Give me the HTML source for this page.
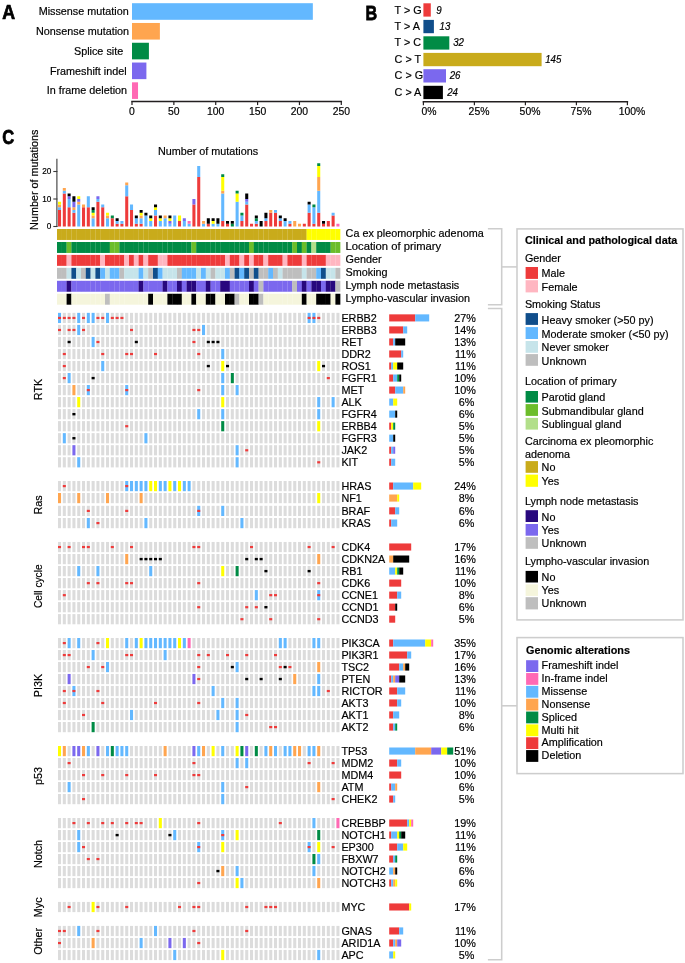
<!DOCTYPE html>
<html><head><meta charset="utf-8"><title>Figure</title>
<style>
html,body{margin:0;padding:0;background:#fff;}
body{width:685px;height:963px;overflow:hidden;}
svg{display:block;font-family:"Liberation Sans", sans-serif;will-change:transform;} text{stroke:#000;stroke-width:0.18px;} text.h{stroke-width:0.75px;} .g{fill:#dcdcdc;}
</style></head>
<body><svg width="685" height="963" viewBox="0 0 685 963" shape-rendering="auto">
<rect x="0" y="0" width="685" height="963" fill="#fff"/>
<text x="0" y="0" font-size="20.2" font-weight="bold" fill="#000000" class="h" transform="translate(2.3,19.4) scale(0.88,1)">A</text>
<rect x="132" y="3.2" width="180.84" height="16.6" fill="#63b8ff"/>
<text x="128.70" y="15.20" font-size="10.8" text-anchor="end" fill="#000000">Missense mutation</text>
<rect x="132" y="22.98" width="27.88" height="16.6" fill="#ffa54f"/>
<text x="129.10" y="34.98" font-size="10.8" text-anchor="end" fill="#000000">Nonsense mutation</text>
<rect x="132" y="42.76" width="16.91" height="16.6" fill="#008b45"/>
<text x="123.20" y="54.76" font-size="10.8" text-anchor="end" fill="#000000">Splice site</text>
<rect x="132" y="62.54" width="14.4" height="16.6" fill="#7b68ee"/>
<text x="126.70" y="74.54" font-size="10.8" text-anchor="end" fill="#000000">Frameshift indel</text>
<rect x="132" y="82.32" width="6.03" height="16.6" fill="#ff69b4"/>
<text x="127.10" y="94.32" font-size="10.8" text-anchor="end" fill="#000000">In frame deletion</text>
<line x1="131.25" y1="101.60" x2="342.05" y2="101.60" stroke="#231f20" stroke-width="1.5"/>
<line x1="132.00" y1="101.60" x2="132.00" y2="105.10" stroke="#231f20" stroke-width="1.2"/>
<text x="132.00" y="114.90" font-size="10.4" text-anchor="middle" fill="#000000">0</text>
<line x1="173.86" y1="101.60" x2="173.86" y2="105.10" stroke="#231f20" stroke-width="1.2"/>
<text x="173.86" y="114.90" font-size="10.4" text-anchor="middle" fill="#000000">50</text>
<line x1="215.72" y1="101.60" x2="215.72" y2="105.10" stroke="#231f20" stroke-width="1.2"/>
<text x="215.72" y="114.90" font-size="10.4" text-anchor="middle" fill="#000000">100</text>
<line x1="257.58" y1="101.60" x2="257.58" y2="105.10" stroke="#231f20" stroke-width="1.2"/>
<text x="257.58" y="114.90" font-size="10.4" text-anchor="middle" fill="#000000">150</text>
<line x1="299.44" y1="101.60" x2="299.44" y2="105.10" stroke="#231f20" stroke-width="1.2"/>
<text x="299.44" y="114.90" font-size="10.4" text-anchor="middle" fill="#000000">200</text>
<line x1="341.30" y1="101.60" x2="341.30" y2="105.10" stroke="#231f20" stroke-width="1.2"/>
<text x="341.30" y="114.90" font-size="10.4" text-anchor="middle" fill="#000000">250</text>
<text x="0" y="0" font-size="20.2" font-weight="bold" fill="#000000" class="h" transform="translate(365.6,19.7) scale(0.80,1)">B</text>
<rect x="423.4" y="3.3" width="7.4" height="13.3" fill="#ee3b3b"/>
<text x="394.60" y="13.60" font-size="10.8" fill="#000000">T &gt; G</text>
<text x="0" y="0" font-size="9.7" font-style="italic" fill="#000000" transform="translate(436.30,13.60) scale(1,1.05)">9</text>
<rect x="423.4" y="19.9" width="10.5" height="13.3" fill="#104e8b"/>
<text x="394.60" y="30.00" font-size="10.8" fill="#000000">T &gt; A</text>
<text x="0" y="0" font-size="9.7" font-style="italic" fill="#000000" transform="translate(439.60,30.00) scale(1,1.05)">13</text>
<rect x="423.4" y="36.3" width="25.9" height="13.3" fill="#008b45"/>
<text x="394.60" y="46.40" font-size="10.8" fill="#000000">T &gt; C</text>
<text x="0" y="0" font-size="9.7" font-style="italic" fill="#000000" transform="translate(453.20,46.40) scale(1,1.05)">32</text>
<rect x="423.4" y="52.9" width="118.2" height="13.3" fill="#c9ab1b"/>
<text x="394.60" y="62.90" font-size="10.8" fill="#000000">C &gt; T</text>
<text x="0" y="0" font-size="9.7" font-style="italic" fill="#000000" transform="translate(545.20,62.90) scale(1,1.05)">145</text>
<rect x="423.4" y="69.2" width="22.6" height="13.3" fill="#7b68ee"/>
<text x="394.60" y="79.10" font-size="10.8" fill="#000000">C &gt; G</text>
<text x="0" y="0" font-size="9.7" font-style="italic" fill="#000000" transform="translate(449.70,79.10) scale(1,1.05)">26</text>
<rect x="423.4" y="85.8" width="19.5" height="13.3" fill="#000000"/>
<text x="394.60" y="95.60" font-size="10.8" fill="#000000">C &gt; A</text>
<text x="0" y="0" font-size="9.7" font-style="italic" fill="#000000" transform="translate(447.20,95.60) scale(1,1.05)">24</text>
<line x1="422.65" y1="101.85" x2="628.15" y2="101.85" stroke="#231f20" stroke-width="1.5"/>
<line x1="423.40" y1="101.85" x2="423.40" y2="105.35" stroke="#231f20" stroke-width="1.2"/>
<text x="421.41" y="114.90" font-size="10.4" fill="#000000">0%</text>
<line x1="474.40" y1="101.85" x2="474.40" y2="105.35" stroke="#231f20" stroke-width="1.2"/>
<text x="468.62" y="114.90" font-size="10.4" fill="#000000">25%</text>
<line x1="525.40" y1="101.85" x2="525.40" y2="105.35" stroke="#231f20" stroke-width="1.2"/>
<text x="519.62" y="114.90" font-size="10.4" fill="#000000">50%</text>
<line x1="576.40" y1="101.85" x2="576.40" y2="105.35" stroke="#231f20" stroke-width="1.2"/>
<text x="570.62" y="114.90" font-size="10.4" fill="#000000">75%</text>
<line x1="627.40" y1="101.85" x2="627.40" y2="105.35" stroke="#231f20" stroke-width="1.2"/>
<text x="618.73" y="114.90" font-size="10.4" fill="#000000">100%</text>
<text x="0" y="0" font-size="20.2" font-weight="bold" fill="#000000" class="h" transform="translate(2.3,143.6) scale(0.82,1)">C</text>
<text x="208.00" y="154.90" font-size="10.8" text-anchor="middle" fill="#000000">Number of mutations</text>
<text x="0" y="0" font-size="10.8" fill="#000000" text-anchor="middle" transform="translate(38.3,179.8) rotate(-90)">Number of mutations</text>
<line x1="56.90" y1="158.80" x2="56.90" y2="226.90" stroke="#3a3a3a" stroke-width="1.1"/>
<line x1="53.30" y1="226.50" x2="57.40" y2="226.50" stroke="#3a3a3a" stroke-width="1.1"/>
<text x="51.30" y="229.40" font-size="8.2" text-anchor="end" fill="#000000">0</text>
<line x1="53.30" y1="199.00" x2="57.40" y2="199.00" stroke="#3a3a3a" stroke-width="1.1"/>
<text x="51.30" y="201.90" font-size="8.2" text-anchor="end" fill="#000000">10</text>
<line x1="53.30" y1="171.50" x2="57.40" y2="171.50" stroke="#3a3a3a" stroke-width="1.1"/>
<text x="51.30" y="174.40" font-size="8.2" text-anchor="end" fill="#000000">20</text>
<rect x="58" y="210" width="3.05" height="16.5" fill="#ee3b3b"/>
<rect x="58" y="207.25" width="3.05" height="2.75" fill="#63b8ff"/>
<rect x="58" y="204.5" width="3.05" height="2.75" fill="#ffa54f"/>
<rect x="58" y="201.75" width="3.05" height="2.75" fill="#ffff00"/>
<rect x="62.8" y="193.5" width="3.05" height="33" fill="#ee3b3b"/>
<rect x="62.8" y="190.75" width="3.05" height="2.75" fill="#63b8ff"/>
<rect x="62.8" y="188" width="3.05" height="2.75" fill="#ffa54f"/>
<rect x="67.6" y="207.25" width="3.05" height="19.25" fill="#ee3b3b"/>
<rect x="67.6" y="199" width="3.05" height="8.25" fill="#63b8ff"/>
<rect x="67.6" y="196.25" width="3.05" height="2.75" fill="#7b68ee"/>
<rect x="67.6" y="193.5" width="3.05" height="2.75" fill="#000000"/>
<rect x="72.4" y="212.75" width="3.05" height="13.75" fill="#ee3b3b"/>
<rect x="72.4" y="210" width="3.05" height="2.75" fill="#63b8ff"/>
<rect x="72.4" y="207.25" width="3.05" height="2.75" fill="#ffa54f"/>
<rect x="72.4" y="201.75" width="3.05" height="5.5" fill="#7b68ee"/>
<rect x="72.4" y="196.25" width="3.05" height="5.5" fill="#000000"/>
<rect x="77.2" y="204.5" width="3.05" height="22" fill="#63b8ff"/>
<rect x="77.2" y="201.75" width="3.05" height="2.75" fill="#ffa54f"/>
<rect x="77.2" y="199" width="3.05" height="2.75" fill="#7b68ee"/>
<rect x="77.2" y="196.25" width="3.05" height="2.75" fill="#ffff00"/>
<rect x="82" y="207.25" width="3.05" height="19.25" fill="#ee3b3b"/>
<rect x="82" y="204.5" width="3.05" height="2.75" fill="#ffa54f"/>
<rect x="86.8" y="207.25" width="3.05" height="19.25" fill="#ee3b3b"/>
<rect x="86.8" y="196.25" width="3.05" height="11" fill="#63b8ff"/>
<rect x="91.6" y="218.25" width="3.05" height="8.25" fill="#63b8ff"/>
<rect x="91.6" y="215.5" width="3.05" height="2.75" fill="#ffa54f"/>
<rect x="91.6" y="212.75" width="3.05" height="2.75" fill="#ffff00"/>
<rect x="91.6" y="210" width="3.05" height="2.75" fill="#008b45"/>
<rect x="91.6" y="207.25" width="3.05" height="2.75" fill="#000000"/>
<rect x="96.4" y="201.75" width="3.05" height="24.75" fill="#ee3b3b"/>
<rect x="96.4" y="199" width="3.05" height="2.75" fill="#63b8ff"/>
<rect x="96.4" y="196.25" width="3.05" height="2.75" fill="#7b68ee"/>
<rect x="101.2" y="207.25" width="3.05" height="19.25" fill="#ee3b3b"/>
<rect x="101.2" y="204.5" width="3.05" height="2.75" fill="#63b8ff"/>
<rect x="106" y="218.25" width="3.05" height="8.25" fill="#63b8ff"/>
<rect x="106" y="215.5" width="3.05" height="2.75" fill="#ffa54f"/>
<rect x="106" y="212.75" width="3.05" height="2.75" fill="#ffff00"/>
<rect x="110.8" y="218.25" width="3.05" height="8.25" fill="#ee3b3b"/>
<rect x="110.8" y="215.5" width="3.05" height="2.75" fill="#008b45"/>
<rect x="115.6" y="223.75" width="3.05" height="2.75" fill="#ee3b3b"/>
<rect x="115.6" y="221" width="3.05" height="2.75" fill="#63b8ff"/>
<rect x="115.6" y="218.25" width="3.05" height="2.75" fill="#000000"/>
<rect x="120.4" y="223.75" width="3.05" height="2.75" fill="#ee3b3b"/>
<rect x="120.4" y="221" width="3.05" height="2.75" fill="#63b8ff"/>
<rect x="125.2" y="196.25" width="3.05" height="30.25" fill="#ee3b3b"/>
<rect x="125.2" y="185.25" width="3.05" height="11" fill="#63b8ff"/>
<rect x="125.2" y="182.5" width="3.05" height="2.75" fill="#ffa54f"/>
<rect x="130" y="210" width="3.05" height="16.5" fill="#ee3b3b"/>
<rect x="130" y="204.5" width="3.05" height="5.5" fill="#63b8ff"/>
<rect x="134.8" y="223.75" width="3.05" height="2.75" fill="#ee3b3b"/>
<rect x="134.8" y="218.25" width="3.05" height="5.5" fill="#63b8ff"/>
<rect x="134.8" y="215.5" width="3.05" height="2.75" fill="#000000"/>
<rect x="139.6" y="223.75" width="3.05" height="2.75" fill="#ee3b3b"/>
<rect x="139.6" y="218.25" width="3.05" height="5.5" fill="#63b8ff"/>
<rect x="139.6" y="215.5" width="3.05" height="2.75" fill="#ffa54f"/>
<rect x="139.6" y="212.75" width="3.05" height="2.75" fill="#ffff00"/>
<rect x="139.6" y="210" width="3.05" height="2.75" fill="#000000"/>
<rect x="144.4" y="215.5" width="3.05" height="11" fill="#63b8ff"/>
<rect x="144.4" y="212.75" width="3.05" height="2.75" fill="#000000"/>
<rect x="149.2" y="221" width="3.05" height="5.5" fill="#63b8ff"/>
<rect x="149.2" y="218.25" width="3.05" height="2.75" fill="#ffff00"/>
<rect x="149.2" y="215.5" width="3.05" height="2.75" fill="#000000"/>
<rect x="154" y="215.5" width="3.05" height="11" fill="#ee3b3b"/>
<rect x="154" y="210" width="3.05" height="5.5" fill="#63b8ff"/>
<rect x="154" y="207.25" width="3.05" height="2.75" fill="#ffff00"/>
<rect x="154" y="204.5" width="3.05" height="2.75" fill="#000000"/>
<rect x="158.8" y="221" width="3.05" height="5.5" fill="#63b8ff"/>
<rect x="158.8" y="218.25" width="3.05" height="2.75" fill="#ffff00"/>
<rect x="158.8" y="215.5" width="3.05" height="2.75" fill="#000000"/>
<rect x="163.6" y="218.25" width="3.05" height="8.25" fill="#63b8ff"/>
<rect x="163.6" y="215.5" width="3.05" height="2.75" fill="#ffa54f"/>
<rect x="168.4" y="223.75" width="3.05" height="2.75" fill="#63b8ff"/>
<rect x="168.4" y="221" width="3.05" height="2.75" fill="#7b68ee"/>
<rect x="168.4" y="218.25" width="3.05" height="2.75" fill="#ffff00"/>
<rect x="168.4" y="215.5" width="3.05" height="2.75" fill="#000000"/>
<rect x="173.2" y="215.5" width="3.05" height="11" fill="#63b8ff"/>
<rect x="178" y="221" width="3.05" height="5.5" fill="#ee3b3b"/>
<rect x="178" y="215.5" width="3.05" height="5.5" fill="#ffff00"/>
<rect x="182.8" y="221" width="3.05" height="5.5" fill="#63b8ff"/>
<rect x="182.8" y="218.25" width="3.05" height="2.75" fill="#7b68ee"/>
<rect x="187.6" y="223.75" width="3.05" height="2.75" fill="#63b8ff"/>
<rect x="187.6" y="221" width="3.05" height="2.75" fill="#ff69b4"/>
<rect x="192.4" y="204.5" width="3.05" height="22" fill="#ee3b3b"/>
<rect x="192.4" y="199" width="3.05" height="5.5" fill="#7b68ee"/>
<rect x="197.2" y="177" width="3.05" height="49.5" fill="#ee3b3b"/>
<rect x="197.2" y="166" width="3.05" height="11" fill="#63b8ff"/>
<rect x="202" y="223.75" width="3.05" height="2.75" fill="#63b8ff"/>
<rect x="202" y="221" width="3.05" height="2.75" fill="#ffa54f"/>
<rect x="206.8" y="223.75" width="3.05" height="2.75" fill="#ee3b3b"/>
<rect x="206.8" y="218.25" width="3.05" height="5.5" fill="#000000"/>
<rect x="211.6" y="223.75" width="3.05" height="2.75" fill="#63b8ff"/>
<rect x="211.6" y="221" width="3.05" height="2.75" fill="#ffff00"/>
<rect x="211.6" y="218.25" width="3.05" height="2.75" fill="#000000"/>
<rect x="216.4" y="223.75" width="3.05" height="2.75" fill="#63b8ff"/>
<rect x="216.4" y="218.25" width="3.05" height="5.5" fill="#000000"/>
<rect x="221.2" y="221" width="3.05" height="5.5" fill="#ee3b3b"/>
<rect x="221.2" y="193.5" width="3.05" height="27.5" fill="#63b8ff"/>
<rect x="221.2" y="190.75" width="3.05" height="2.75" fill="#ffa54f"/>
<rect x="221.2" y="177" width="3.05" height="13.75" fill="#ffff00"/>
<rect x="221.2" y="174.25" width="3.05" height="2.75" fill="#008b45"/>
<rect x="226" y="223.75" width="3.05" height="2.75" fill="#ee3b3b"/>
<rect x="226" y="221" width="3.05" height="2.75" fill="#000000"/>
<rect x="230.8" y="223.75" width="3.05" height="2.75" fill="#008b45"/>
<rect x="230.8" y="221" width="3.05" height="2.75" fill="#000000"/>
<rect x="235.6" y="201.75" width="3.05" height="24.75" fill="#63b8ff"/>
<rect x="235.6" y="193.5" width="3.05" height="8.25" fill="#ffff00"/>
<rect x="235.6" y="190.75" width="3.05" height="2.75" fill="#008b45"/>
<rect x="240.4" y="221" width="3.05" height="5.5" fill="#ee3b3b"/>
<rect x="240.4" y="215.5" width="3.05" height="5.5" fill="#63b8ff"/>
<rect x="240.4" y="212.75" width="3.05" height="2.75" fill="#008b45"/>
<rect x="245.2" y="204.5" width="3.05" height="22" fill="#ee3b3b"/>
<rect x="245.2" y="201.75" width="3.05" height="2.75" fill="#63b8ff"/>
<rect x="245.2" y="199" width="3.05" height="2.75" fill="#7b68ee"/>
<rect x="245.2" y="193.5" width="3.05" height="5.5" fill="#000000"/>
<rect x="250" y="223.75" width="3.05" height="2.75" fill="#ee3b3b"/>
<rect x="254.8" y="223.75" width="3.05" height="2.75" fill="#ee3b3b"/>
<rect x="254.8" y="221" width="3.05" height="2.75" fill="#63b8ff"/>
<rect x="254.8" y="218.25" width="3.05" height="2.75" fill="#008b45"/>
<rect x="254.8" y="215.5" width="3.05" height="2.75" fill="#000000"/>
<rect x="259.6" y="221" width="3.05" height="5.5" fill="#000000"/>
<rect x="264.4" y="221" width="3.05" height="5.5" fill="#ee3b3b"/>
<rect x="264.4" y="218.25" width="3.05" height="2.75" fill="#63b8ff"/>
<rect x="264.4" y="212.75" width="3.05" height="5.5" fill="#000000"/>
<rect x="269.2" y="212.75" width="3.05" height="13.75" fill="#ee3b3b"/>
<rect x="269.2" y="210" width="3.05" height="2.75" fill="#ffa54f"/>
<rect x="274" y="212.75" width="3.05" height="13.75" fill="#ee3b3b"/>
<rect x="274" y="210" width="3.05" height="2.75" fill="#63b8ff"/>
<rect x="278.8" y="221" width="3.05" height="5.5" fill="#ee3b3b"/>
<rect x="278.8" y="218.25" width="3.05" height="2.75" fill="#63b8ff"/>
<rect x="278.8" y="215.5" width="3.05" height="2.75" fill="#000000"/>
<rect x="283.6" y="221" width="3.05" height="5.5" fill="#63b8ff"/>
<rect x="283.6" y="218.25" width="3.05" height="2.75" fill="#000000"/>
<rect x="288.4" y="223.75" width="3.05" height="2.75" fill="#ee3b3b"/>
<rect x="288.4" y="221" width="3.05" height="2.75" fill="#63b8ff"/>
<rect x="293.2" y="221" width="3.05" height="5.5" fill="#ffa54f"/>
<rect x="298" y="223.75" width="3.05" height="2.75" fill="#ffa54f"/>
<rect x="302.8" y="223.75" width="3.05" height="2.75" fill="#ee3b3b"/>
<rect x="307.6" y="212.75" width="3.05" height="13.75" fill="#ee3b3b"/>
<rect x="307.6" y="204.5" width="3.05" height="8.25" fill="#63b8ff"/>
<rect x="307.6" y="201.75" width="3.05" height="2.75" fill="#000000"/>
<rect x="312.4" y="223.75" width="3.05" height="2.75" fill="#ee3b3b"/>
<rect x="312.4" y="207.25" width="3.05" height="16.5" fill="#63b8ff"/>
<rect x="312.4" y="204.5" width="3.05" height="2.75" fill="#008b45"/>
<rect x="317.2" y="212.75" width="3.05" height="13.75" fill="#ee3b3b"/>
<rect x="317.2" y="190.75" width="3.05" height="22" fill="#63b8ff"/>
<rect x="317.2" y="177" width="3.05" height="13.75" fill="#ffa54f"/>
<rect x="317.2" y="166" width="3.05" height="11" fill="#ffff00"/>
<rect x="317.2" y="163.25" width="3.05" height="2.75" fill="#008b45"/>
<rect x="322" y="223.75" width="3.05" height="2.75" fill="#ee3b3b"/>
<rect x="322" y="221" width="3.05" height="2.75" fill="#000000"/>
<rect x="326.8" y="221" width="3.05" height="5.5" fill="#ee3b3b"/>
<rect x="331.6" y="215.5" width="3.05" height="11" fill="#ee3b3b"/>
<rect x="331.6" y="212.75" width="3.05" height="2.75" fill="#63b8ff"/>
<rect x="336.4" y="223.75" width="3.05" height="2.75" fill="#ff69b4"/>
<rect x="57" y="229" width="4.95" height="10.95" fill="#c9ab1b"/>
<rect x="61.8" y="229" width="4.95" height="10.95" fill="#c9ab1b"/>
<rect x="66.6" y="229" width="4.95" height="10.95" fill="#c9ab1b"/>
<rect x="71.4" y="229" width="4.95" height="10.95" fill="#c9ab1b"/>
<rect x="76.2" y="229" width="4.95" height="10.95" fill="#c9ab1b"/>
<rect x="81" y="229" width="4.95" height="10.95" fill="#c9ab1b"/>
<rect x="85.8" y="229" width="4.95" height="10.95" fill="#c9ab1b"/>
<rect x="90.6" y="229" width="4.95" height="10.95" fill="#c9ab1b"/>
<rect x="95.4" y="229" width="4.95" height="10.95" fill="#c9ab1b"/>
<rect x="100.2" y="229" width="4.95" height="10.95" fill="#c9ab1b"/>
<rect x="105" y="229" width="4.95" height="10.95" fill="#c9ab1b"/>
<rect x="109.8" y="229" width="4.95" height="10.95" fill="#c9ab1b"/>
<rect x="114.6" y="229" width="4.95" height="10.95" fill="#c9ab1b"/>
<rect x="119.4" y="229" width="4.95" height="10.95" fill="#c9ab1b"/>
<rect x="124.2" y="229" width="4.95" height="10.95" fill="#c9ab1b"/>
<rect x="129" y="229" width="4.95" height="10.95" fill="#c9ab1b"/>
<rect x="133.8" y="229" width="4.95" height="10.95" fill="#c9ab1b"/>
<rect x="138.6" y="229" width="4.95" height="10.95" fill="#c9ab1b"/>
<rect x="143.4" y="229" width="4.95" height="10.95" fill="#c9ab1b"/>
<rect x="148.2" y="229" width="4.95" height="10.95" fill="#c9ab1b"/>
<rect x="153" y="229" width="4.95" height="10.95" fill="#c9ab1b"/>
<rect x="157.8" y="229" width="4.95" height="10.95" fill="#c9ab1b"/>
<rect x="162.6" y="229" width="4.95" height="10.95" fill="#c9ab1b"/>
<rect x="167.4" y="229" width="4.95" height="10.95" fill="#c9ab1b"/>
<rect x="172.2" y="229" width="4.95" height="10.95" fill="#c9ab1b"/>
<rect x="177" y="229" width="4.95" height="10.95" fill="#c9ab1b"/>
<rect x="181.8" y="229" width="4.95" height="10.95" fill="#c9ab1b"/>
<rect x="186.6" y="229" width="4.95" height="10.95" fill="#c9ab1b"/>
<rect x="191.4" y="229" width="4.95" height="10.95" fill="#c9ab1b"/>
<rect x="196.2" y="229" width="4.95" height="10.95" fill="#c9ab1b"/>
<rect x="201" y="229" width="4.95" height="10.95" fill="#c9ab1b"/>
<rect x="205.8" y="229" width="4.95" height="10.95" fill="#c9ab1b"/>
<rect x="210.6" y="229" width="4.95" height="10.95" fill="#c9ab1b"/>
<rect x="215.4" y="229" width="4.95" height="10.95" fill="#c9ab1b"/>
<rect x="220.2" y="229" width="4.95" height="10.95" fill="#c9ab1b"/>
<rect x="225" y="229" width="4.95" height="10.95" fill="#c9ab1b"/>
<rect x="229.8" y="229" width="4.95" height="10.95" fill="#c9ab1b"/>
<rect x="234.6" y="229" width="4.95" height="10.95" fill="#c9ab1b"/>
<rect x="239.4" y="229" width="4.95" height="10.95" fill="#c9ab1b"/>
<rect x="244.2" y="229" width="4.95" height="10.95" fill="#c9ab1b"/>
<rect x="249" y="229" width="4.95" height="10.95" fill="#c9ab1b"/>
<rect x="253.8" y="229" width="4.95" height="10.95" fill="#c9ab1b"/>
<rect x="258.6" y="229" width="4.95" height="10.95" fill="#c9ab1b"/>
<rect x="263.4" y="229" width="4.95" height="10.95" fill="#c9ab1b"/>
<rect x="268.2" y="229" width="4.95" height="10.95" fill="#c9ab1b"/>
<rect x="273" y="229" width="4.95" height="10.95" fill="#c9ab1b"/>
<rect x="277.8" y="229" width="4.95" height="10.95" fill="#c9ab1b"/>
<rect x="282.6" y="229" width="4.95" height="10.95" fill="#c9ab1b"/>
<rect x="287.4" y="229" width="4.95" height="10.95" fill="#c9ab1b"/>
<rect x="292.2" y="229" width="4.95" height="10.95" fill="#c9ab1b"/>
<rect x="297" y="229" width="4.95" height="10.95" fill="#c9ab1b"/>
<rect x="301.8" y="229" width="4.95" height="10.95" fill="#c9ab1b"/>
<rect x="306.6" y="229" width="4.95" height="10.95" fill="#ffff00"/>
<rect x="311.4" y="229" width="4.95" height="10.95" fill="#ffff00"/>
<rect x="316.2" y="229" width="4.95" height="10.95" fill="#ffff00"/>
<rect x="321" y="229" width="4.95" height="10.95" fill="#ffff00"/>
<rect x="325.8" y="229" width="4.95" height="10.95" fill="#ffff00"/>
<rect x="330.6" y="229" width="4.95" height="10.95" fill="#ffff00"/>
<rect x="335.4" y="229" width="4.95" height="10.95" fill="#ffff00"/>
<text x="345.60" y="236.80" font-size="10.8" fill="#000000">Ca ex pleomorphic adenoma</text>
<rect x="57" y="242" width="4.95" height="10.95" fill="#008b45"/>
<rect x="61.8" y="242" width="4.95" height="10.95" fill="#008b45"/>
<rect x="66.6" y="242" width="4.95" height="10.95" fill="#6cbd2a"/>
<rect x="71.4" y="242" width="4.95" height="10.95" fill="#008b45"/>
<rect x="76.2" y="242" width="4.95" height="10.95" fill="#008b45"/>
<rect x="81" y="242" width="4.95" height="10.95" fill="#008b45"/>
<rect x="85.8" y="242" width="4.95" height="10.95" fill="#008b45"/>
<rect x="90.6" y="242" width="4.95" height="10.95" fill="#008b45"/>
<rect x="95.4" y="242" width="4.95" height="10.95" fill="#008b45"/>
<rect x="100.2" y="242" width="4.95" height="10.95" fill="#008b45"/>
<rect x="105" y="242" width="4.95" height="10.95" fill="#008b45"/>
<rect x="109.8" y="242" width="4.95" height="10.95" fill="#6cbd2a"/>
<rect x="114.6" y="242" width="4.95" height="10.95" fill="#6cbd2a"/>
<rect x="119.4" y="242" width="4.95" height="10.95" fill="#008b45"/>
<rect x="124.2" y="242" width="4.95" height="10.95" fill="#008b45"/>
<rect x="129" y="242" width="4.95" height="10.95" fill="#008b45"/>
<rect x="133.8" y="242" width="4.95" height="10.95" fill="#008b45"/>
<rect x="138.6" y="242" width="4.95" height="10.95" fill="#008b45"/>
<rect x="143.4" y="242" width="4.95" height="10.95" fill="#008b45"/>
<rect x="148.2" y="242" width="4.95" height="10.95" fill="#008b45"/>
<rect x="153" y="242" width="4.95" height="10.95" fill="#008b45"/>
<rect x="157.8" y="242" width="4.95" height="10.95" fill="#008b45"/>
<rect x="162.6" y="242" width="4.95" height="10.95" fill="#008b45"/>
<rect x="167.4" y="242" width="4.95" height="10.95" fill="#008b45"/>
<rect x="172.2" y="242" width="4.95" height="10.95" fill="#008b45"/>
<rect x="177" y="242" width="4.95" height="10.95" fill="#008b45"/>
<rect x="181.8" y="242" width="4.95" height="10.95" fill="#008b45"/>
<rect x="186.6" y="242" width="4.95" height="10.95" fill="#008b45"/>
<rect x="191.4" y="242" width="4.95" height="10.95" fill="#6cbd2a"/>
<rect x="196.2" y="242" width="4.95" height="10.95" fill="#008b45"/>
<rect x="201" y="242" width="4.95" height="10.95" fill="#008b45"/>
<rect x="205.8" y="242" width="4.95" height="10.95" fill="#008b45"/>
<rect x="210.6" y="242" width="4.95" height="10.95" fill="#008b45"/>
<rect x="215.4" y="242" width="4.95" height="10.95" fill="#008b45"/>
<rect x="220.2" y="242" width="4.95" height="10.95" fill="#008b45"/>
<rect x="225" y="242" width="4.95" height="10.95" fill="#008b45"/>
<rect x="229.8" y="242" width="4.95" height="10.95" fill="#008b45"/>
<rect x="234.6" y="242" width="4.95" height="10.95" fill="#008b45"/>
<rect x="239.4" y="242" width="4.95" height="10.95" fill="#008b45"/>
<rect x="244.2" y="242" width="4.95" height="10.95" fill="#008b45"/>
<rect x="249" y="242" width="4.95" height="10.95" fill="#6cbd2a"/>
<rect x="253.8" y="242" width="4.95" height="10.95" fill="#008b45"/>
<rect x="258.6" y="242" width="4.95" height="10.95" fill="#008b45"/>
<rect x="263.4" y="242" width="4.95" height="10.95" fill="#008b45"/>
<rect x="268.2" y="242" width="4.95" height="10.95" fill="#008b45"/>
<rect x="273" y="242" width="4.95" height="10.95" fill="#008b45"/>
<rect x="277.8" y="242" width="4.95" height="10.95" fill="#008b45"/>
<rect x="282.6" y="242" width="4.95" height="10.95" fill="#008b45"/>
<rect x="287.4" y="242" width="4.95" height="10.95" fill="#008b45"/>
<rect x="292.2" y="242" width="4.95" height="10.95" fill="#6cbd2a"/>
<rect x="297" y="242" width="4.95" height="10.95" fill="#008b45"/>
<rect x="301.8" y="242" width="4.95" height="10.95" fill="#6cbd2a"/>
<rect x="306.6" y="242" width="4.95" height="10.95" fill="#008b45"/>
<rect x="311.4" y="242" width="4.95" height="10.95" fill="#b2df8a"/>
<rect x="316.2" y="242" width="4.95" height="10.95" fill="#008b45"/>
<rect x="321" y="242" width="4.95" height="10.95" fill="#008b45"/>
<rect x="325.8" y="242" width="4.95" height="10.95" fill="#008b45"/>
<rect x="330.6" y="242" width="4.95" height="10.95" fill="#6cbd2a"/>
<rect x="335.4" y="242" width="4.95" height="10.95" fill="#6cbd2a"/>
<text x="345.60" y="249.76" font-size="10.8" fill="#000000" textLength="95.6" lengthAdjust="spacingAndGlyphs">Location of primary</text>
<rect x="57" y="254.9" width="4.95" height="10.95" fill="#ee3b3b"/>
<rect x="61.8" y="254.9" width="4.95" height="10.95" fill="#ee3b3b"/>
<rect x="66.6" y="254.9" width="4.95" height="10.95" fill="#ffb6c1"/>
<rect x="71.4" y="254.9" width="4.95" height="10.95" fill="#ee3b3b"/>
<rect x="76.2" y="254.9" width="4.95" height="10.95" fill="#ee3b3b"/>
<rect x="81" y="254.9" width="4.95" height="10.95" fill="#ee3b3b"/>
<rect x="85.8" y="254.9" width="4.95" height="10.95" fill="#ee3b3b"/>
<rect x="90.6" y="254.9" width="4.95" height="10.95" fill="#ee3b3b"/>
<rect x="95.4" y="254.9" width="4.95" height="10.95" fill="#ee3b3b"/>
<rect x="100.2" y="254.9" width="4.95" height="10.95" fill="#ffb6c1"/>
<rect x="105" y="254.9" width="4.95" height="10.95" fill="#ee3b3b"/>
<rect x="109.8" y="254.9" width="4.95" height="10.95" fill="#ee3b3b"/>
<rect x="114.6" y="254.9" width="4.95" height="10.95" fill="#ee3b3b"/>
<rect x="119.4" y="254.9" width="4.95" height="10.95" fill="#ee3b3b"/>
<rect x="124.2" y="254.9" width="4.95" height="10.95" fill="#ffb6c1"/>
<rect x="129" y="254.9" width="4.95" height="10.95" fill="#ee3b3b"/>
<rect x="133.8" y="254.9" width="4.95" height="10.95" fill="#ffb6c1"/>
<rect x="138.6" y="254.9" width="4.95" height="10.95" fill="#ee3b3b"/>
<rect x="143.4" y="254.9" width="4.95" height="10.95" fill="#ffb6c1"/>
<rect x="148.2" y="254.9" width="4.95" height="10.95" fill="#ee3b3b"/>
<rect x="153" y="254.9" width="4.95" height="10.95" fill="#ee3b3b"/>
<rect x="157.8" y="254.9" width="4.95" height="10.95" fill="#ffb6c1"/>
<rect x="162.6" y="254.9" width="4.95" height="10.95" fill="#ffb6c1"/>
<rect x="167.4" y="254.9" width="4.95" height="10.95" fill="#ee3b3b"/>
<rect x="172.2" y="254.9" width="4.95" height="10.95" fill="#ee3b3b"/>
<rect x="177" y="254.9" width="4.95" height="10.95" fill="#ee3b3b"/>
<rect x="181.8" y="254.9" width="4.95" height="10.95" fill="#ee3b3b"/>
<rect x="186.6" y="254.9" width="4.95" height="10.95" fill="#ee3b3b"/>
<rect x="191.4" y="254.9" width="4.95" height="10.95" fill="#ee3b3b"/>
<rect x="196.2" y="254.9" width="4.95" height="10.95" fill="#ee3b3b"/>
<rect x="201" y="254.9" width="4.95" height="10.95" fill="#ee3b3b"/>
<rect x="205.8" y="254.9" width="4.95" height="10.95" fill="#ee3b3b"/>
<rect x="210.6" y="254.9" width="4.95" height="10.95" fill="#ee3b3b"/>
<rect x="215.4" y="254.9" width="4.95" height="10.95" fill="#ee3b3b"/>
<rect x="220.2" y="254.9" width="4.95" height="10.95" fill="#ee3b3b"/>
<rect x="225" y="254.9" width="4.95" height="10.95" fill="#ffb6c1"/>
<rect x="229.8" y="254.9" width="4.95" height="10.95" fill="#ee3b3b"/>
<rect x="234.6" y="254.9" width="4.95" height="10.95" fill="#ee3b3b"/>
<rect x="239.4" y="254.9" width="4.95" height="10.95" fill="#ffb6c1"/>
<rect x="244.2" y="254.9" width="4.95" height="10.95" fill="#ee3b3b"/>
<rect x="249" y="254.9" width="4.95" height="10.95" fill="#ffb6c1"/>
<rect x="253.8" y="254.9" width="4.95" height="10.95" fill="#ee3b3b"/>
<rect x="258.6" y="254.9" width="4.95" height="10.95" fill="#ee3b3b"/>
<rect x="263.4" y="254.9" width="4.95" height="10.95" fill="#ffb6c1"/>
<rect x="268.2" y="254.9" width="4.95" height="10.95" fill="#ee3b3b"/>
<rect x="273" y="254.9" width="4.95" height="10.95" fill="#ee3b3b"/>
<rect x="277.8" y="254.9" width="4.95" height="10.95" fill="#ee3b3b"/>
<rect x="282.6" y="254.9" width="4.95" height="10.95" fill="#ffb6c1"/>
<rect x="287.4" y="254.9" width="4.95" height="10.95" fill="#ee3b3b"/>
<rect x="292.2" y="254.9" width="4.95" height="10.95" fill="#ee3b3b"/>
<rect x="297" y="254.9" width="4.95" height="10.95" fill="#ee3b3b"/>
<rect x="301.8" y="254.9" width="4.95" height="10.95" fill="#ffb6c1"/>
<rect x="306.6" y="254.9" width="4.95" height="10.95" fill="#ee3b3b"/>
<rect x="311.4" y="254.9" width="4.95" height="10.95" fill="#ee3b3b"/>
<rect x="316.2" y="254.9" width="4.95" height="10.95" fill="#ee3b3b"/>
<rect x="321" y="254.9" width="4.95" height="10.95" fill="#ee3b3b"/>
<rect x="325.8" y="254.9" width="4.95" height="10.95" fill="#ffb6c1"/>
<rect x="330.6" y="254.9" width="4.95" height="10.95" fill="#ffb6c1"/>
<rect x="335.4" y="254.9" width="4.95" height="10.95" fill="#ffb6c1"/>
<text x="345.60" y="262.72" font-size="10.8" fill="#000000">Gender</text>
<rect x="57" y="267.85" width="4.95" height="10.95" fill="#bebebe"/>
<rect x="61.8" y="267.85" width="4.95" height="10.95" fill="#bebebe"/>
<rect x="66.6" y="267.85" width="4.95" height="10.95" fill="#c6e4ea"/>
<rect x="71.4" y="267.85" width="4.95" height="10.95" fill="#104e8b"/>
<rect x="76.2" y="267.85" width="4.95" height="10.95" fill="#c6e4ea"/>
<rect x="81" y="267.85" width="4.95" height="10.95" fill="#bebebe"/>
<rect x="85.8" y="267.85" width="4.95" height="10.95" fill="#104e8b"/>
<rect x="90.6" y="267.85" width="4.95" height="10.95" fill="#c6e4ea"/>
<rect x="95.4" y="267.85" width="4.95" height="10.95" fill="#104e8b"/>
<rect x="100.2" y="267.85" width="4.95" height="10.95" fill="#63b8ff"/>
<rect x="105" y="267.85" width="4.95" height="10.95" fill="#c6e4ea"/>
<rect x="109.8" y="267.85" width="4.95" height="10.95" fill="#63b8ff"/>
<rect x="114.6" y="267.85" width="4.95" height="10.95" fill="#63b8ff"/>
<rect x="119.4" y="267.85" width="4.95" height="10.95" fill="#bebebe"/>
<rect x="124.2" y="267.85" width="4.95" height="10.95" fill="#c6e4ea"/>
<rect x="129" y="267.85" width="4.95" height="10.95" fill="#c6e4ea"/>
<rect x="133.8" y="267.85" width="4.95" height="10.95" fill="#c6e4ea"/>
<rect x="138.6" y="267.85" width="4.95" height="10.95" fill="#63b8ff"/>
<rect x="143.4" y="267.85" width="4.95" height="10.95" fill="#c6e4ea"/>
<rect x="148.2" y="267.85" width="4.95" height="10.95" fill="#bebebe"/>
<rect x="153" y="267.85" width="4.95" height="10.95" fill="#104e8b"/>
<rect x="157.8" y="267.85" width="4.95" height="10.95" fill="#63b8ff"/>
<rect x="162.6" y="267.85" width="4.95" height="10.95" fill="#c6e4ea"/>
<rect x="167.4" y="267.85" width="4.95" height="10.95" fill="#c6e4ea"/>
<rect x="172.2" y="267.85" width="4.95" height="10.95" fill="#c6e4ea"/>
<rect x="177" y="267.85" width="4.95" height="10.95" fill="#bebebe"/>
<rect x="181.8" y="267.85" width="4.95" height="10.95" fill="#63b8ff"/>
<rect x="186.6" y="267.85" width="4.95" height="10.95" fill="#63b8ff"/>
<rect x="191.4" y="267.85" width="4.95" height="10.95" fill="#63b8ff"/>
<rect x="196.2" y="267.85" width="4.95" height="10.95" fill="#c6e4ea"/>
<rect x="201" y="267.85" width="4.95" height="10.95" fill="#63b8ff"/>
<rect x="205.8" y="267.85" width="4.95" height="10.95" fill="#c6e4ea"/>
<rect x="210.6" y="267.85" width="4.95" height="10.95" fill="#bebebe"/>
<rect x="215.4" y="267.85" width="4.95" height="10.95" fill="#c6e4ea"/>
<rect x="220.2" y="267.85" width="4.95" height="10.95" fill="#c6e4ea"/>
<rect x="225" y="267.85" width="4.95" height="10.95" fill="#63b8ff"/>
<rect x="229.8" y="267.85" width="4.95" height="10.95" fill="#bebebe"/>
<rect x="234.6" y="267.85" width="4.95" height="10.95" fill="#104e8b"/>
<rect x="239.4" y="267.85" width="4.95" height="10.95" fill="#63b8ff"/>
<rect x="244.2" y="267.85" width="4.95" height="10.95" fill="#104e8b"/>
<rect x="249" y="267.85" width="4.95" height="10.95" fill="#bebebe"/>
<rect x="253.8" y="267.85" width="4.95" height="10.95" fill="#104e8b"/>
<rect x="258.6" y="267.85" width="4.95" height="10.95" fill="#bebebe"/>
<rect x="263.4" y="267.85" width="4.95" height="10.95" fill="#bebebe"/>
<rect x="268.2" y="267.85" width="4.95" height="10.95" fill="#63b8ff"/>
<rect x="273" y="267.85" width="4.95" height="10.95" fill="#bebebe"/>
<rect x="277.8" y="267.85" width="4.95" height="10.95" fill="#c6e4ea"/>
<rect x="282.6" y="267.85" width="4.95" height="10.95" fill="#bebebe"/>
<rect x="287.4" y="267.85" width="4.95" height="10.95" fill="#bebebe"/>
<rect x="292.2" y="267.85" width="4.95" height="10.95" fill="#bebebe"/>
<rect x="297" y="267.85" width="4.95" height="10.95" fill="#bebebe"/>
<rect x="301.8" y="267.85" width="4.95" height="10.95" fill="#c6e4ea"/>
<rect x="306.6" y="267.85" width="4.95" height="10.95" fill="#bebebe"/>
<rect x="311.4" y="267.85" width="4.95" height="10.95" fill="#bebebe"/>
<rect x="316.2" y="267.85" width="4.95" height="10.95" fill="#63b8ff"/>
<rect x="321" y="267.85" width="4.95" height="10.95" fill="#104e8b"/>
<rect x="325.8" y="267.85" width="4.95" height="10.95" fill="#c6e4ea"/>
<rect x="330.6" y="267.85" width="4.95" height="10.95" fill="#c6e4ea"/>
<rect x="335.4" y="267.85" width="4.95" height="10.95" fill="#bebebe"/>
<text x="345.60" y="275.68" font-size="10.8" fill="#000000">Smoking</text>
<rect x="57" y="280.8" width="4.95" height="10.95" fill="#7b68ee"/>
<rect x="61.8" y="280.8" width="4.95" height="10.95" fill="#7b68ee"/>
<rect x="66.6" y="280.8" width="4.95" height="10.95" fill="#28087e"/>
<rect x="71.4" y="280.8" width="4.95" height="10.95" fill="#7b68ee"/>
<rect x="76.2" y="280.8" width="4.95" height="10.95" fill="#7b68ee"/>
<rect x="81" y="280.8" width="4.95" height="10.95" fill="#7b68ee"/>
<rect x="85.8" y="280.8" width="4.95" height="10.95" fill="#7b68ee"/>
<rect x="90.6" y="280.8" width="4.95" height="10.95" fill="#7b68ee"/>
<rect x="95.4" y="280.8" width="4.95" height="10.95" fill="#7b68ee"/>
<rect x="100.2" y="280.8" width="4.95" height="10.95" fill="#7b68ee"/>
<rect x="105" y="280.8" width="4.95" height="10.95" fill="#7b68ee"/>
<rect x="109.8" y="280.8" width="4.95" height="10.95" fill="#7b68ee"/>
<rect x="114.6" y="280.8" width="4.95" height="10.95" fill="#7b68ee"/>
<rect x="119.4" y="280.8" width="4.95" height="10.95" fill="#7b68ee"/>
<rect x="124.2" y="280.8" width="4.95" height="10.95" fill="#7b68ee"/>
<rect x="129" y="280.8" width="4.95" height="10.95" fill="#7b68ee"/>
<rect x="133.8" y="280.8" width="4.95" height="10.95" fill="#7b68ee"/>
<rect x="138.6" y="280.8" width="4.95" height="10.95" fill="#28087e"/>
<rect x="143.4" y="280.8" width="4.95" height="10.95" fill="#7b68ee"/>
<rect x="148.2" y="280.8" width="4.95" height="10.95" fill="#7b68ee"/>
<rect x="153" y="280.8" width="4.95" height="10.95" fill="#7b68ee"/>
<rect x="157.8" y="280.8" width="4.95" height="10.95" fill="#7b68ee"/>
<rect x="162.6" y="280.8" width="4.95" height="10.95" fill="#28087e"/>
<rect x="167.4" y="280.8" width="4.95" height="10.95" fill="#7b68ee"/>
<rect x="172.2" y="280.8" width="4.95" height="10.95" fill="#7b68ee"/>
<rect x="177" y="280.8" width="4.95" height="10.95" fill="#28087e"/>
<rect x="181.8" y="280.8" width="4.95" height="10.95" fill="#7b68ee"/>
<rect x="186.6" y="280.8" width="4.95" height="10.95" fill="#28087e"/>
<rect x="191.4" y="280.8" width="4.95" height="10.95" fill="#28087e"/>
<rect x="196.2" y="280.8" width="4.95" height="10.95" fill="#7b68ee"/>
<rect x="201" y="280.8" width="4.95" height="10.95" fill="#7b68ee"/>
<rect x="205.8" y="280.8" width="4.95" height="10.95" fill="#28087e"/>
<rect x="210.6" y="280.8" width="4.95" height="10.95" fill="#7b68ee"/>
<rect x="215.4" y="280.8" width="4.95" height="10.95" fill="#7b68ee"/>
<rect x="220.2" y="280.8" width="4.95" height="10.95" fill="#28087e"/>
<rect x="225" y="280.8" width="4.95" height="10.95" fill="#28087e"/>
<rect x="229.8" y="280.8" width="4.95" height="10.95" fill="#7b68ee"/>
<rect x="234.6" y="280.8" width="4.95" height="10.95" fill="#7b68ee"/>
<rect x="239.4" y="280.8" width="4.95" height="10.95" fill="#7b68ee"/>
<rect x="244.2" y="280.8" width="4.95" height="10.95" fill="#7b68ee"/>
<rect x="249" y="280.8" width="4.95" height="10.95" fill="#28087e"/>
<rect x="253.8" y="280.8" width="4.95" height="10.95" fill="#7b68ee"/>
<rect x="258.6" y="280.8" width="4.95" height="10.95" fill="#bebebe"/>
<rect x="263.4" y="280.8" width="4.95" height="10.95" fill="#7b68ee"/>
<rect x="268.2" y="280.8" width="4.95" height="10.95" fill="#7b68ee"/>
<rect x="273" y="280.8" width="4.95" height="10.95" fill="#7b68ee"/>
<rect x="277.8" y="280.8" width="4.95" height="10.95" fill="#7b68ee"/>
<rect x="282.6" y="280.8" width="4.95" height="10.95" fill="#7b68ee"/>
<rect x="287.4" y="280.8" width="4.95" height="10.95" fill="#7b68ee"/>
<rect x="292.2" y="280.8" width="4.95" height="10.95" fill="#bebebe"/>
<rect x="297" y="280.8" width="4.95" height="10.95" fill="#7b68ee"/>
<rect x="301.8" y="280.8" width="4.95" height="10.95" fill="#28087e"/>
<rect x="306.6" y="280.8" width="4.95" height="10.95" fill="#7b68ee"/>
<rect x="311.4" y="280.8" width="4.95" height="10.95" fill="#28087e"/>
<rect x="316.2" y="280.8" width="4.95" height="10.95" fill="#28087e"/>
<rect x="321" y="280.8" width="4.95" height="10.95" fill="#7b68ee"/>
<rect x="325.8" y="280.8" width="4.95" height="10.95" fill="#28087e"/>
<rect x="330.6" y="280.8" width="4.95" height="10.95" fill="#28087e"/>
<rect x="335.4" y="280.8" width="4.95" height="10.95" fill="#bebebe"/>
<text x="345.60" y="288.64" font-size="10.8" fill="#000000">Lymph node metastasis</text>
<rect x="57" y="293.75" width="4.95" height="10.95" fill="#f5f5dc"/>
<rect x="61.8" y="293.75" width="4.95" height="10.95" fill="#f5f5dc"/>
<rect x="66.6" y="293.75" width="4.95" height="10.95" fill="#000000"/>
<rect x="71.4" y="293.75" width="4.95" height="10.95" fill="#f5f5dc"/>
<rect x="76.2" y="293.75" width="4.95" height="10.95" fill="#f5f5dc"/>
<rect x="81" y="293.75" width="4.95" height="10.95" fill="#f5f5dc"/>
<rect x="85.8" y="293.75" width="4.95" height="10.95" fill="#f5f5dc"/>
<rect x="90.6" y="293.75" width="4.95" height="10.95" fill="#f5f5dc"/>
<rect x="95.4" y="293.75" width="4.95" height="10.95" fill="#f5f5dc"/>
<rect x="100.2" y="293.75" width="4.95" height="10.95" fill="#f5f5dc"/>
<rect x="105" y="293.75" width="4.95" height="10.95" fill="#bebebe"/>
<rect x="109.8" y="293.75" width="4.95" height="10.95" fill="#f5f5dc"/>
<rect x="114.6" y="293.75" width="4.95" height="10.95" fill="#f5f5dc"/>
<rect x="119.4" y="293.75" width="4.95" height="10.95" fill="#f5f5dc"/>
<rect x="124.2" y="293.75" width="4.95" height="10.95" fill="#f5f5dc"/>
<rect x="129" y="293.75" width="4.95" height="10.95" fill="#f5f5dc"/>
<rect x="133.8" y="293.75" width="4.95" height="10.95" fill="#f5f5dc"/>
<rect x="138.6" y="293.75" width="4.95" height="10.95" fill="#f5f5dc"/>
<rect x="143.4" y="293.75" width="4.95" height="10.95" fill="#f5f5dc"/>
<rect x="148.2" y="293.75" width="4.95" height="10.95" fill="#000000"/>
<rect x="153" y="293.75" width="4.95" height="10.95" fill="#f5f5dc"/>
<rect x="157.8" y="293.75" width="4.95" height="10.95" fill="#f5f5dc"/>
<rect x="162.6" y="293.75" width="4.95" height="10.95" fill="#f5f5dc"/>
<rect x="167.4" y="293.75" width="4.95" height="10.95" fill="#000000"/>
<rect x="172.2" y="293.75" width="4.95" height="10.95" fill="#000000"/>
<rect x="177" y="293.75" width="4.95" height="10.95" fill="#000000"/>
<rect x="181.8" y="293.75" width="4.95" height="10.95" fill="#f5f5dc"/>
<rect x="186.6" y="293.75" width="4.95" height="10.95" fill="#f5f5dc"/>
<rect x="191.4" y="293.75" width="4.95" height="10.95" fill="#000000"/>
<rect x="196.2" y="293.75" width="4.95" height="10.95" fill="#f5f5dc"/>
<rect x="201" y="293.75" width="4.95" height="10.95" fill="#f5f5dc"/>
<rect x="205.8" y="293.75" width="4.95" height="10.95" fill="#000000"/>
<rect x="210.6" y="293.75" width="4.95" height="10.95" fill="#000000"/>
<rect x="215.4" y="293.75" width="4.95" height="10.95" fill="#f5f5dc"/>
<rect x="220.2" y="293.75" width="4.95" height="10.95" fill="#f5f5dc"/>
<rect x="225" y="293.75" width="4.95" height="10.95" fill="#000000"/>
<rect x="229.8" y="293.75" width="4.95" height="10.95" fill="#000000"/>
<rect x="234.6" y="293.75" width="4.95" height="10.95" fill="#bebebe"/>
<rect x="239.4" y="293.75" width="4.95" height="10.95" fill="#f5f5dc"/>
<rect x="244.2" y="293.75" width="4.95" height="10.95" fill="#f5f5dc"/>
<rect x="249" y="293.75" width="4.95" height="10.95" fill="#000000"/>
<rect x="253.8" y="293.75" width="4.95" height="10.95" fill="#000000"/>
<rect x="258.6" y="293.75" width="4.95" height="10.95" fill="#bebebe"/>
<rect x="263.4" y="293.75" width="4.95" height="10.95" fill="#f5f5dc"/>
<rect x="268.2" y="293.75" width="4.95" height="10.95" fill="#f5f5dc"/>
<rect x="273" y="293.75" width="4.95" height="10.95" fill="#f5f5dc"/>
<rect x="277.8" y="293.75" width="4.95" height="10.95" fill="#f5f5dc"/>
<rect x="282.6" y="293.75" width="4.95" height="10.95" fill="#f5f5dc"/>
<rect x="287.4" y="293.75" width="4.95" height="10.95" fill="#f5f5dc"/>
<rect x="292.2" y="293.75" width="4.95" height="10.95" fill="#f5f5dc"/>
<rect x="297" y="293.75" width="4.95" height="10.95" fill="#f5f5dc"/>
<rect x="301.8" y="293.75" width="4.95" height="10.95" fill="#000000"/>
<rect x="306.6" y="293.75" width="4.95" height="10.95" fill="#f5f5dc"/>
<rect x="311.4" y="293.75" width="4.95" height="10.95" fill="#f5f5dc"/>
<rect x="316.2" y="293.75" width="4.95" height="10.95" fill="#000000"/>
<rect x="321" y="293.75" width="4.95" height="10.95" fill="#000000"/>
<rect x="325.8" y="293.75" width="4.95" height="10.95" fill="#000000"/>
<rect x="330.6" y="293.75" width="4.95" height="10.95" fill="#f5f5dc"/>
<rect x="335.4" y="293.75" width="4.95" height="10.95" fill="#000000"/>
<text x="345.60" y="301.60" font-size="10.8" fill="#000000">Lympho-vascular invasion</text>
<rect x="58" y="312.85" width="3.05" height="10.2" fill="#63b8ff"/>
<rect x="58" y="316.85" width="3.05" height="2.2" fill="#ee3b3b"/>
<rect class="g" x="62.8" y="312.85" width="3.05" height="10.2"/>
<rect x="62.8" y="316.85" width="3.05" height="2.2" fill="#ee3b3b"/>
<rect class="g" x="67.6" y="312.85" width="3.05" height="10.2"/>
<rect x="67.6" y="316.85" width="3.05" height="2.2" fill="#ee3b3b"/>
<rect class="g" x="72.4" y="312.85" width="3.05" height="10.2"/>
<rect x="72.4" y="316.85" width="3.05" height="2.2" fill="#ee3b3b"/>
<rect x="77.2" y="312.85" width="3.05" height="10.2" fill="#63b8ff"/>
<rect class="g" x="82" y="312.85" width="3.05" height="10.2"/>
<rect x="82" y="316.85" width="3.05" height="2.2" fill="#ee3b3b"/>
<rect x="86.8" y="312.85" width="3.05" height="10.2" fill="#63b8ff"/>
<rect x="91.6" y="312.85" width="3.05" height="10.2" fill="#63b8ff"/>
<rect class="g" x="96.4" y="312.85" width="3.05" height="10.2"/>
<rect x="96.4" y="316.85" width="3.05" height="2.2" fill="#ee3b3b"/>
<rect class="g" x="101.2" y="312.85" width="3.05" height="10.2"/>
<rect x="101.2" y="316.85" width="3.05" height="2.2" fill="#ee3b3b"/>
<rect x="106" y="312.85" width="3.05" height="10.2" fill="#63b8ff"/>
<rect class="g" x="110.8" y="312.85" width="3.05" height="10.2"/>
<rect x="110.8" y="316.85" width="3.05" height="2.2" fill="#ee3b3b"/>
<rect class="g" x="115.6" y="312.85" width="3.05" height="10.2"/>
<rect x="115.6" y="316.85" width="3.05" height="2.2" fill="#ee3b3b"/>
<rect class="g" x="120.4" y="312.85" width="3.05" height="10.2"/>
<rect x="120.4" y="316.85" width="3.05" height="2.2" fill="#ee3b3b"/>
<rect class="g" x="125.2" y="312.85" width="3.05" height="10.2"/>
<rect class="g" x="130" y="312.85" width="3.05" height="10.2"/>
<rect class="g" x="134.8" y="312.85" width="3.05" height="10.2"/>
<rect class="g" x="139.6" y="312.85" width="3.05" height="10.2"/>
<rect class="g" x="144.4" y="312.85" width="3.05" height="10.2"/>
<rect class="g" x="149.2" y="312.85" width="3.05" height="10.2"/>
<rect class="g" x="154" y="312.85" width="3.05" height="10.2"/>
<rect class="g" x="158.8" y="312.85" width="3.05" height="10.2"/>
<rect class="g" x="163.6" y="312.85" width="3.05" height="10.2"/>
<rect class="g" x="168.4" y="312.85" width="3.05" height="10.2"/>
<rect class="g" x="173.2" y="312.85" width="3.05" height="10.2"/>
<rect class="g" x="178" y="312.85" width="3.05" height="10.2"/>
<rect class="g" x="182.8" y="312.85" width="3.05" height="10.2"/>
<rect class="g" x="187.6" y="312.85" width="3.05" height="10.2"/>
<rect class="g" x="192.4" y="312.85" width="3.05" height="10.2"/>
<rect class="g" x="197.2" y="312.85" width="3.05" height="10.2"/>
<rect class="g" x="202" y="312.85" width="3.05" height="10.2"/>
<rect class="g" x="206.8" y="312.85" width="3.05" height="10.2"/>
<rect class="g" x="211.6" y="312.85" width="3.05" height="10.2"/>
<rect class="g" x="216.4" y="312.85" width="3.05" height="10.2"/>
<rect class="g" x="221.2" y="312.85" width="3.05" height="10.2"/>
<rect class="g" x="226" y="312.85" width="3.05" height="10.2"/>
<rect class="g" x="230.8" y="312.85" width="3.05" height="10.2"/>
<rect class="g" x="235.6" y="312.85" width="3.05" height="10.2"/>
<rect class="g" x="240.4" y="312.85" width="3.05" height="10.2"/>
<rect class="g" x="245.2" y="312.85" width="3.05" height="10.2"/>
<rect class="g" x="250" y="312.85" width="3.05" height="10.2"/>
<rect class="g" x="254.8" y="312.85" width="3.05" height="10.2"/>
<rect class="g" x="259.6" y="312.85" width="3.05" height="10.2"/>
<rect class="g" x="264.4" y="312.85" width="3.05" height="10.2"/>
<rect class="g" x="269.2" y="312.85" width="3.05" height="10.2"/>
<rect class="g" x="274" y="312.85" width="3.05" height="10.2"/>
<rect class="g" x="278.8" y="312.85" width="3.05" height="10.2"/>
<rect class="g" x="283.6" y="312.85" width="3.05" height="10.2"/>
<rect class="g" x="288.4" y="312.85" width="3.05" height="10.2"/>
<rect class="g" x="293.2" y="312.85" width="3.05" height="10.2"/>
<rect class="g" x="298" y="312.85" width="3.05" height="10.2"/>
<rect class="g" x="302.8" y="312.85" width="3.05" height="10.2"/>
<rect x="307.6" y="312.85" width="3.05" height="10.2" fill="#63b8ff"/>
<rect x="307.6" y="316.85" width="3.05" height="2.2" fill="#ee3b3b"/>
<rect x="312.4" y="312.85" width="3.05" height="10.2" fill="#63b8ff"/>
<rect x="312.4" y="316.85" width="3.05" height="2.2" fill="#ee3b3b"/>
<rect class="g" x="317.2" y="312.85" width="3.05" height="10.2"/>
<rect x="317.2" y="316.85" width="3.05" height="2.2" fill="#ee3b3b"/>
<rect class="g" x="322" y="312.85" width="3.05" height="10.2"/>
<rect class="g" x="326.8" y="312.85" width="3.05" height="10.2"/>
<rect class="g" x="331.6" y="312.85" width="3.05" height="10.2"/>
<rect class="g" x="336.4" y="312.85" width="3.05" height="10.2"/>
<text x="341.40" y="321.75" font-size="10.8" fill="#000000">ERBB2</text>
<rect x="389.2" y="314.35" width="26" height="7.1" fill="#ee3b3b"/>
<rect x="415.2" y="314.35" width="14" height="7.1" fill="#63b8ff"/>
<text x="475.90" y="321.75" font-size="10.8" text-anchor="end" fill="#000000">27%</text>
<rect class="g" x="58" y="324.88" width="3.05" height="10.2"/>
<rect x="58" y="328.88" width="3.05" height="2.2" fill="#ee3b3b"/>
<rect class="g" x="62.8" y="324.88" width="3.05" height="10.2"/>
<rect class="g" x="67.6" y="324.88" width="3.05" height="10.2"/>
<rect x="67.6" y="328.88" width="3.05" height="2.2" fill="#ee3b3b"/>
<rect class="g" x="72.4" y="324.88" width="3.05" height="10.2"/>
<rect x="72.4" y="328.88" width="3.05" height="2.2" fill="#ee3b3b"/>
<rect x="77.2" y="324.88" width="3.05" height="10.2" fill="#63b8ff"/>
<rect class="g" x="82" y="324.88" width="3.05" height="10.2"/>
<rect x="82" y="328.88" width="3.05" height="2.2" fill="#ee3b3b"/>
<rect class="g" x="86.8" y="324.88" width="3.05" height="10.2"/>
<rect class="g" x="91.6" y="324.88" width="3.05" height="10.2"/>
<rect class="g" x="96.4" y="324.88" width="3.05" height="10.2"/>
<rect class="g" x="101.2" y="324.88" width="3.05" height="10.2"/>
<rect class="g" x="106" y="324.88" width="3.05" height="10.2"/>
<rect class="g" x="110.8" y="324.88" width="3.05" height="10.2"/>
<rect class="g" x="115.6" y="324.88" width="3.05" height="10.2"/>
<rect class="g" x="120.4" y="324.88" width="3.05" height="10.2"/>
<rect class="g" x="125.2" y="324.88" width="3.05" height="10.2"/>
<rect class="g" x="130" y="324.88" width="3.05" height="10.2"/>
<rect x="130" y="328.88" width="3.05" height="2.2" fill="#ee3b3b"/>
<rect class="g" x="134.8" y="324.88" width="3.05" height="10.2"/>
<rect class="g" x="139.6" y="324.88" width="3.05" height="10.2"/>
<rect class="g" x="144.4" y="324.88" width="3.05" height="10.2"/>
<rect class="g" x="149.2" y="324.88" width="3.05" height="10.2"/>
<rect class="g" x="154" y="324.88" width="3.05" height="10.2"/>
<rect class="g" x="158.8" y="324.88" width="3.05" height="10.2"/>
<rect class="g" x="163.6" y="324.88" width="3.05" height="10.2"/>
<rect class="g" x="168.4" y="324.88" width="3.05" height="10.2"/>
<rect class="g" x="173.2" y="324.88" width="3.05" height="10.2"/>
<rect class="g" x="178" y="324.88" width="3.05" height="10.2"/>
<rect class="g" x="182.8" y="324.88" width="3.05" height="10.2"/>
<rect class="g" x="187.6" y="324.88" width="3.05" height="10.2"/>
<rect class="g" x="192.4" y="324.88" width="3.05" height="10.2"/>
<rect x="192.4" y="328.88" width="3.05" height="2.2" fill="#ee3b3b"/>
<rect class="g" x="197.2" y="324.88" width="3.05" height="10.2"/>
<rect x="197.2" y="328.88" width="3.05" height="2.2" fill="#ee3b3b"/>
<rect x="202" y="324.88" width="3.05" height="10.2" fill="#63b8ff"/>
<rect class="g" x="206.8" y="324.88" width="3.05" height="10.2"/>
<rect class="g" x="211.6" y="324.88" width="3.05" height="10.2"/>
<rect class="g" x="216.4" y="324.88" width="3.05" height="10.2"/>
<rect class="g" x="221.2" y="324.88" width="3.05" height="10.2"/>
<rect class="g" x="226" y="324.88" width="3.05" height="10.2"/>
<rect class="g" x="230.8" y="324.88" width="3.05" height="10.2"/>
<rect class="g" x="235.6" y="324.88" width="3.05" height="10.2"/>
<rect class="g" x="240.4" y="324.88" width="3.05" height="10.2"/>
<rect class="g" x="245.2" y="324.88" width="3.05" height="10.2"/>
<rect class="g" x="250" y="324.88" width="3.05" height="10.2"/>
<rect class="g" x="254.8" y="324.88" width="3.05" height="10.2"/>
<rect class="g" x="259.6" y="324.88" width="3.05" height="10.2"/>
<rect class="g" x="264.4" y="324.88" width="3.05" height="10.2"/>
<rect class="g" x="269.2" y="324.88" width="3.05" height="10.2"/>
<rect class="g" x="274" y="324.88" width="3.05" height="10.2"/>
<rect class="g" x="278.8" y="324.88" width="3.05" height="10.2"/>
<rect class="g" x="283.6" y="324.88" width="3.05" height="10.2"/>
<rect class="g" x="288.4" y="324.88" width="3.05" height="10.2"/>
<rect class="g" x="293.2" y="324.88" width="3.05" height="10.2"/>
<rect class="g" x="298" y="324.88" width="3.05" height="10.2"/>
<rect class="g" x="302.8" y="324.88" width="3.05" height="10.2"/>
<rect class="g" x="307.6" y="324.88" width="3.05" height="10.2"/>
<rect class="g" x="312.4" y="324.88" width="3.05" height="10.2"/>
<rect class="g" x="317.2" y="324.88" width="3.05" height="10.2"/>
<rect class="g" x="322" y="324.88" width="3.05" height="10.2"/>
<rect class="g" x="326.8" y="324.88" width="3.05" height="10.2"/>
<rect class="g" x="331.6" y="324.88" width="3.05" height="10.2"/>
<rect class="g" x="336.4" y="324.88" width="3.05" height="10.2"/>
<text x="341.40" y="333.78" font-size="10.8" fill="#000000">ERBB3</text>
<rect x="389.2" y="326.38" width="14" height="7.1" fill="#ee3b3b"/>
<rect x="403.2" y="326.38" width="4" height="7.1" fill="#63b8ff"/>
<text x="475.90" y="333.78" font-size="10.8" text-anchor="end" fill="#000000">14%</text>
<rect class="g" x="58" y="336.91" width="3.05" height="10.2"/>
<rect class="g" x="62.8" y="336.91" width="3.05" height="10.2"/>
<rect class="g" x="67.6" y="336.91" width="3.05" height="10.2"/>
<rect x="67.6" y="340.81" width="3.05" height="2.4" fill="#000000"/>
<rect class="g" x="72.4" y="336.91" width="3.05" height="10.2"/>
<rect class="g" x="77.2" y="336.91" width="3.05" height="10.2"/>
<rect class="g" x="82" y="336.91" width="3.05" height="10.2"/>
<rect class="g" x="86.8" y="336.91" width="3.05" height="10.2"/>
<rect x="91.6" y="336.91" width="3.05" height="10.2" fill="#63b8ff"/>
<rect class="g" x="96.4" y="336.91" width="3.05" height="10.2"/>
<rect x="96.4" y="340.91" width="3.05" height="2.2" fill="#ee3b3b"/>
<rect class="g" x="101.2" y="336.91" width="3.05" height="10.2"/>
<rect class="g" x="106" y="336.91" width="3.05" height="10.2"/>
<rect class="g" x="110.8" y="336.91" width="3.05" height="10.2"/>
<rect class="g" x="115.6" y="336.91" width="3.05" height="10.2"/>
<rect class="g" x="120.4" y="336.91" width="3.05" height="10.2"/>
<rect class="g" x="125.2" y="336.91" width="3.05" height="10.2"/>
<rect class="g" x="130" y="336.91" width="3.05" height="10.2"/>
<rect class="g" x="134.8" y="336.91" width="3.05" height="10.2"/>
<rect x="134.8" y="340.81" width="3.05" height="2.4" fill="#000000"/>
<rect class="g" x="139.6" y="336.91" width="3.05" height="10.2"/>
<rect class="g" x="144.4" y="336.91" width="3.05" height="10.2"/>
<rect class="g" x="149.2" y="336.91" width="3.05" height="10.2"/>
<rect class="g" x="154" y="336.91" width="3.05" height="10.2"/>
<rect class="g" x="158.8" y="336.91" width="3.05" height="10.2"/>
<rect class="g" x="163.6" y="336.91" width="3.05" height="10.2"/>
<rect class="g" x="168.4" y="336.91" width="3.05" height="10.2"/>
<rect class="g" x="173.2" y="336.91" width="3.05" height="10.2"/>
<rect class="g" x="178" y="336.91" width="3.05" height="10.2"/>
<rect class="g" x="182.8" y="336.91" width="3.05" height="10.2"/>
<rect class="g" x="187.6" y="336.91" width="3.05" height="10.2"/>
<rect class="g" x="192.4" y="336.91" width="3.05" height="10.2"/>
<rect x="192.4" y="340.91" width="3.05" height="2.2" fill="#ee3b3b"/>
<rect class="g" x="197.2" y="336.91" width="3.05" height="10.2"/>
<rect class="g" x="202" y="336.91" width="3.05" height="10.2"/>
<rect class="g" x="206.8" y="336.91" width="3.05" height="10.2"/>
<rect x="206.8" y="340.81" width="3.05" height="2.4" fill="#000000"/>
<rect class="g" x="211.6" y="336.91" width="3.05" height="10.2"/>
<rect x="211.6" y="340.81" width="3.05" height="2.4" fill="#000000"/>
<rect class="g" x="216.4" y="336.91" width="3.05" height="10.2"/>
<rect x="216.4" y="340.81" width="3.05" height="2.4" fill="#000000"/>
<rect class="g" x="221.2" y="336.91" width="3.05" height="10.2"/>
<rect class="g" x="226" y="336.91" width="3.05" height="10.2"/>
<rect class="g" x="230.8" y="336.91" width="3.05" height="10.2"/>
<rect class="g" x="235.6" y="336.91" width="3.05" height="10.2"/>
<rect class="g" x="240.4" y="336.91" width="3.05" height="10.2"/>
<rect class="g" x="245.2" y="336.91" width="3.05" height="10.2"/>
<rect class="g" x="250" y="336.91" width="3.05" height="10.2"/>
<rect class="g" x="254.8" y="336.91" width="3.05" height="10.2"/>
<rect class="g" x="259.6" y="336.91" width="3.05" height="10.2"/>
<rect class="g" x="264.4" y="336.91" width="3.05" height="10.2"/>
<rect class="g" x="269.2" y="336.91" width="3.05" height="10.2"/>
<rect class="g" x="274" y="336.91" width="3.05" height="10.2"/>
<rect class="g" x="278.8" y="336.91" width="3.05" height="10.2"/>
<rect class="g" x="283.6" y="336.91" width="3.05" height="10.2"/>
<rect class="g" x="288.4" y="336.91" width="3.05" height="10.2"/>
<rect class="g" x="293.2" y="336.91" width="3.05" height="10.2"/>
<rect class="g" x="298" y="336.91" width="3.05" height="10.2"/>
<rect class="g" x="302.8" y="336.91" width="3.05" height="10.2"/>
<rect class="g" x="307.6" y="336.91" width="3.05" height="10.2"/>
<rect class="g" x="312.4" y="336.91" width="3.05" height="10.2"/>
<rect class="g" x="317.2" y="336.91" width="3.05" height="10.2"/>
<rect class="g" x="322" y="336.91" width="3.05" height="10.2"/>
<rect class="g" x="326.8" y="336.91" width="3.05" height="10.2"/>
<rect class="g" x="331.6" y="336.91" width="3.05" height="10.2"/>
<rect class="g" x="336.4" y="336.91" width="3.05" height="10.2"/>
<text x="341.40" y="345.81" font-size="10.8" fill="#000000">RET</text>
<rect x="389.2" y="338.41" width="4" height="7.1" fill="#ee3b3b"/>
<rect x="393.2" y="338.41" width="2" height="7.1" fill="#63b8ff"/>
<rect x="395.2" y="338.41" width="10" height="7.1" fill="#000000"/>
<text x="475.90" y="345.81" font-size="10.8" text-anchor="end" fill="#000000">13%</text>
<rect class="g" x="58" y="348.94" width="3.05" height="10.2"/>
<rect class="g" x="62.8" y="348.94" width="3.05" height="10.2"/>
<rect x="62.8" y="352.94" width="3.05" height="2.2" fill="#ee3b3b"/>
<rect class="g" x="67.6" y="348.94" width="3.05" height="10.2"/>
<rect class="g" x="72.4" y="348.94" width="3.05" height="10.2"/>
<rect class="g" x="77.2" y="348.94" width="3.05" height="10.2"/>
<rect class="g" x="82" y="348.94" width="3.05" height="10.2"/>
<rect class="g" x="86.8" y="348.94" width="3.05" height="10.2"/>
<rect class="g" x="91.6" y="348.94" width="3.05" height="10.2"/>
<rect class="g" x="96.4" y="348.94" width="3.05" height="10.2"/>
<rect class="g" x="101.2" y="348.94" width="3.05" height="10.2"/>
<rect x="101.2" y="352.94" width="3.05" height="2.2" fill="#ee3b3b"/>
<rect class="g" x="106" y="348.94" width="3.05" height="10.2"/>
<rect class="g" x="110.8" y="348.94" width="3.05" height="10.2"/>
<rect class="g" x="115.6" y="348.94" width="3.05" height="10.2"/>
<rect class="g" x="120.4" y="348.94" width="3.05" height="10.2"/>
<rect class="g" x="125.2" y="348.94" width="3.05" height="10.2"/>
<rect x="125.2" y="352.94" width="3.05" height="2.2" fill="#ee3b3b"/>
<rect class="g" x="130" y="348.94" width="3.05" height="10.2"/>
<rect x="130" y="352.94" width="3.05" height="2.2" fill="#ee3b3b"/>
<rect class="g" x="134.8" y="348.94" width="3.05" height="10.2"/>
<rect class="g" x="139.6" y="348.94" width="3.05" height="10.2"/>
<rect class="g" x="144.4" y="348.94" width="3.05" height="10.2"/>
<rect class="g" x="149.2" y="348.94" width="3.05" height="10.2"/>
<rect class="g" x="154" y="348.94" width="3.05" height="10.2"/>
<rect x="154" y="352.94" width="3.05" height="2.2" fill="#ee3b3b"/>
<rect class="g" x="158.8" y="348.94" width="3.05" height="10.2"/>
<rect class="g" x="163.6" y="348.94" width="3.05" height="10.2"/>
<rect class="g" x="168.4" y="348.94" width="3.05" height="10.2"/>
<rect class="g" x="173.2" y="348.94" width="3.05" height="10.2"/>
<rect class="g" x="178" y="348.94" width="3.05" height="10.2"/>
<rect class="g" x="182.8" y="348.94" width="3.05" height="10.2"/>
<rect class="g" x="187.6" y="348.94" width="3.05" height="10.2"/>
<rect class="g" x="192.4" y="348.94" width="3.05" height="10.2"/>
<rect class="g" x="197.2" y="348.94" width="3.05" height="10.2"/>
<rect x="197.2" y="352.94" width="3.05" height="2.2" fill="#ee3b3b"/>
<rect class="g" x="202" y="348.94" width="3.05" height="10.2"/>
<rect class="g" x="206.8" y="348.94" width="3.05" height="10.2"/>
<rect class="g" x="211.6" y="348.94" width="3.05" height="10.2"/>
<rect class="g" x="216.4" y="348.94" width="3.05" height="10.2"/>
<rect x="221.2" y="348.94" width="3.05" height="10.2" fill="#63b8ff"/>
<rect class="g" x="226" y="348.94" width="3.05" height="10.2"/>
<rect class="g" x="230.8" y="348.94" width="3.05" height="10.2"/>
<rect class="g" x="235.6" y="348.94" width="3.05" height="10.2"/>
<rect class="g" x="240.4" y="348.94" width="3.05" height="10.2"/>
<rect class="g" x="245.2" y="348.94" width="3.05" height="10.2"/>
<rect class="g" x="250" y="348.94" width="3.05" height="10.2"/>
<rect class="g" x="254.8" y="348.94" width="3.05" height="10.2"/>
<rect class="g" x="259.6" y="348.94" width="3.05" height="10.2"/>
<rect class="g" x="264.4" y="348.94" width="3.05" height="10.2"/>
<rect class="g" x="269.2" y="348.94" width="3.05" height="10.2"/>
<rect class="g" x="274" y="348.94" width="3.05" height="10.2"/>
<rect class="g" x="278.8" y="348.94" width="3.05" height="10.2"/>
<rect class="g" x="283.6" y="348.94" width="3.05" height="10.2"/>
<rect class="g" x="288.4" y="348.94" width="3.05" height="10.2"/>
<rect class="g" x="293.2" y="348.94" width="3.05" height="10.2"/>
<rect class="g" x="298" y="348.94" width="3.05" height="10.2"/>
<rect class="g" x="302.8" y="348.94" width="3.05" height="10.2"/>
<rect class="g" x="307.6" y="348.94" width="3.05" height="10.2"/>
<rect class="g" x="312.4" y="348.94" width="3.05" height="10.2"/>
<rect class="g" x="317.2" y="348.94" width="3.05" height="10.2"/>
<rect class="g" x="322" y="348.94" width="3.05" height="10.2"/>
<rect class="g" x="326.8" y="348.94" width="3.05" height="10.2"/>
<rect class="g" x="331.6" y="348.94" width="3.05" height="10.2"/>
<rect class="g" x="336.4" y="348.94" width="3.05" height="10.2"/>
<text x="341.40" y="357.84" font-size="10.8" fill="#000000">DDR2</text>
<rect x="389.2" y="350.44" width="12" height="7.1" fill="#ee3b3b"/>
<rect x="401.2" y="350.44" width="2" height="7.1" fill="#63b8ff"/>
<text x="475.90" y="357.84" font-size="10.8" text-anchor="end" fill="#000000">11%</text>
<rect class="g" x="58" y="360.97" width="3.05" height="10.2"/>
<rect class="g" x="62.8" y="360.97" width="3.05" height="10.2"/>
<rect x="62.8" y="364.97" width="3.05" height="2.2" fill="#ee3b3b"/>
<rect class="g" x="67.6" y="360.97" width="3.05" height="10.2"/>
<rect class="g" x="72.4" y="360.97" width="3.05" height="10.2"/>
<rect class="g" x="77.2" y="360.97" width="3.05" height="10.2"/>
<rect class="g" x="82" y="360.97" width="3.05" height="10.2"/>
<rect class="g" x="86.8" y="360.97" width="3.05" height="10.2"/>
<rect class="g" x="91.6" y="360.97" width="3.05" height="10.2"/>
<rect class="g" x="96.4" y="360.97" width="3.05" height="10.2"/>
<rect x="101.2" y="360.97" width="3.05" height="10.2" fill="#63b8ff"/>
<rect class="g" x="106" y="360.97" width="3.05" height="10.2"/>
<rect class="g" x="110.8" y="360.97" width="3.05" height="10.2"/>
<rect class="g" x="115.6" y="360.97" width="3.05" height="10.2"/>
<rect class="g" x="120.4" y="360.97" width="3.05" height="10.2"/>
<rect class="g" x="125.2" y="360.97" width="3.05" height="10.2"/>
<rect class="g" x="130" y="360.97" width="3.05" height="10.2"/>
<rect class="g" x="134.8" y="360.97" width="3.05" height="10.2"/>
<rect class="g" x="139.6" y="360.97" width="3.05" height="10.2"/>
<rect class="g" x="144.4" y="360.97" width="3.05" height="10.2"/>
<rect class="g" x="149.2" y="360.97" width="3.05" height="10.2"/>
<rect class="g" x="154" y="360.97" width="3.05" height="10.2"/>
<rect class="g" x="158.8" y="360.97" width="3.05" height="10.2"/>
<rect class="g" x="163.6" y="360.97" width="3.05" height="10.2"/>
<rect class="g" x="168.4" y="360.97" width="3.05" height="10.2"/>
<rect class="g" x="173.2" y="360.97" width="3.05" height="10.2"/>
<rect class="g" x="178" y="360.97" width="3.05" height="10.2"/>
<rect class="g" x="182.8" y="360.97" width="3.05" height="10.2"/>
<rect class="g" x="187.6" y="360.97" width="3.05" height="10.2"/>
<rect class="g" x="192.4" y="360.97" width="3.05" height="10.2"/>
<rect class="g" x="197.2" y="360.97" width="3.05" height="10.2"/>
<rect class="g" x="202" y="360.97" width="3.05" height="10.2"/>
<rect class="g" x="206.8" y="360.97" width="3.05" height="10.2"/>
<rect x="206.8" y="364.87" width="3.05" height="2.4" fill="#000000"/>
<rect class="g" x="211.6" y="360.97" width="3.05" height="10.2"/>
<rect class="g" x="216.4" y="360.97" width="3.05" height="10.2"/>
<rect x="221.2" y="360.97" width="3.05" height="10.2" fill="#ffff00"/>
<rect class="g" x="226" y="360.97" width="3.05" height="10.2"/>
<rect x="226" y="364.87" width="3.05" height="2.4" fill="#000000"/>
<rect class="g" x="230.8" y="360.97" width="3.05" height="10.2"/>
<rect class="g" x="235.6" y="360.97" width="3.05" height="10.2"/>
<rect class="g" x="240.4" y="360.97" width="3.05" height="10.2"/>
<rect class="g" x="245.2" y="360.97" width="3.05" height="10.2"/>
<rect class="g" x="250" y="360.97" width="3.05" height="10.2"/>
<rect class="g" x="254.8" y="360.97" width="3.05" height="10.2"/>
<rect class="g" x="259.6" y="360.97" width="3.05" height="10.2"/>
<rect class="g" x="264.4" y="360.97" width="3.05" height="10.2"/>
<rect class="g" x="269.2" y="360.97" width="3.05" height="10.2"/>
<rect class="g" x="274" y="360.97" width="3.05" height="10.2"/>
<rect class="g" x="278.8" y="360.97" width="3.05" height="10.2"/>
<rect class="g" x="283.6" y="360.97" width="3.05" height="10.2"/>
<rect class="g" x="288.4" y="360.97" width="3.05" height="10.2"/>
<rect class="g" x="293.2" y="360.97" width="3.05" height="10.2"/>
<rect class="g" x="298" y="360.97" width="3.05" height="10.2"/>
<rect class="g" x="302.8" y="360.97" width="3.05" height="10.2"/>
<rect class="g" x="307.6" y="360.97" width="3.05" height="10.2"/>
<rect class="g" x="312.4" y="360.97" width="3.05" height="10.2"/>
<rect x="317.2" y="360.97" width="3.05" height="10.2" fill="#ffff00"/>
<rect class="g" x="322" y="360.97" width="3.05" height="10.2"/>
<rect x="322" y="364.87" width="3.05" height="2.4" fill="#000000"/>
<rect class="g" x="326.8" y="360.97" width="3.05" height="10.2"/>
<rect class="g" x="331.6" y="360.97" width="3.05" height="10.2"/>
<rect class="g" x="336.4" y="360.97" width="3.05" height="10.2"/>
<text x="341.40" y="369.87" font-size="10.8" fill="#000000">ROS1</text>
<rect x="389.2" y="362.47" width="2" height="7.1" fill="#ee3b3b"/>
<rect x="391.2" y="362.47" width="2" height="7.1" fill="#63b8ff"/>
<rect x="393.2" y="362.47" width="4" height="7.1" fill="#ffff00"/>
<rect x="397.2" y="362.47" width="6" height="7.1" fill="#000000"/>
<text x="475.90" y="369.87" font-size="10.8" text-anchor="end" fill="#000000">11%</text>
<rect class="g" x="58" y="373" width="3.05" height="10.2"/>
<rect class="g" x="62.8" y="373" width="3.05" height="10.2"/>
<rect x="62.8" y="377" width="3.05" height="2.2" fill="#ee3b3b"/>
<rect x="67.6" y="373" width="3.05" height="10.2" fill="#63b8ff"/>
<rect class="g" x="72.4" y="373" width="3.05" height="10.2"/>
<rect class="g" x="77.2" y="373" width="3.05" height="10.2"/>
<rect class="g" x="82" y="373" width="3.05" height="10.2"/>
<rect class="g" x="86.8" y="373" width="3.05" height="10.2"/>
<rect class="g" x="91.6" y="373" width="3.05" height="10.2"/>
<rect x="91.6" y="376.9" width="3.05" height="2.4" fill="#000000"/>
<rect class="g" x="96.4" y="373" width="3.05" height="10.2"/>
<rect class="g" x="101.2" y="373" width="3.05" height="10.2"/>
<rect class="g" x="106" y="373" width="3.05" height="10.2"/>
<rect class="g" x="110.8" y="373" width="3.05" height="10.2"/>
<rect class="g" x="115.6" y="373" width="3.05" height="10.2"/>
<rect class="g" x="120.4" y="373" width="3.05" height="10.2"/>
<rect class="g" x="125.2" y="373" width="3.05" height="10.2"/>
<rect class="g" x="130" y="373" width="3.05" height="10.2"/>
<rect class="g" x="134.8" y="373" width="3.05" height="10.2"/>
<rect class="g" x="139.6" y="373" width="3.05" height="10.2"/>
<rect class="g" x="144.4" y="373" width="3.05" height="10.2"/>
<rect class="g" x="149.2" y="373" width="3.05" height="10.2"/>
<rect class="g" x="154" y="373" width="3.05" height="10.2"/>
<rect class="g" x="158.8" y="373" width="3.05" height="10.2"/>
<rect class="g" x="163.6" y="373" width="3.05" height="10.2"/>
<rect class="g" x="168.4" y="373" width="3.05" height="10.2"/>
<rect class="g" x="173.2" y="373" width="3.05" height="10.2"/>
<rect class="g" x="178" y="373" width="3.05" height="10.2"/>
<rect class="g" x="182.8" y="373" width="3.05" height="10.2"/>
<rect class="g" x="187.6" y="373" width="3.05" height="10.2"/>
<rect class="g" x="192.4" y="373" width="3.05" height="10.2"/>
<rect class="g" x="197.2" y="373" width="3.05" height="10.2"/>
<rect class="g" x="202" y="373" width="3.05" height="10.2"/>
<rect class="g" x="206.8" y="373" width="3.05" height="10.2"/>
<rect class="g" x="211.6" y="373" width="3.05" height="10.2"/>
<rect class="g" x="216.4" y="373" width="3.05" height="10.2"/>
<rect x="221.2" y="373" width="3.05" height="10.2" fill="#63b8ff"/>
<rect class="g" x="226" y="373" width="3.05" height="10.2"/>
<rect x="230.8" y="373" width="3.05" height="10.2" fill="#008b45"/>
<rect class="g" x="235.6" y="373" width="3.05" height="10.2"/>
<rect class="g" x="240.4" y="373" width="3.05" height="10.2"/>
<rect class="g" x="245.2" y="373" width="3.05" height="10.2"/>
<rect class="g" x="250" y="373" width="3.05" height="10.2"/>
<rect class="g" x="254.8" y="373" width="3.05" height="10.2"/>
<rect class="g" x="259.6" y="373" width="3.05" height="10.2"/>
<rect class="g" x="264.4" y="373" width="3.05" height="10.2"/>
<rect class="g" x="269.2" y="373" width="3.05" height="10.2"/>
<rect class="g" x="274" y="373" width="3.05" height="10.2"/>
<rect class="g" x="278.8" y="373" width="3.05" height="10.2"/>
<rect class="g" x="283.6" y="373" width="3.05" height="10.2"/>
<rect class="g" x="288.4" y="373" width="3.05" height="10.2"/>
<rect class="g" x="293.2" y="373" width="3.05" height="10.2"/>
<rect class="g" x="298" y="373" width="3.05" height="10.2"/>
<rect class="g" x="302.8" y="373" width="3.05" height="10.2"/>
<rect class="g" x="307.6" y="373" width="3.05" height="10.2"/>
<rect class="g" x="312.4" y="373" width="3.05" height="10.2"/>
<rect class="g" x="317.2" y="373" width="3.05" height="10.2"/>
<rect class="g" x="322" y="373" width="3.05" height="10.2"/>
<rect class="g" x="326.8" y="373" width="3.05" height="10.2"/>
<rect x="326.8" y="377" width="3.05" height="2.2" fill="#ee3b3b"/>
<rect class="g" x="331.6" y="373" width="3.05" height="10.2"/>
<rect class="g" x="336.4" y="373" width="3.05" height="10.2"/>
<text x="341.40" y="381.90" font-size="10.8" fill="#000000">FGFR1</text>
<rect x="389.2" y="374.5" width="4" height="7.1" fill="#ee3b3b"/>
<rect x="393.2" y="374.5" width="4" height="7.1" fill="#63b8ff"/>
<rect x="397.2" y="374.5" width="2" height="7.1" fill="#008b45"/>
<rect x="399.2" y="374.5" width="2" height="7.1" fill="#000000"/>
<text x="475.90" y="381.90" font-size="10.8" text-anchor="end" fill="#000000">10%</text>
<rect class="g" x="58" y="385.02" width="3.05" height="10.2"/>
<rect class="g" x="62.8" y="385.02" width="3.05" height="10.2"/>
<rect class="g" x="67.6" y="385.02" width="3.05" height="10.2"/>
<rect x="72.4" y="385.02" width="3.05" height="10.2" fill="#ffa54f"/>
<rect class="g" x="77.2" y="385.02" width="3.05" height="10.2"/>
<rect class="g" x="82" y="385.02" width="3.05" height="10.2"/>
<rect x="86.8" y="385.02" width="3.05" height="10.2" fill="#63b8ff"/>
<rect x="86.8" y="389.02" width="3.05" height="2.2" fill="#ee3b3b"/>
<rect class="g" x="91.6" y="385.02" width="3.05" height="10.2"/>
<rect class="g" x="96.4" y="385.02" width="3.05" height="10.2"/>
<rect class="g" x="101.2" y="385.02" width="3.05" height="10.2"/>
<rect class="g" x="106" y="385.02" width="3.05" height="10.2"/>
<rect class="g" x="110.8" y="385.02" width="3.05" height="10.2"/>
<rect class="g" x="115.6" y="385.02" width="3.05" height="10.2"/>
<rect class="g" x="120.4" y="385.02" width="3.05" height="10.2"/>
<rect x="125.2" y="385.02" width="3.05" height="10.2" fill="#63b8ff"/>
<rect x="125.2" y="389.02" width="3.05" height="2.2" fill="#ee3b3b"/>
<rect class="g" x="130" y="385.02" width="3.05" height="10.2"/>
<rect class="g" x="134.8" y="385.02" width="3.05" height="10.2"/>
<rect class="g" x="139.6" y="385.02" width="3.05" height="10.2"/>
<rect class="g" x="144.4" y="385.02" width="3.05" height="10.2"/>
<rect class="g" x="149.2" y="385.02" width="3.05" height="10.2"/>
<rect class="g" x="154" y="385.02" width="3.05" height="10.2"/>
<rect class="g" x="158.8" y="385.02" width="3.05" height="10.2"/>
<rect class="g" x="163.6" y="385.02" width="3.05" height="10.2"/>
<rect class="g" x="168.4" y="385.02" width="3.05" height="10.2"/>
<rect class="g" x="173.2" y="385.02" width="3.05" height="10.2"/>
<rect class="g" x="178" y="385.02" width="3.05" height="10.2"/>
<rect class="g" x="182.8" y="385.02" width="3.05" height="10.2"/>
<rect class="g" x="187.6" y="385.02" width="3.05" height="10.2"/>
<rect class="g" x="192.4" y="385.02" width="3.05" height="10.2"/>
<rect class="g" x="197.2" y="385.02" width="3.05" height="10.2"/>
<rect x="197.2" y="389.02" width="3.05" height="2.2" fill="#ee3b3b"/>
<rect class="g" x="202" y="385.02" width="3.05" height="10.2"/>
<rect class="g" x="206.8" y="385.02" width="3.05" height="10.2"/>
<rect class="g" x="211.6" y="385.02" width="3.05" height="10.2"/>
<rect class="g" x="216.4" y="385.02" width="3.05" height="10.2"/>
<rect x="221.2" y="385.02" width="3.05" height="10.2" fill="#63b8ff"/>
<rect class="g" x="226" y="385.02" width="3.05" height="10.2"/>
<rect class="g" x="230.8" y="385.02" width="3.05" height="10.2"/>
<rect x="235.6" y="385.02" width="3.05" height="10.2" fill="#63b8ff"/>
<rect class="g" x="240.4" y="385.02" width="3.05" height="10.2"/>
<rect class="g" x="245.2" y="385.02" width="3.05" height="10.2"/>
<rect class="g" x="250" y="385.02" width="3.05" height="10.2"/>
<rect class="g" x="254.8" y="385.02" width="3.05" height="10.2"/>
<rect class="g" x="259.6" y="385.02" width="3.05" height="10.2"/>
<rect class="g" x="264.4" y="385.02" width="3.05" height="10.2"/>
<rect class="g" x="269.2" y="385.02" width="3.05" height="10.2"/>
<rect class="g" x="274" y="385.02" width="3.05" height="10.2"/>
<rect class="g" x="278.8" y="385.02" width="3.05" height="10.2"/>
<rect class="g" x="283.6" y="385.02" width="3.05" height="10.2"/>
<rect class="g" x="288.4" y="385.02" width="3.05" height="10.2"/>
<rect class="g" x="293.2" y="385.02" width="3.05" height="10.2"/>
<rect class="g" x="298" y="385.02" width="3.05" height="10.2"/>
<rect class="g" x="302.8" y="385.02" width="3.05" height="10.2"/>
<rect class="g" x="307.6" y="385.02" width="3.05" height="10.2"/>
<rect class="g" x="312.4" y="385.02" width="3.05" height="10.2"/>
<rect class="g" x="317.2" y="385.02" width="3.05" height="10.2"/>
<rect class="g" x="322" y="385.02" width="3.05" height="10.2"/>
<rect class="g" x="326.8" y="385.02" width="3.05" height="10.2"/>
<rect class="g" x="331.6" y="385.02" width="3.05" height="10.2"/>
<rect class="g" x="336.4" y="385.02" width="3.05" height="10.2"/>
<text x="341.40" y="393.92" font-size="10.8" fill="#000000">MET</text>
<rect x="389.2" y="386.52" width="6" height="7.1" fill="#ee3b3b"/>
<rect x="395.2" y="386.52" width="8" height="7.1" fill="#63b8ff"/>
<rect x="403.2" y="386.52" width="2" height="7.1" fill="#ffa54f"/>
<text x="475.90" y="393.92" font-size="10.8" text-anchor="end" fill="#000000">10%</text>
<rect class="g" x="58" y="397.05" width="3.05" height="10.2"/>
<rect class="g" x="62.8" y="397.05" width="3.05" height="10.2"/>
<rect class="g" x="67.6" y="397.05" width="3.05" height="10.2"/>
<rect class="g" x="72.4" y="397.05" width="3.05" height="10.2"/>
<rect x="77.2" y="397.05" width="3.05" height="10.2" fill="#ffff00"/>
<rect class="g" x="82" y="397.05" width="3.05" height="10.2"/>
<rect class="g" x="86.8" y="397.05" width="3.05" height="10.2"/>
<rect class="g" x="91.6" y="397.05" width="3.05" height="10.2"/>
<rect class="g" x="96.4" y="397.05" width="3.05" height="10.2"/>
<rect class="g" x="101.2" y="397.05" width="3.05" height="10.2"/>
<rect class="g" x="106" y="397.05" width="3.05" height="10.2"/>
<rect class="g" x="110.8" y="397.05" width="3.05" height="10.2"/>
<rect class="g" x="115.6" y="397.05" width="3.05" height="10.2"/>
<rect class="g" x="120.4" y="397.05" width="3.05" height="10.2"/>
<rect class="g" x="125.2" y="397.05" width="3.05" height="10.2"/>
<rect class="g" x="130" y="397.05" width="3.05" height="10.2"/>
<rect class="g" x="134.8" y="397.05" width="3.05" height="10.2"/>
<rect class="g" x="139.6" y="397.05" width="3.05" height="10.2"/>
<rect class="g" x="144.4" y="397.05" width="3.05" height="10.2"/>
<rect class="g" x="149.2" y="397.05" width="3.05" height="10.2"/>
<rect class="g" x="154" y="397.05" width="3.05" height="10.2"/>
<rect class="g" x="158.8" y="397.05" width="3.05" height="10.2"/>
<rect class="g" x="163.6" y="397.05" width="3.05" height="10.2"/>
<rect class="g" x="168.4" y="397.05" width="3.05" height="10.2"/>
<rect class="g" x="173.2" y="397.05" width="3.05" height="10.2"/>
<rect class="g" x="178" y="397.05" width="3.05" height="10.2"/>
<rect class="g" x="182.8" y="397.05" width="3.05" height="10.2"/>
<rect class="g" x="187.6" y="397.05" width="3.05" height="10.2"/>
<rect class="g" x="192.4" y="397.05" width="3.05" height="10.2"/>
<rect class="g" x="197.2" y="397.05" width="3.05" height="10.2"/>
<rect class="g" x="202" y="397.05" width="3.05" height="10.2"/>
<rect class="g" x="206.8" y="397.05" width="3.05" height="10.2"/>
<rect class="g" x="211.6" y="397.05" width="3.05" height="10.2"/>
<rect class="g" x="216.4" y="397.05" width="3.05" height="10.2"/>
<rect x="221.2" y="397.05" width="3.05" height="10.2" fill="#ffff00"/>
<rect class="g" x="226" y="397.05" width="3.05" height="10.2"/>
<rect class="g" x="230.8" y="397.05" width="3.05" height="10.2"/>
<rect class="g" x="235.6" y="397.05" width="3.05" height="10.2"/>
<rect class="g" x="240.4" y="397.05" width="3.05" height="10.2"/>
<rect class="g" x="245.2" y="397.05" width="3.05" height="10.2"/>
<rect class="g" x="250" y="397.05" width="3.05" height="10.2"/>
<rect class="g" x="254.8" y="397.05" width="3.05" height="10.2"/>
<rect class="g" x="259.6" y="397.05" width="3.05" height="10.2"/>
<rect class="g" x="264.4" y="397.05" width="3.05" height="10.2"/>
<rect class="g" x="269.2" y="397.05" width="3.05" height="10.2"/>
<rect class="g" x="274" y="397.05" width="3.05" height="10.2"/>
<rect class="g" x="278.8" y="397.05" width="3.05" height="10.2"/>
<rect class="g" x="283.6" y="397.05" width="3.05" height="10.2"/>
<rect class="g" x="288.4" y="397.05" width="3.05" height="10.2"/>
<rect class="g" x="293.2" y="397.05" width="3.05" height="10.2"/>
<rect class="g" x="298" y="397.05" width="3.05" height="10.2"/>
<rect class="g" x="302.8" y="397.05" width="3.05" height="10.2"/>
<rect class="g" x="307.6" y="397.05" width="3.05" height="10.2"/>
<rect class="g" x="312.4" y="397.05" width="3.05" height="10.2"/>
<rect x="317.2" y="397.05" width="3.05" height="10.2" fill="#63b8ff"/>
<rect class="g" x="322" y="397.05" width="3.05" height="10.2"/>
<rect class="g" x="326.8" y="397.05" width="3.05" height="10.2"/>
<rect x="331.6" y="397.05" width="3.05" height="10.2" fill="#63b8ff"/>
<rect class="g" x="336.4" y="397.05" width="3.05" height="10.2"/>
<text x="341.40" y="405.95" font-size="10.8" fill="#000000">ALK</text>
<rect x="389.2" y="398.55" width="4" height="7.1" fill="#63b8ff"/>
<rect x="393.2" y="398.55" width="4" height="7.1" fill="#ffff00"/>
<text x="474.30" y="405.95" font-size="10.8" text-anchor="end" fill="#000000">6%</text>
<rect class="g" x="58" y="409.08" width="3.05" height="10.2"/>
<rect class="g" x="62.8" y="409.08" width="3.05" height="10.2"/>
<rect class="g" x="67.6" y="409.08" width="3.05" height="10.2"/>
<rect class="g" x="72.4" y="409.08" width="3.05" height="10.2"/>
<rect x="72.4" y="412.98" width="3.05" height="2.4" fill="#000000"/>
<rect class="g" x="77.2" y="409.08" width="3.05" height="10.2"/>
<rect class="g" x="82" y="409.08" width="3.05" height="10.2"/>
<rect class="g" x="86.8" y="409.08" width="3.05" height="10.2"/>
<rect class="g" x="91.6" y="409.08" width="3.05" height="10.2"/>
<rect class="g" x="96.4" y="409.08" width="3.05" height="10.2"/>
<rect class="g" x="101.2" y="409.08" width="3.05" height="10.2"/>
<rect class="g" x="106" y="409.08" width="3.05" height="10.2"/>
<rect class="g" x="110.8" y="409.08" width="3.05" height="10.2"/>
<rect class="g" x="115.6" y="409.08" width="3.05" height="10.2"/>
<rect class="g" x="120.4" y="409.08" width="3.05" height="10.2"/>
<rect class="g" x="125.2" y="409.08" width="3.05" height="10.2"/>
<rect class="g" x="130" y="409.08" width="3.05" height="10.2"/>
<rect class="g" x="134.8" y="409.08" width="3.05" height="10.2"/>
<rect class="g" x="139.6" y="409.08" width="3.05" height="10.2"/>
<rect class="g" x="144.4" y="409.08" width="3.05" height="10.2"/>
<rect class="g" x="149.2" y="409.08" width="3.05" height="10.2"/>
<rect class="g" x="154" y="409.08" width="3.05" height="10.2"/>
<rect class="g" x="158.8" y="409.08" width="3.05" height="10.2"/>
<rect class="g" x="163.6" y="409.08" width="3.05" height="10.2"/>
<rect class="g" x="168.4" y="409.08" width="3.05" height="10.2"/>
<rect class="g" x="173.2" y="409.08" width="3.05" height="10.2"/>
<rect class="g" x="178" y="409.08" width="3.05" height="10.2"/>
<rect class="g" x="182.8" y="409.08" width="3.05" height="10.2"/>
<rect class="g" x="187.6" y="409.08" width="3.05" height="10.2"/>
<rect class="g" x="192.4" y="409.08" width="3.05" height="10.2"/>
<rect x="197.2" y="409.08" width="3.05" height="10.2" fill="#63b8ff"/>
<rect class="g" x="202" y="409.08" width="3.05" height="10.2"/>
<rect class="g" x="206.8" y="409.08" width="3.05" height="10.2"/>
<rect class="g" x="211.6" y="409.08" width="3.05" height="10.2"/>
<rect class="g" x="216.4" y="409.08" width="3.05" height="10.2"/>
<rect x="221.2" y="409.08" width="3.05" height="10.2" fill="#63b8ff"/>
<rect class="g" x="226" y="409.08" width="3.05" height="10.2"/>
<rect class="g" x="230.8" y="409.08" width="3.05" height="10.2"/>
<rect class="g" x="235.6" y="409.08" width="3.05" height="10.2"/>
<rect class="g" x="240.4" y="409.08" width="3.05" height="10.2"/>
<rect class="g" x="245.2" y="409.08" width="3.05" height="10.2"/>
<rect class="g" x="250" y="409.08" width="3.05" height="10.2"/>
<rect class="g" x="254.8" y="409.08" width="3.05" height="10.2"/>
<rect class="g" x="259.6" y="409.08" width="3.05" height="10.2"/>
<rect class="g" x="264.4" y="409.08" width="3.05" height="10.2"/>
<rect class="g" x="269.2" y="409.08" width="3.05" height="10.2"/>
<rect class="g" x="274" y="409.08" width="3.05" height="10.2"/>
<rect class="g" x="278.8" y="409.08" width="3.05" height="10.2"/>
<rect class="g" x="283.6" y="409.08" width="3.05" height="10.2"/>
<rect class="g" x="288.4" y="409.08" width="3.05" height="10.2"/>
<rect class="g" x="293.2" y="409.08" width="3.05" height="10.2"/>
<rect class="g" x="298" y="409.08" width="3.05" height="10.2"/>
<rect class="g" x="302.8" y="409.08" width="3.05" height="10.2"/>
<rect class="g" x="307.6" y="409.08" width="3.05" height="10.2"/>
<rect class="g" x="312.4" y="409.08" width="3.05" height="10.2"/>
<rect x="317.2" y="409.08" width="3.05" height="10.2" fill="#63b8ff"/>
<rect class="g" x="322" y="409.08" width="3.05" height="10.2"/>
<rect class="g" x="326.8" y="409.08" width="3.05" height="10.2"/>
<rect class="g" x="331.6" y="409.08" width="3.05" height="10.2"/>
<rect class="g" x="336.4" y="409.08" width="3.05" height="10.2"/>
<text x="341.40" y="417.98" font-size="10.8" fill="#000000">FGFR4</text>
<rect x="389.2" y="410.58" width="6" height="7.1" fill="#63b8ff"/>
<rect x="395.2" y="410.58" width="2" height="7.1" fill="#000000"/>
<text x="474.30" y="417.98" font-size="10.8" text-anchor="end" fill="#000000">6%</text>
<rect class="g" x="58" y="421.11" width="3.05" height="10.2"/>
<rect class="g" x="62.8" y="421.11" width="3.05" height="10.2"/>
<rect class="g" x="67.6" y="421.11" width="3.05" height="10.2"/>
<rect class="g" x="72.4" y="421.11" width="3.05" height="10.2"/>
<rect class="g" x="77.2" y="421.11" width="3.05" height="10.2"/>
<rect class="g" x="82" y="421.11" width="3.05" height="10.2"/>
<rect class="g" x="86.8" y="421.11" width="3.05" height="10.2"/>
<rect class="g" x="91.6" y="421.11" width="3.05" height="10.2"/>
<rect class="g" x="96.4" y="421.11" width="3.05" height="10.2"/>
<rect class="g" x="101.2" y="421.11" width="3.05" height="10.2"/>
<rect class="g" x="106" y="421.11" width="3.05" height="10.2"/>
<rect class="g" x="110.8" y="421.11" width="3.05" height="10.2"/>
<rect class="g" x="115.6" y="421.11" width="3.05" height="10.2"/>
<rect class="g" x="120.4" y="421.11" width="3.05" height="10.2"/>
<rect class="g" x="125.2" y="421.11" width="3.05" height="10.2"/>
<rect x="125.2" y="425.11" width="3.05" height="2.2" fill="#ee3b3b"/>
<rect class="g" x="130" y="421.11" width="3.05" height="10.2"/>
<rect class="g" x="134.8" y="421.11" width="3.05" height="10.2"/>
<rect class="g" x="139.6" y="421.11" width="3.05" height="10.2"/>
<rect class="g" x="144.4" y="421.11" width="3.05" height="10.2"/>
<rect class="g" x="149.2" y="421.11" width="3.05" height="10.2"/>
<rect class="g" x="154" y="421.11" width="3.05" height="10.2"/>
<rect class="g" x="158.8" y="421.11" width="3.05" height="10.2"/>
<rect class="g" x="163.6" y="421.11" width="3.05" height="10.2"/>
<rect class="g" x="168.4" y="421.11" width="3.05" height="10.2"/>
<rect class="g" x="173.2" y="421.11" width="3.05" height="10.2"/>
<rect class="g" x="178" y="421.11" width="3.05" height="10.2"/>
<rect class="g" x="182.8" y="421.11" width="3.05" height="10.2"/>
<rect class="g" x="187.6" y="421.11" width="3.05" height="10.2"/>
<rect class="g" x="192.4" y="421.11" width="3.05" height="10.2"/>
<rect class="g" x="197.2" y="421.11" width="3.05" height="10.2"/>
<rect class="g" x="202" y="421.11" width="3.05" height="10.2"/>
<rect class="g" x="206.8" y="421.11" width="3.05" height="10.2"/>
<rect class="g" x="211.6" y="421.11" width="3.05" height="10.2"/>
<rect class="g" x="216.4" y="421.11" width="3.05" height="10.2"/>
<rect x="221.2" y="421.11" width="3.05" height="10.2" fill="#008b45"/>
<rect class="g" x="226" y="421.11" width="3.05" height="10.2"/>
<rect class="g" x="230.8" y="421.11" width="3.05" height="10.2"/>
<rect class="g" x="235.6" y="421.11" width="3.05" height="10.2"/>
<rect class="g" x="240.4" y="421.11" width="3.05" height="10.2"/>
<rect class="g" x="245.2" y="421.11" width="3.05" height="10.2"/>
<rect class="g" x="250" y="421.11" width="3.05" height="10.2"/>
<rect class="g" x="254.8" y="421.11" width="3.05" height="10.2"/>
<rect class="g" x="259.6" y="421.11" width="3.05" height="10.2"/>
<rect class="g" x="264.4" y="421.11" width="3.05" height="10.2"/>
<rect class="g" x="269.2" y="421.11" width="3.05" height="10.2"/>
<rect class="g" x="274" y="421.11" width="3.05" height="10.2"/>
<rect class="g" x="278.8" y="421.11" width="3.05" height="10.2"/>
<rect class="g" x="283.6" y="421.11" width="3.05" height="10.2"/>
<rect class="g" x="288.4" y="421.11" width="3.05" height="10.2"/>
<rect class="g" x="293.2" y="421.11" width="3.05" height="10.2"/>
<rect class="g" x="298" y="421.11" width="3.05" height="10.2"/>
<rect class="g" x="302.8" y="421.11" width="3.05" height="10.2"/>
<rect class="g" x="307.6" y="421.11" width="3.05" height="10.2"/>
<rect class="g" x="312.4" y="421.11" width="3.05" height="10.2"/>
<rect x="317.2" y="421.11" width="3.05" height="10.2" fill="#ffff00"/>
<rect class="g" x="322" y="421.11" width="3.05" height="10.2"/>
<rect class="g" x="326.8" y="421.11" width="3.05" height="10.2"/>
<rect class="g" x="331.6" y="421.11" width="3.05" height="10.2"/>
<rect class="g" x="336.4" y="421.11" width="3.05" height="10.2"/>
<text x="341.40" y="430.01" font-size="10.8" fill="#000000">ERBB4</text>
<rect x="389.2" y="422.61" width="2" height="7.1" fill="#ee3b3b"/>
<rect x="391.2" y="422.61" width="2" height="7.1" fill="#ffff00"/>
<rect x="393.2" y="422.61" width="2" height="7.1" fill="#008b45"/>
<text x="474.30" y="430.01" font-size="10.8" text-anchor="end" fill="#000000">5%</text>
<rect class="g" x="58" y="433.14" width="3.05" height="10.2"/>
<rect x="62.8" y="433.14" width="3.05" height="10.2" fill="#63b8ff"/>
<rect class="g" x="67.6" y="433.14" width="3.05" height="10.2"/>
<rect class="g" x="72.4" y="433.14" width="3.05" height="10.2"/>
<rect x="72.4" y="437.04" width="3.05" height="2.4" fill="#000000"/>
<rect class="g" x="77.2" y="433.14" width="3.05" height="10.2"/>
<rect class="g" x="82" y="433.14" width="3.05" height="10.2"/>
<rect class="g" x="86.8" y="433.14" width="3.05" height="10.2"/>
<rect class="g" x="91.6" y="433.14" width="3.05" height="10.2"/>
<rect class="g" x="96.4" y="433.14" width="3.05" height="10.2"/>
<rect class="g" x="101.2" y="433.14" width="3.05" height="10.2"/>
<rect class="g" x="106" y="433.14" width="3.05" height="10.2"/>
<rect class="g" x="110.8" y="433.14" width="3.05" height="10.2"/>
<rect class="g" x="115.6" y="433.14" width="3.05" height="10.2"/>
<rect class="g" x="120.4" y="433.14" width="3.05" height="10.2"/>
<rect class="g" x="125.2" y="433.14" width="3.05" height="10.2"/>
<rect class="g" x="130" y="433.14" width="3.05" height="10.2"/>
<rect class="g" x="134.8" y="433.14" width="3.05" height="10.2"/>
<rect class="g" x="139.6" y="433.14" width="3.05" height="10.2"/>
<rect x="144.4" y="433.14" width="3.05" height="10.2" fill="#63b8ff"/>
<rect class="g" x="149.2" y="433.14" width="3.05" height="10.2"/>
<rect class="g" x="154" y="433.14" width="3.05" height="10.2"/>
<rect class="g" x="158.8" y="433.14" width="3.05" height="10.2"/>
<rect class="g" x="163.6" y="433.14" width="3.05" height="10.2"/>
<rect class="g" x="168.4" y="433.14" width="3.05" height="10.2"/>
<rect class="g" x="173.2" y="433.14" width="3.05" height="10.2"/>
<rect class="g" x="178" y="433.14" width="3.05" height="10.2"/>
<rect class="g" x="182.8" y="433.14" width="3.05" height="10.2"/>
<rect class="g" x="187.6" y="433.14" width="3.05" height="10.2"/>
<rect class="g" x="192.4" y="433.14" width="3.05" height="10.2"/>
<rect class="g" x="197.2" y="433.14" width="3.05" height="10.2"/>
<rect class="g" x="202" y="433.14" width="3.05" height="10.2"/>
<rect class="g" x="206.8" y="433.14" width="3.05" height="10.2"/>
<rect class="g" x="211.6" y="433.14" width="3.05" height="10.2"/>
<rect class="g" x="216.4" y="433.14" width="3.05" height="10.2"/>
<rect class="g" x="221.2" y="433.14" width="3.05" height="10.2"/>
<rect class="g" x="226" y="433.14" width="3.05" height="10.2"/>
<rect class="g" x="230.8" y="433.14" width="3.05" height="10.2"/>
<rect class="g" x="235.6" y="433.14" width="3.05" height="10.2"/>
<rect class="g" x="240.4" y="433.14" width="3.05" height="10.2"/>
<rect class="g" x="245.2" y="433.14" width="3.05" height="10.2"/>
<rect class="g" x="250" y="433.14" width="3.05" height="10.2"/>
<rect class="g" x="254.8" y="433.14" width="3.05" height="10.2"/>
<rect class="g" x="259.6" y="433.14" width="3.05" height="10.2"/>
<rect class="g" x="264.4" y="433.14" width="3.05" height="10.2"/>
<rect class="g" x="269.2" y="433.14" width="3.05" height="10.2"/>
<rect class="g" x="274" y="433.14" width="3.05" height="10.2"/>
<rect class="g" x="278.8" y="433.14" width="3.05" height="10.2"/>
<rect class="g" x="283.6" y="433.14" width="3.05" height="10.2"/>
<rect class="g" x="288.4" y="433.14" width="3.05" height="10.2"/>
<rect class="g" x="293.2" y="433.14" width="3.05" height="10.2"/>
<rect class="g" x="298" y="433.14" width="3.05" height="10.2"/>
<rect class="g" x="302.8" y="433.14" width="3.05" height="10.2"/>
<rect class="g" x="307.6" y="433.14" width="3.05" height="10.2"/>
<rect class="g" x="312.4" y="433.14" width="3.05" height="10.2"/>
<rect class="g" x="317.2" y="433.14" width="3.05" height="10.2"/>
<rect class="g" x="322" y="433.14" width="3.05" height="10.2"/>
<rect class="g" x="326.8" y="433.14" width="3.05" height="10.2"/>
<rect class="g" x="331.6" y="433.14" width="3.05" height="10.2"/>
<rect class="g" x="336.4" y="433.14" width="3.05" height="10.2"/>
<text x="341.40" y="442.04" font-size="10.8" fill="#000000">FGFR3</text>
<rect x="389.2" y="434.64" width="4" height="7.1" fill="#63b8ff"/>
<rect x="393.2" y="434.64" width="2" height="7.1" fill="#000000"/>
<text x="474.30" y="442.04" font-size="10.8" text-anchor="end" fill="#000000">5%</text>
<rect class="g" x="58" y="445.17" width="3.05" height="10.2"/>
<rect class="g" x="62.8" y="445.17" width="3.05" height="10.2"/>
<rect class="g" x="67.6" y="445.17" width="3.05" height="10.2"/>
<rect x="72.4" y="445.17" width="3.05" height="10.2" fill="#7b68ee"/>
<rect class="g" x="77.2" y="445.17" width="3.05" height="10.2"/>
<rect class="g" x="82" y="445.17" width="3.05" height="10.2"/>
<rect class="g" x="86.8" y="445.17" width="3.05" height="10.2"/>
<rect class="g" x="91.6" y="445.17" width="3.05" height="10.2"/>
<rect class="g" x="96.4" y="445.17" width="3.05" height="10.2"/>
<rect class="g" x="101.2" y="445.17" width="3.05" height="10.2"/>
<rect class="g" x="106" y="445.17" width="3.05" height="10.2"/>
<rect class="g" x="110.8" y="445.17" width="3.05" height="10.2"/>
<rect class="g" x="115.6" y="445.17" width="3.05" height="10.2"/>
<rect class="g" x="120.4" y="445.17" width="3.05" height="10.2"/>
<rect class="g" x="125.2" y="445.17" width="3.05" height="10.2"/>
<rect class="g" x="130" y="445.17" width="3.05" height="10.2"/>
<rect class="g" x="134.8" y="445.17" width="3.05" height="10.2"/>
<rect class="g" x="139.6" y="445.17" width="3.05" height="10.2"/>
<rect class="g" x="144.4" y="445.17" width="3.05" height="10.2"/>
<rect class="g" x="149.2" y="445.17" width="3.05" height="10.2"/>
<rect class="g" x="154" y="445.17" width="3.05" height="10.2"/>
<rect class="g" x="158.8" y="445.17" width="3.05" height="10.2"/>
<rect class="g" x="163.6" y="445.17" width="3.05" height="10.2"/>
<rect class="g" x="168.4" y="445.17" width="3.05" height="10.2"/>
<rect class="g" x="173.2" y="445.17" width="3.05" height="10.2"/>
<rect class="g" x="178" y="445.17" width="3.05" height="10.2"/>
<rect class="g" x="182.8" y="445.17" width="3.05" height="10.2"/>
<rect class="g" x="187.6" y="445.17" width="3.05" height="10.2"/>
<rect class="g" x="192.4" y="445.17" width="3.05" height="10.2"/>
<rect class="g" x="197.2" y="445.17" width="3.05" height="10.2"/>
<rect class="g" x="202" y="445.17" width="3.05" height="10.2"/>
<rect class="g" x="206.8" y="445.17" width="3.05" height="10.2"/>
<rect class="g" x="211.6" y="445.17" width="3.05" height="10.2"/>
<rect class="g" x="216.4" y="445.17" width="3.05" height="10.2"/>
<rect class="g" x="221.2" y="445.17" width="3.05" height="10.2"/>
<rect class="g" x="226" y="445.17" width="3.05" height="10.2"/>
<rect class="g" x="230.8" y="445.17" width="3.05" height="10.2"/>
<rect x="235.6" y="445.17" width="3.05" height="10.2" fill="#63b8ff"/>
<rect class="g" x="240.4" y="445.17" width="3.05" height="10.2"/>
<rect class="g" x="245.2" y="445.17" width="3.05" height="10.2"/>
<rect x="245.2" y="449.17" width="3.05" height="2.2" fill="#ee3b3b"/>
<rect class="g" x="250" y="445.17" width="3.05" height="10.2"/>
<rect class="g" x="254.8" y="445.17" width="3.05" height="10.2"/>
<rect class="g" x="259.6" y="445.17" width="3.05" height="10.2"/>
<rect class="g" x="264.4" y="445.17" width="3.05" height="10.2"/>
<rect class="g" x="269.2" y="445.17" width="3.05" height="10.2"/>
<rect class="g" x="274" y="445.17" width="3.05" height="10.2"/>
<rect class="g" x="278.8" y="445.17" width="3.05" height="10.2"/>
<rect class="g" x="283.6" y="445.17" width="3.05" height="10.2"/>
<rect class="g" x="288.4" y="445.17" width="3.05" height="10.2"/>
<rect class="g" x="293.2" y="445.17" width="3.05" height="10.2"/>
<rect class="g" x="298" y="445.17" width="3.05" height="10.2"/>
<rect class="g" x="302.8" y="445.17" width="3.05" height="10.2"/>
<rect class="g" x="307.6" y="445.17" width="3.05" height="10.2"/>
<rect class="g" x="312.4" y="445.17" width="3.05" height="10.2"/>
<rect class="g" x="317.2" y="445.17" width="3.05" height="10.2"/>
<rect class="g" x="322" y="445.17" width="3.05" height="10.2"/>
<rect class="g" x="326.8" y="445.17" width="3.05" height="10.2"/>
<rect class="g" x="331.6" y="445.17" width="3.05" height="10.2"/>
<rect class="g" x="336.4" y="445.17" width="3.05" height="10.2"/>
<text x="341.40" y="454.07" font-size="10.8" fill="#000000">JAK2</text>
<rect x="389.2" y="446.67" width="2" height="7.1" fill="#ee3b3b"/>
<rect x="391.2" y="446.67" width="2" height="7.1" fill="#63b8ff"/>
<rect x="393.2" y="446.67" width="2" height="7.1" fill="#7b68ee"/>
<text x="474.30" y="454.07" font-size="10.8" text-anchor="end" fill="#000000">5%</text>
<rect class="g" x="58" y="457.2" width="3.05" height="10.2"/>
<rect class="g" x="62.8" y="457.2" width="3.05" height="10.2"/>
<rect class="g" x="67.6" y="457.2" width="3.05" height="10.2"/>
<rect class="g" x="72.4" y="457.2" width="3.05" height="10.2"/>
<rect x="77.2" y="457.2" width="3.05" height="10.2" fill="#63b8ff"/>
<rect class="g" x="82" y="457.2" width="3.05" height="10.2"/>
<rect class="g" x="86.8" y="457.2" width="3.05" height="10.2"/>
<rect class="g" x="91.6" y="457.2" width="3.05" height="10.2"/>
<rect class="g" x="96.4" y="457.2" width="3.05" height="10.2"/>
<rect class="g" x="101.2" y="457.2" width="3.05" height="10.2"/>
<rect class="g" x="106" y="457.2" width="3.05" height="10.2"/>
<rect class="g" x="110.8" y="457.2" width="3.05" height="10.2"/>
<rect class="g" x="115.6" y="457.2" width="3.05" height="10.2"/>
<rect class="g" x="120.4" y="457.2" width="3.05" height="10.2"/>
<rect class="g" x="125.2" y="457.2" width="3.05" height="10.2"/>
<rect class="g" x="130" y="457.2" width="3.05" height="10.2"/>
<rect class="g" x="134.8" y="457.2" width="3.05" height="10.2"/>
<rect class="g" x="139.6" y="457.2" width="3.05" height="10.2"/>
<rect class="g" x="144.4" y="457.2" width="3.05" height="10.2"/>
<rect class="g" x="149.2" y="457.2" width="3.05" height="10.2"/>
<rect class="g" x="154" y="457.2" width="3.05" height="10.2"/>
<rect class="g" x="158.8" y="457.2" width="3.05" height="10.2"/>
<rect class="g" x="163.6" y="457.2" width="3.05" height="10.2"/>
<rect class="g" x="168.4" y="457.2" width="3.05" height="10.2"/>
<rect class="g" x="173.2" y="457.2" width="3.05" height="10.2"/>
<rect class="g" x="178" y="457.2" width="3.05" height="10.2"/>
<rect class="g" x="182.8" y="457.2" width="3.05" height="10.2"/>
<rect class="g" x="187.6" y="457.2" width="3.05" height="10.2"/>
<rect class="g" x="192.4" y="457.2" width="3.05" height="10.2"/>
<rect class="g" x="197.2" y="457.2" width="3.05" height="10.2"/>
<rect class="g" x="202" y="457.2" width="3.05" height="10.2"/>
<rect class="g" x="206.8" y="457.2" width="3.05" height="10.2"/>
<rect class="g" x="211.6" y="457.2" width="3.05" height="10.2"/>
<rect class="g" x="216.4" y="457.2" width="3.05" height="10.2"/>
<rect class="g" x="221.2" y="457.2" width="3.05" height="10.2"/>
<rect class="g" x="226" y="457.2" width="3.05" height="10.2"/>
<rect class="g" x="230.8" y="457.2" width="3.05" height="10.2"/>
<rect x="235.6" y="457.2" width="3.05" height="10.2" fill="#63b8ff"/>
<rect class="g" x="240.4" y="457.2" width="3.05" height="10.2"/>
<rect class="g" x="245.2" y="457.2" width="3.05" height="10.2"/>
<rect class="g" x="250" y="457.2" width="3.05" height="10.2"/>
<rect class="g" x="254.8" y="457.2" width="3.05" height="10.2"/>
<rect class="g" x="259.6" y="457.2" width="3.05" height="10.2"/>
<rect class="g" x="264.4" y="457.2" width="3.05" height="10.2"/>
<rect class="g" x="269.2" y="457.2" width="3.05" height="10.2"/>
<rect class="g" x="274" y="457.2" width="3.05" height="10.2"/>
<rect class="g" x="278.8" y="457.2" width="3.05" height="10.2"/>
<rect class="g" x="283.6" y="457.2" width="3.05" height="10.2"/>
<rect class="g" x="288.4" y="457.2" width="3.05" height="10.2"/>
<rect class="g" x="293.2" y="457.2" width="3.05" height="10.2"/>
<rect class="g" x="298" y="457.2" width="3.05" height="10.2"/>
<rect class="g" x="302.8" y="457.2" width="3.05" height="10.2"/>
<rect class="g" x="307.6" y="457.2" width="3.05" height="10.2"/>
<rect class="g" x="312.4" y="457.2" width="3.05" height="10.2"/>
<rect class="g" x="317.2" y="457.2" width="3.05" height="10.2"/>
<rect x="317.2" y="461.2" width="3.05" height="2.2" fill="#ee3b3b"/>
<rect class="g" x="322" y="457.2" width="3.05" height="10.2"/>
<rect class="g" x="326.8" y="457.2" width="3.05" height="10.2"/>
<rect class="g" x="331.6" y="457.2" width="3.05" height="10.2"/>
<rect class="g" x="336.4" y="457.2" width="3.05" height="10.2"/>
<text x="341.40" y="466.10" font-size="10.8" fill="#000000">KIT</text>
<rect x="389.2" y="458.7" width="2" height="7.1" fill="#ee3b3b"/>
<rect x="391.2" y="458.7" width="4" height="7.1" fill="#63b8ff"/>
<text x="474.30" y="466.10" font-size="10.8" text-anchor="end" fill="#000000">5%</text>
<text x="0" y="0" font-size="10.8" fill="#000000" text-anchor="middle" transform="translate(41.9,389.45) rotate(-90)">RTK</text>
<rect class="g" x="58" y="481" width="3.05" height="10.2"/>
<rect class="g" x="62.8" y="481" width="3.05" height="10.2"/>
<rect x="62.8" y="485" width="3.05" height="2.2" fill="#ee3b3b"/>
<rect class="g" x="67.6" y="481" width="3.05" height="10.2"/>
<rect class="g" x="72.4" y="481" width="3.05" height="10.2"/>
<rect class="g" x="77.2" y="481" width="3.05" height="10.2"/>
<rect class="g" x="82" y="481" width="3.05" height="10.2"/>
<rect class="g" x="86.8" y="481" width="3.05" height="10.2"/>
<rect class="g" x="91.6" y="481" width="3.05" height="10.2"/>
<rect class="g" x="96.4" y="481" width="3.05" height="10.2"/>
<rect class="g" x="101.2" y="481" width="3.05" height="10.2"/>
<rect class="g" x="106" y="481" width="3.05" height="10.2"/>
<rect class="g" x="110.8" y="481" width="3.05" height="10.2"/>
<rect class="g" x="115.6" y="481" width="3.05" height="10.2"/>
<rect class="g" x="120.4" y="481" width="3.05" height="10.2"/>
<rect x="125.2" y="481" width="3.05" height="10.2" fill="#63b8ff"/>
<rect x="125.2" y="485" width="3.05" height="2.2" fill="#ee3b3b"/>
<rect x="130" y="481" width="3.05" height="10.2" fill="#63b8ff"/>
<rect x="134.8" y="481" width="3.05" height="10.2" fill="#63b8ff"/>
<rect x="139.6" y="481" width="3.05" height="10.2" fill="#63b8ff"/>
<rect x="144.4" y="481" width="3.05" height="10.2" fill="#63b8ff"/>
<rect x="149.2" y="481" width="3.05" height="10.2" fill="#ffff00"/>
<rect x="154" y="481" width="3.05" height="10.2" fill="#ffff00"/>
<rect x="158.8" y="481" width="3.05" height="10.2" fill="#63b8ff"/>
<rect x="163.6" y="481" width="3.05" height="10.2" fill="#63b8ff"/>
<rect x="168.4" y="481" width="3.05" height="10.2" fill="#ffff00"/>
<rect x="173.2" y="481" width="3.05" height="10.2" fill="#63b8ff"/>
<rect x="178" y="481" width="3.05" height="10.2" fill="#ffff00"/>
<rect x="182.8" y="481" width="3.05" height="10.2" fill="#63b8ff"/>
<rect x="187.6" y="481" width="3.05" height="10.2" fill="#63b8ff"/>
<rect class="g" x="192.4" y="481" width="3.05" height="10.2"/>
<rect class="g" x="197.2" y="481" width="3.05" height="10.2"/>
<rect class="g" x="202" y="481" width="3.05" height="10.2"/>
<rect class="g" x="206.8" y="481" width="3.05" height="10.2"/>
<rect class="g" x="211.6" y="481" width="3.05" height="10.2"/>
<rect class="g" x="216.4" y="481" width="3.05" height="10.2"/>
<rect class="g" x="221.2" y="481" width="3.05" height="10.2"/>
<rect class="g" x="226" y="481" width="3.05" height="10.2"/>
<rect class="g" x="230.8" y="481" width="3.05" height="10.2"/>
<rect class="g" x="235.6" y="481" width="3.05" height="10.2"/>
<rect class="g" x="240.4" y="481" width="3.05" height="10.2"/>
<rect class="g" x="245.2" y="481" width="3.05" height="10.2"/>
<rect class="g" x="250" y="481" width="3.05" height="10.2"/>
<rect class="g" x="254.8" y="481" width="3.05" height="10.2"/>
<rect class="g" x="259.6" y="481" width="3.05" height="10.2"/>
<rect class="g" x="264.4" y="481" width="3.05" height="10.2"/>
<rect class="g" x="269.2" y="481" width="3.05" height="10.2"/>
<rect class="g" x="274" y="481" width="3.05" height="10.2"/>
<rect class="g" x="278.8" y="481" width="3.05" height="10.2"/>
<rect class="g" x="283.6" y="481" width="3.05" height="10.2"/>
<rect class="g" x="288.4" y="481" width="3.05" height="10.2"/>
<rect class="g" x="293.2" y="481" width="3.05" height="10.2"/>
<rect class="g" x="298" y="481" width="3.05" height="10.2"/>
<rect class="g" x="302.8" y="481" width="3.05" height="10.2"/>
<rect class="g" x="307.6" y="481" width="3.05" height="10.2"/>
<rect class="g" x="312.4" y="481" width="3.05" height="10.2"/>
<rect class="g" x="317.2" y="481" width="3.05" height="10.2"/>
<rect class="g" x="322" y="481" width="3.05" height="10.2"/>
<rect class="g" x="326.8" y="481" width="3.05" height="10.2"/>
<rect class="g" x="331.6" y="481" width="3.05" height="10.2"/>
<rect class="g" x="336.4" y="481" width="3.05" height="10.2"/>
<text x="341.40" y="489.90" font-size="10.8" fill="#000000">HRAS</text>
<rect x="389.2" y="482.5" width="4" height="7.1" fill="#ee3b3b"/>
<rect x="393.2" y="482.5" width="20" height="7.1" fill="#63b8ff"/>
<rect x="413.2" y="482.5" width="8" height="7.1" fill="#ffff00"/>
<text x="475.90" y="489.90" font-size="10.8" text-anchor="end" fill="#000000">24%</text>
<rect x="58" y="493" width="3.05" height="10.2" fill="#ffa54f"/>
<rect class="g" x="62.8" y="493" width="3.05" height="10.2"/>
<rect class="g" x="67.6" y="493" width="3.05" height="10.2"/>
<rect class="g" x="72.4" y="493" width="3.05" height="10.2"/>
<rect x="77.2" y="493" width="3.05" height="10.2" fill="#ffa54f"/>
<rect class="g" x="82" y="493" width="3.05" height="10.2"/>
<rect class="g" x="86.8" y="493" width="3.05" height="10.2"/>
<rect class="g" x="91.6" y="493" width="3.05" height="10.2"/>
<rect class="g" x="96.4" y="493" width="3.05" height="10.2"/>
<rect class="g" x="101.2" y="493" width="3.05" height="10.2"/>
<rect x="106" y="493" width="3.05" height="10.2" fill="#ffa54f"/>
<rect class="g" x="110.8" y="493" width="3.05" height="10.2"/>
<rect class="g" x="115.6" y="493" width="3.05" height="10.2"/>
<rect class="g" x="120.4" y="493" width="3.05" height="10.2"/>
<rect class="g" x="125.2" y="493" width="3.05" height="10.2"/>
<rect class="g" x="130" y="493" width="3.05" height="10.2"/>
<rect class="g" x="134.8" y="493" width="3.05" height="10.2"/>
<rect x="139.6" y="493" width="3.05" height="10.2" fill="#ffa54f"/>
<rect class="g" x="144.4" y="493" width="3.05" height="10.2"/>
<rect class="g" x="149.2" y="493" width="3.05" height="10.2"/>
<rect class="g" x="154" y="493" width="3.05" height="10.2"/>
<rect class="g" x="158.8" y="493" width="3.05" height="10.2"/>
<rect class="g" x="163.6" y="493" width="3.05" height="10.2"/>
<rect class="g" x="168.4" y="493" width="3.05" height="10.2"/>
<rect class="g" x="173.2" y="493" width="3.05" height="10.2"/>
<rect class="g" x="178" y="493" width="3.05" height="10.2"/>
<rect class="g" x="182.8" y="493" width="3.05" height="10.2"/>
<rect class="g" x="187.6" y="493" width="3.05" height="10.2"/>
<rect class="g" x="192.4" y="493" width="3.05" height="10.2"/>
<rect class="g" x="197.2" y="493" width="3.05" height="10.2"/>
<rect class="g" x="202" y="493" width="3.05" height="10.2"/>
<rect class="g" x="206.8" y="493" width="3.05" height="10.2"/>
<rect class="g" x="211.6" y="493" width="3.05" height="10.2"/>
<rect class="g" x="216.4" y="493" width="3.05" height="10.2"/>
<rect class="g" x="221.2" y="493" width="3.05" height="10.2"/>
<rect class="g" x="226" y="493" width="3.05" height="10.2"/>
<rect class="g" x="230.8" y="493" width="3.05" height="10.2"/>
<rect class="g" x="235.6" y="493" width="3.05" height="10.2"/>
<rect class="g" x="240.4" y="493" width="3.05" height="10.2"/>
<rect class="g" x="245.2" y="493" width="3.05" height="10.2"/>
<rect class="g" x="250" y="493" width="3.05" height="10.2"/>
<rect class="g" x="254.8" y="493" width="3.05" height="10.2"/>
<rect class="g" x="259.6" y="493" width="3.05" height="10.2"/>
<rect class="g" x="264.4" y="493" width="3.05" height="10.2"/>
<rect class="g" x="269.2" y="493" width="3.05" height="10.2"/>
<rect class="g" x="274" y="493" width="3.05" height="10.2"/>
<rect class="g" x="278.8" y="493" width="3.05" height="10.2"/>
<rect class="g" x="283.6" y="493" width="3.05" height="10.2"/>
<rect class="g" x="288.4" y="493" width="3.05" height="10.2"/>
<rect class="g" x="293.2" y="493" width="3.05" height="10.2"/>
<rect class="g" x="298" y="493" width="3.05" height="10.2"/>
<rect class="g" x="302.8" y="493" width="3.05" height="10.2"/>
<rect class="g" x="307.6" y="493" width="3.05" height="10.2"/>
<rect class="g" x="312.4" y="493" width="3.05" height="10.2"/>
<rect x="317.2" y="493" width="3.05" height="10.2" fill="#ffff00"/>
<rect class="g" x="322" y="493" width="3.05" height="10.2"/>
<rect class="g" x="326.8" y="493" width="3.05" height="10.2"/>
<rect class="g" x="331.6" y="493" width="3.05" height="10.2"/>
<rect class="g" x="336.4" y="493" width="3.05" height="10.2"/>
<text x="341.40" y="501.90" font-size="10.8" fill="#000000">NF1</text>
<rect x="389.2" y="494.5" width="8" height="7.1" fill="#ffa54f"/>
<rect x="397.2" y="494.5" width="2" height="7.1" fill="#ffff00"/>
<text x="474.30" y="501.90" font-size="10.8" text-anchor="end" fill="#000000">8%</text>
<rect class="g" x="58" y="505.8" width="3.05" height="10.2"/>
<rect class="g" x="62.8" y="505.8" width="3.05" height="10.2"/>
<rect class="g" x="67.6" y="505.8" width="3.05" height="10.2"/>
<rect class="g" x="72.4" y="505.8" width="3.05" height="10.2"/>
<rect class="g" x="77.2" y="505.8" width="3.05" height="10.2"/>
<rect class="g" x="82" y="505.8" width="3.05" height="10.2"/>
<rect class="g" x="86.8" y="505.8" width="3.05" height="10.2"/>
<rect x="86.8" y="509.8" width="3.05" height="2.2" fill="#ee3b3b"/>
<rect class="g" x="91.6" y="505.8" width="3.05" height="10.2"/>
<rect class="g" x="96.4" y="505.8" width="3.05" height="10.2"/>
<rect class="g" x="101.2" y="505.8" width="3.05" height="10.2"/>
<rect class="g" x="106" y="505.8" width="3.05" height="10.2"/>
<rect class="g" x="110.8" y="505.8" width="3.05" height="10.2"/>
<rect class="g" x="115.6" y="505.8" width="3.05" height="10.2"/>
<rect class="g" x="120.4" y="505.8" width="3.05" height="10.2"/>
<rect class="g" x="125.2" y="505.8" width="3.05" height="10.2"/>
<rect x="125.2" y="509.8" width="3.05" height="2.2" fill="#ee3b3b"/>
<rect class="g" x="130" y="505.8" width="3.05" height="10.2"/>
<rect class="g" x="134.8" y="505.8" width="3.05" height="10.2"/>
<rect class="g" x="139.6" y="505.8" width="3.05" height="10.2"/>
<rect class="g" x="144.4" y="505.8" width="3.05" height="10.2"/>
<rect class="g" x="149.2" y="505.8" width="3.05" height="10.2"/>
<rect class="g" x="154" y="505.8" width="3.05" height="10.2"/>
<rect class="g" x="158.8" y="505.8" width="3.05" height="10.2"/>
<rect class="g" x="163.6" y="505.8" width="3.05" height="10.2"/>
<rect class="g" x="168.4" y="505.8" width="3.05" height="10.2"/>
<rect class="g" x="173.2" y="505.8" width="3.05" height="10.2"/>
<rect class="g" x="178" y="505.8" width="3.05" height="10.2"/>
<rect class="g" x="182.8" y="505.8" width="3.05" height="10.2"/>
<rect class="g" x="187.6" y="505.8" width="3.05" height="10.2"/>
<rect class="g" x="192.4" y="505.8" width="3.05" height="10.2"/>
<rect x="197.2" y="505.8" width="3.05" height="10.2" fill="#63b8ff"/>
<rect x="197.2" y="509.8" width="3.05" height="2.2" fill="#ee3b3b"/>
<rect class="g" x="202" y="505.8" width="3.05" height="10.2"/>
<rect class="g" x="206.8" y="505.8" width="3.05" height="10.2"/>
<rect class="g" x="211.6" y="505.8" width="3.05" height="10.2"/>
<rect class="g" x="216.4" y="505.8" width="3.05" height="10.2"/>
<rect x="221.2" y="505.8" width="3.05" height="10.2" fill="#63b8ff"/>
<rect class="g" x="226" y="505.8" width="3.05" height="10.2"/>
<rect class="g" x="230.8" y="505.8" width="3.05" height="10.2"/>
<rect class="g" x="235.6" y="505.8" width="3.05" height="10.2"/>
<rect class="g" x="240.4" y="505.8" width="3.05" height="10.2"/>
<rect class="g" x="245.2" y="505.8" width="3.05" height="10.2"/>
<rect class="g" x="250" y="505.8" width="3.05" height="10.2"/>
<rect class="g" x="254.8" y="505.8" width="3.05" height="10.2"/>
<rect class="g" x="259.6" y="505.8" width="3.05" height="10.2"/>
<rect class="g" x="264.4" y="505.8" width="3.05" height="10.2"/>
<rect class="g" x="269.2" y="505.8" width="3.05" height="10.2"/>
<rect class="g" x="274" y="505.8" width="3.05" height="10.2"/>
<rect class="g" x="278.8" y="505.8" width="3.05" height="10.2"/>
<rect class="g" x="283.6" y="505.8" width="3.05" height="10.2"/>
<rect class="g" x="288.4" y="505.8" width="3.05" height="10.2"/>
<rect class="g" x="293.2" y="505.8" width="3.05" height="10.2"/>
<rect class="g" x="298" y="505.8" width="3.05" height="10.2"/>
<rect class="g" x="302.8" y="505.8" width="3.05" height="10.2"/>
<rect class="g" x="307.6" y="505.8" width="3.05" height="10.2"/>
<rect class="g" x="312.4" y="505.8" width="3.05" height="10.2"/>
<rect class="g" x="317.2" y="505.8" width="3.05" height="10.2"/>
<rect class="g" x="322" y="505.8" width="3.05" height="10.2"/>
<rect class="g" x="326.8" y="505.8" width="3.05" height="10.2"/>
<rect class="g" x="331.6" y="505.8" width="3.05" height="10.2"/>
<rect class="g" x="336.4" y="505.8" width="3.05" height="10.2"/>
<text x="341.40" y="514.70" font-size="10.8" fill="#000000">BRAF</text>
<rect x="389.2" y="507.3" width="6" height="7.1" fill="#ee3b3b"/>
<rect x="395.2" y="507.3" width="4" height="7.1" fill="#63b8ff"/>
<text x="474.30" y="514.70" font-size="10.8" text-anchor="end" fill="#000000">6%</text>
<rect class="g" x="58" y="518" width="3.05" height="10.2"/>
<rect class="g" x="62.8" y="518" width="3.05" height="10.2"/>
<rect class="g" x="67.6" y="518" width="3.05" height="10.2"/>
<rect class="g" x="72.4" y="518" width="3.05" height="10.2"/>
<rect class="g" x="77.2" y="518" width="3.05" height="10.2"/>
<rect class="g" x="82" y="518" width="3.05" height="10.2"/>
<rect x="86.8" y="518" width="3.05" height="10.2" fill="#63b8ff"/>
<rect class="g" x="91.6" y="518" width="3.05" height="10.2"/>
<rect class="g" x="96.4" y="518" width="3.05" height="10.2"/>
<rect x="96.4" y="522" width="3.05" height="2.2" fill="#ee3b3b"/>
<rect class="g" x="101.2" y="518" width="3.05" height="10.2"/>
<rect class="g" x="106" y="518" width="3.05" height="10.2"/>
<rect class="g" x="110.8" y="518" width="3.05" height="10.2"/>
<rect class="g" x="115.6" y="518" width="3.05" height="10.2"/>
<rect class="g" x="120.4" y="518" width="3.05" height="10.2"/>
<rect class="g" x="125.2" y="518" width="3.05" height="10.2"/>
<rect class="g" x="130" y="518" width="3.05" height="10.2"/>
<rect class="g" x="134.8" y="518" width="3.05" height="10.2"/>
<rect class="g" x="139.6" y="518" width="3.05" height="10.2"/>
<rect x="144.4" y="518" width="3.05" height="10.2" fill="#63b8ff"/>
<rect class="g" x="149.2" y="518" width="3.05" height="10.2"/>
<rect class="g" x="154" y="518" width="3.05" height="10.2"/>
<rect class="g" x="158.8" y="518" width="3.05" height="10.2"/>
<rect class="g" x="163.6" y="518" width="3.05" height="10.2"/>
<rect class="g" x="168.4" y="518" width="3.05" height="10.2"/>
<rect class="g" x="173.2" y="518" width="3.05" height="10.2"/>
<rect class="g" x="178" y="518" width="3.05" height="10.2"/>
<rect class="g" x="182.8" y="518" width="3.05" height="10.2"/>
<rect class="g" x="187.6" y="518" width="3.05" height="10.2"/>
<rect class="g" x="192.4" y="518" width="3.05" height="10.2"/>
<rect class="g" x="197.2" y="518" width="3.05" height="10.2"/>
<rect class="g" x="202" y="518" width="3.05" height="10.2"/>
<rect class="g" x="206.8" y="518" width="3.05" height="10.2"/>
<rect class="g" x="211.6" y="518" width="3.05" height="10.2"/>
<rect class="g" x="216.4" y="518" width="3.05" height="10.2"/>
<rect class="g" x="221.2" y="518" width="3.05" height="10.2"/>
<rect class="g" x="226" y="518" width="3.05" height="10.2"/>
<rect class="g" x="230.8" y="518" width="3.05" height="10.2"/>
<rect class="g" x="235.6" y="518" width="3.05" height="10.2"/>
<rect x="240.4" y="518" width="3.05" height="10.2" fill="#63b8ff"/>
<rect class="g" x="245.2" y="518" width="3.05" height="10.2"/>
<rect class="g" x="250" y="518" width="3.05" height="10.2"/>
<rect class="g" x="254.8" y="518" width="3.05" height="10.2"/>
<rect class="g" x="259.6" y="518" width="3.05" height="10.2"/>
<rect class="g" x="264.4" y="518" width="3.05" height="10.2"/>
<rect class="g" x="269.2" y="518" width="3.05" height="10.2"/>
<rect class="g" x="274" y="518" width="3.05" height="10.2"/>
<rect class="g" x="278.8" y="518" width="3.05" height="10.2"/>
<rect class="g" x="283.6" y="518" width="3.05" height="10.2"/>
<rect class="g" x="288.4" y="518" width="3.05" height="10.2"/>
<rect class="g" x="293.2" y="518" width="3.05" height="10.2"/>
<rect class="g" x="298" y="518" width="3.05" height="10.2"/>
<rect class="g" x="302.8" y="518" width="3.05" height="10.2"/>
<rect class="g" x="307.6" y="518" width="3.05" height="10.2"/>
<rect class="g" x="312.4" y="518" width="3.05" height="10.2"/>
<rect class="g" x="317.2" y="518" width="3.05" height="10.2"/>
<rect class="g" x="322" y="518" width="3.05" height="10.2"/>
<rect class="g" x="326.8" y="518" width="3.05" height="10.2"/>
<rect class="g" x="331.6" y="518" width="3.05" height="10.2"/>
<rect class="g" x="336.4" y="518" width="3.05" height="10.2"/>
<text x="341.40" y="526.90" font-size="10.8" fill="#000000">KRAS</text>
<rect x="389.2" y="519.5" width="2" height="7.1" fill="#ee3b3b"/>
<rect x="391.2" y="519.5" width="6" height="7.1" fill="#63b8ff"/>
<text x="474.30" y="526.90" font-size="10.8" text-anchor="end" fill="#000000">6%</text>
<text x="0" y="0" font-size="10.8" fill="#000000" text-anchor="middle" transform="translate(41.9,504.90) rotate(-90)">Ras</text>
<rect class="g" x="58" y="541.95" width="3.05" height="10.2"/>
<rect x="58" y="545.95" width="3.05" height="2.2" fill="#ee3b3b"/>
<rect class="g" x="62.8" y="541.95" width="3.05" height="10.2"/>
<rect class="g" x="67.6" y="541.95" width="3.05" height="10.2"/>
<rect x="67.6" y="545.95" width="3.05" height="2.2" fill="#ee3b3b"/>
<rect class="g" x="72.4" y="541.95" width="3.05" height="10.2"/>
<rect class="g" x="77.2" y="541.95" width="3.05" height="10.2"/>
<rect class="g" x="82" y="541.95" width="3.05" height="10.2"/>
<rect x="82" y="545.95" width="3.05" height="2.2" fill="#ee3b3b"/>
<rect class="g" x="86.8" y="541.95" width="3.05" height="10.2"/>
<rect x="86.8" y="545.95" width="3.05" height="2.2" fill="#ee3b3b"/>
<rect class="g" x="91.6" y="541.95" width="3.05" height="10.2"/>
<rect class="g" x="96.4" y="541.95" width="3.05" height="10.2"/>
<rect class="g" x="101.2" y="541.95" width="3.05" height="10.2"/>
<rect class="g" x="106" y="541.95" width="3.05" height="10.2"/>
<rect class="g" x="110.8" y="541.95" width="3.05" height="10.2"/>
<rect x="110.8" y="545.95" width="3.05" height="2.2" fill="#ee3b3b"/>
<rect class="g" x="115.6" y="541.95" width="3.05" height="10.2"/>
<rect class="g" x="120.4" y="541.95" width="3.05" height="10.2"/>
<rect class="g" x="125.2" y="541.95" width="3.05" height="10.2"/>
<rect class="g" x="130" y="541.95" width="3.05" height="10.2"/>
<rect x="130" y="545.95" width="3.05" height="2.2" fill="#ee3b3b"/>
<rect class="g" x="134.8" y="541.95" width="3.05" height="10.2"/>
<rect class="g" x="139.6" y="541.95" width="3.05" height="10.2"/>
<rect class="g" x="144.4" y="541.95" width="3.05" height="10.2"/>
<rect class="g" x="149.2" y="541.95" width="3.05" height="10.2"/>
<rect class="g" x="154" y="541.95" width="3.05" height="10.2"/>
<rect class="g" x="158.8" y="541.95" width="3.05" height="10.2"/>
<rect class="g" x="163.6" y="541.95" width="3.05" height="10.2"/>
<rect class="g" x="168.4" y="541.95" width="3.05" height="10.2"/>
<rect class="g" x="173.2" y="541.95" width="3.05" height="10.2"/>
<rect class="g" x="178" y="541.95" width="3.05" height="10.2"/>
<rect class="g" x="182.8" y="541.95" width="3.05" height="10.2"/>
<rect class="g" x="187.6" y="541.95" width="3.05" height="10.2"/>
<rect class="g" x="192.4" y="541.95" width="3.05" height="10.2"/>
<rect x="192.4" y="545.95" width="3.05" height="2.2" fill="#ee3b3b"/>
<rect class="g" x="197.2" y="541.95" width="3.05" height="10.2"/>
<rect x="197.2" y="545.95" width="3.05" height="2.2" fill="#ee3b3b"/>
<rect class="g" x="202" y="541.95" width="3.05" height="10.2"/>
<rect class="g" x="206.8" y="541.95" width="3.05" height="10.2"/>
<rect class="g" x="211.6" y="541.95" width="3.05" height="10.2"/>
<rect class="g" x="216.4" y="541.95" width="3.05" height="10.2"/>
<rect class="g" x="221.2" y="541.95" width="3.05" height="10.2"/>
<rect class="g" x="226" y="541.95" width="3.05" height="10.2"/>
<rect class="g" x="230.8" y="541.95" width="3.05" height="10.2"/>
<rect class="g" x="235.6" y="541.95" width="3.05" height="10.2"/>
<rect class="g" x="240.4" y="541.95" width="3.05" height="10.2"/>
<rect class="g" x="245.2" y="541.95" width="3.05" height="10.2"/>
<rect class="g" x="250" y="541.95" width="3.05" height="10.2"/>
<rect x="250" y="545.95" width="3.05" height="2.2" fill="#ee3b3b"/>
<rect class="g" x="254.8" y="541.95" width="3.05" height="10.2"/>
<rect class="g" x="259.6" y="541.95" width="3.05" height="10.2"/>
<rect class="g" x="264.4" y="541.95" width="3.05" height="10.2"/>
<rect class="g" x="269.2" y="541.95" width="3.05" height="10.2"/>
<rect class="g" x="274" y="541.95" width="3.05" height="10.2"/>
<rect class="g" x="278.8" y="541.95" width="3.05" height="10.2"/>
<rect class="g" x="283.6" y="541.95" width="3.05" height="10.2"/>
<rect class="g" x="288.4" y="541.95" width="3.05" height="10.2"/>
<rect class="g" x="293.2" y="541.95" width="3.05" height="10.2"/>
<rect class="g" x="298" y="541.95" width="3.05" height="10.2"/>
<rect class="g" x="302.8" y="541.95" width="3.05" height="10.2"/>
<rect class="g" x="307.6" y="541.95" width="3.05" height="10.2"/>
<rect x="307.6" y="545.95" width="3.05" height="2.2" fill="#ee3b3b"/>
<rect class="g" x="312.4" y="541.95" width="3.05" height="10.2"/>
<rect class="g" x="317.2" y="541.95" width="3.05" height="10.2"/>
<rect class="g" x="322" y="541.95" width="3.05" height="10.2"/>
<rect class="g" x="326.8" y="541.95" width="3.05" height="10.2"/>
<rect class="g" x="331.6" y="541.95" width="3.05" height="10.2"/>
<rect x="331.6" y="545.95" width="3.05" height="2.2" fill="#ee3b3b"/>
<rect class="g" x="336.4" y="541.95" width="3.05" height="10.2"/>
<text x="341.40" y="550.85" font-size="10.8" fill="#000000">CDK4</text>
<rect x="389.2" y="543.45" width="22" height="7.1" fill="#ee3b3b"/>
<text x="475.90" y="550.85" font-size="10.8" text-anchor="end" fill="#000000">17%</text>
<rect class="g" x="58" y="554" width="3.05" height="10.2"/>
<rect class="g" x="62.8" y="554" width="3.05" height="10.2"/>
<rect class="g" x="67.6" y="554" width="3.05" height="10.2"/>
<rect class="g" x="72.4" y="554" width="3.05" height="10.2"/>
<rect class="g" x="77.2" y="554" width="3.05" height="10.2"/>
<rect class="g" x="82" y="554" width="3.05" height="10.2"/>
<rect class="g" x="86.8" y="554" width="3.05" height="10.2"/>
<rect class="g" x="91.6" y="554" width="3.05" height="10.2"/>
<rect class="g" x="96.4" y="554" width="3.05" height="10.2"/>
<rect class="g" x="101.2" y="554" width="3.05" height="10.2"/>
<rect class="g" x="106" y="554" width="3.05" height="10.2"/>
<rect class="g" x="110.8" y="554" width="3.05" height="10.2"/>
<rect class="g" x="115.6" y="554" width="3.05" height="10.2"/>
<rect class="g" x="120.4" y="554" width="3.05" height="10.2"/>
<rect x="125.2" y="554" width="3.05" height="10.2" fill="#ffa54f"/>
<rect class="g" x="130" y="554" width="3.05" height="10.2"/>
<rect class="g" x="134.8" y="554" width="3.05" height="10.2"/>
<rect class="g" x="139.6" y="554" width="3.05" height="10.2"/>
<rect x="139.6" y="557.9" width="3.05" height="2.4" fill="#000000"/>
<rect class="g" x="144.4" y="554" width="3.05" height="10.2"/>
<rect x="144.4" y="557.9" width="3.05" height="2.4" fill="#000000"/>
<rect class="g" x="149.2" y="554" width="3.05" height="10.2"/>
<rect x="149.2" y="557.9" width="3.05" height="2.4" fill="#000000"/>
<rect class="g" x="154" y="554" width="3.05" height="10.2"/>
<rect x="154" y="557.9" width="3.05" height="2.4" fill="#000000"/>
<rect class="g" x="158.8" y="554" width="3.05" height="10.2"/>
<rect x="158.8" y="557.9" width="3.05" height="2.4" fill="#000000"/>
<rect class="g" x="163.6" y="554" width="3.05" height="10.2"/>
<rect class="g" x="168.4" y="554" width="3.05" height="10.2"/>
<rect class="g" x="173.2" y="554" width="3.05" height="10.2"/>
<rect class="g" x="178" y="554" width="3.05" height="10.2"/>
<rect class="g" x="182.8" y="554" width="3.05" height="10.2"/>
<rect class="g" x="187.6" y="554" width="3.05" height="10.2"/>
<rect class="g" x="192.4" y="554" width="3.05" height="10.2"/>
<rect class="g" x="197.2" y="554" width="3.05" height="10.2"/>
<rect class="g" x="202" y="554" width="3.05" height="10.2"/>
<rect class="g" x="206.8" y="554" width="3.05" height="10.2"/>
<rect class="g" x="211.6" y="554" width="3.05" height="10.2"/>
<rect class="g" x="216.4" y="554" width="3.05" height="10.2"/>
<rect class="g" x="221.2" y="554" width="3.05" height="10.2"/>
<rect class="g" x="226" y="554" width="3.05" height="10.2"/>
<rect class="g" x="230.8" y="554" width="3.05" height="10.2"/>
<rect class="g" x="235.6" y="554" width="3.05" height="10.2"/>
<rect class="g" x="240.4" y="554" width="3.05" height="10.2"/>
<rect class="g" x="245.2" y="554" width="3.05" height="10.2"/>
<rect x="245.2" y="557.9" width="3.05" height="2.4" fill="#000000"/>
<rect class="g" x="250" y="554" width="3.05" height="10.2"/>
<rect class="g" x="254.8" y="554" width="3.05" height="10.2"/>
<rect x="254.8" y="557.9" width="3.05" height="2.4" fill="#000000"/>
<rect class="g" x="259.6" y="554" width="3.05" height="10.2"/>
<rect x="259.6" y="557.9" width="3.05" height="2.4" fill="#000000"/>
<rect class="g" x="264.4" y="554" width="3.05" height="10.2"/>
<rect class="g" x="269.2" y="554" width="3.05" height="10.2"/>
<rect class="g" x="274" y="554" width="3.05" height="10.2"/>
<rect class="g" x="278.8" y="554" width="3.05" height="10.2"/>
<rect class="g" x="283.6" y="554" width="3.05" height="10.2"/>
<rect class="g" x="288.4" y="554" width="3.05" height="10.2"/>
<rect class="g" x="293.2" y="554" width="3.05" height="10.2"/>
<rect class="g" x="298" y="554" width="3.05" height="10.2"/>
<rect class="g" x="302.8" y="554" width="3.05" height="10.2"/>
<rect class="g" x="307.6" y="554" width="3.05" height="10.2"/>
<rect class="g" x="312.4" y="554" width="3.05" height="10.2"/>
<rect x="317.2" y="554" width="3.05" height="10.2" fill="#ffa54f"/>
<rect class="g" x="322" y="554" width="3.05" height="10.2"/>
<rect class="g" x="326.8" y="554" width="3.05" height="10.2"/>
<rect class="g" x="331.6" y="554" width="3.05" height="10.2"/>
<rect class="g" x="336.4" y="554" width="3.05" height="10.2"/>
<text x="341.40" y="562.90" font-size="10.8" fill="#000000">CDKN2A</text>
<rect x="389.2" y="555.5" width="4" height="7.1" fill="#ffa54f"/>
<rect x="393.2" y="555.5" width="16" height="7.1" fill="#000000"/>
<text x="475.90" y="562.90" font-size="10.8" text-anchor="end" fill="#000000">16%</text>
<rect class="g" x="58" y="566.02" width="3.05" height="10.2"/>
<rect class="g" x="62.8" y="566.02" width="3.05" height="10.2"/>
<rect class="g" x="67.6" y="566.02" width="3.05" height="10.2"/>
<rect class="g" x="72.4" y="566.02" width="3.05" height="10.2"/>
<rect x="77.2" y="566.02" width="3.05" height="10.2" fill="#63b8ff"/>
<rect class="g" x="82" y="566.02" width="3.05" height="10.2"/>
<rect class="g" x="86.8" y="566.02" width="3.05" height="10.2"/>
<rect class="g" x="91.6" y="566.02" width="3.05" height="10.2"/>
<rect x="96.4" y="566.02" width="3.05" height="10.2" fill="#63b8ff"/>
<rect class="g" x="101.2" y="566.02" width="3.05" height="10.2"/>
<rect class="g" x="106" y="566.02" width="3.05" height="10.2"/>
<rect class="g" x="110.8" y="566.02" width="3.05" height="10.2"/>
<rect class="g" x="115.6" y="566.02" width="3.05" height="10.2"/>
<rect class="g" x="120.4" y="566.02" width="3.05" height="10.2"/>
<rect class="g" x="125.2" y="566.02" width="3.05" height="10.2"/>
<rect class="g" x="130" y="566.02" width="3.05" height="10.2"/>
<rect class="g" x="134.8" y="566.02" width="3.05" height="10.2"/>
<rect class="g" x="139.6" y="566.02" width="3.05" height="10.2"/>
<rect class="g" x="144.4" y="566.02" width="3.05" height="10.2"/>
<rect x="149.2" y="566.02" width="3.05" height="10.2" fill="#63b8ff"/>
<rect class="g" x="154" y="566.02" width="3.05" height="10.2"/>
<rect class="g" x="158.8" y="566.02" width="3.05" height="10.2"/>
<rect class="g" x="163.6" y="566.02" width="3.05" height="10.2"/>
<rect class="g" x="168.4" y="566.02" width="3.05" height="10.2"/>
<rect class="g" x="173.2" y="566.02" width="3.05" height="10.2"/>
<rect class="g" x="178" y="566.02" width="3.05" height="10.2"/>
<rect class="g" x="182.8" y="566.02" width="3.05" height="10.2"/>
<rect class="g" x="187.6" y="566.02" width="3.05" height="10.2"/>
<rect class="g" x="192.4" y="566.02" width="3.05" height="10.2"/>
<rect class="g" x="197.2" y="566.02" width="3.05" height="10.2"/>
<rect class="g" x="202" y="566.02" width="3.05" height="10.2"/>
<rect class="g" x="206.8" y="566.02" width="3.05" height="10.2"/>
<rect class="g" x="211.6" y="566.02" width="3.05" height="10.2"/>
<rect class="g" x="216.4" y="566.02" width="3.05" height="10.2"/>
<rect x="221.2" y="566.02" width="3.05" height="10.2" fill="#ffff00"/>
<rect class="g" x="226" y="566.02" width="3.05" height="10.2"/>
<rect class="g" x="230.8" y="566.02" width="3.05" height="10.2"/>
<rect x="235.6" y="566.02" width="3.05" height="10.2" fill="#008b45"/>
<rect class="g" x="240.4" y="566.02" width="3.05" height="10.2"/>
<rect class="g" x="245.2" y="566.02" width="3.05" height="10.2"/>
<rect class="g" x="250" y="566.02" width="3.05" height="10.2"/>
<rect class="g" x="254.8" y="566.02" width="3.05" height="10.2"/>
<rect class="g" x="259.6" y="566.02" width="3.05" height="10.2"/>
<rect class="g" x="264.4" y="566.02" width="3.05" height="10.2"/>
<rect x="264.4" y="569.92" width="3.05" height="2.4" fill="#000000"/>
<rect class="g" x="269.2" y="566.02" width="3.05" height="10.2"/>
<rect class="g" x="274" y="566.02" width="3.05" height="10.2"/>
<rect class="g" x="278.8" y="566.02" width="3.05" height="10.2"/>
<rect class="g" x="283.6" y="566.02" width="3.05" height="10.2"/>
<rect class="g" x="288.4" y="566.02" width="3.05" height="10.2"/>
<rect class="g" x="293.2" y="566.02" width="3.05" height="10.2"/>
<rect class="g" x="298" y="566.02" width="3.05" height="10.2"/>
<rect class="g" x="302.8" y="566.02" width="3.05" height="10.2"/>
<rect class="g" x="307.6" y="566.02" width="3.05" height="10.2"/>
<rect x="307.6" y="569.92" width="3.05" height="2.4" fill="#000000"/>
<rect class="g" x="312.4" y="566.02" width="3.05" height="10.2"/>
<rect class="g" x="317.2" y="566.02" width="3.05" height="10.2"/>
<rect class="g" x="322" y="566.02" width="3.05" height="10.2"/>
<rect class="g" x="326.8" y="566.02" width="3.05" height="10.2"/>
<rect class="g" x="331.6" y="566.02" width="3.05" height="10.2"/>
<rect class="g" x="336.4" y="566.02" width="3.05" height="10.2"/>
<text x="341.40" y="574.92" font-size="10.8" fill="#000000">RB1</text>
<rect x="389.2" y="567.52" width="6" height="7.1" fill="#63b8ff"/>
<rect x="395.2" y="567.52" width="2" height="7.1" fill="#ffff00"/>
<rect x="397.2" y="567.52" width="2" height="7.1" fill="#008b45"/>
<rect x="399.2" y="567.52" width="4" height="7.1" fill="#000000"/>
<text x="475.90" y="574.92" font-size="10.8" text-anchor="end" fill="#000000">11%</text>
<rect class="g" x="58" y="578.05" width="3.05" height="10.2"/>
<rect class="g" x="62.8" y="578.05" width="3.05" height="10.2"/>
<rect class="g" x="67.6" y="578.05" width="3.05" height="10.2"/>
<rect class="g" x="72.4" y="578.05" width="3.05" height="10.2"/>
<rect class="g" x="77.2" y="578.05" width="3.05" height="10.2"/>
<rect class="g" x="82" y="578.05" width="3.05" height="10.2"/>
<rect class="g" x="86.8" y="578.05" width="3.05" height="10.2"/>
<rect x="86.8" y="582.05" width="3.05" height="2.2" fill="#ee3b3b"/>
<rect class="g" x="91.6" y="578.05" width="3.05" height="10.2"/>
<rect class="g" x="96.4" y="578.05" width="3.05" height="10.2"/>
<rect x="96.4" y="582.05" width="3.05" height="2.2" fill="#ee3b3b"/>
<rect class="g" x="101.2" y="578.05" width="3.05" height="10.2"/>
<rect class="g" x="106" y="578.05" width="3.05" height="10.2"/>
<rect class="g" x="110.8" y="578.05" width="3.05" height="10.2"/>
<rect class="g" x="115.6" y="578.05" width="3.05" height="10.2"/>
<rect class="g" x="120.4" y="578.05" width="3.05" height="10.2"/>
<rect class="g" x="125.2" y="578.05" width="3.05" height="10.2"/>
<rect x="125.2" y="582.05" width="3.05" height="2.2" fill="#ee3b3b"/>
<rect class="g" x="130" y="578.05" width="3.05" height="10.2"/>
<rect x="130" y="582.05" width="3.05" height="2.2" fill="#ee3b3b"/>
<rect class="g" x="134.8" y="578.05" width="3.05" height="10.2"/>
<rect class="g" x="139.6" y="578.05" width="3.05" height="10.2"/>
<rect class="g" x="144.4" y="578.05" width="3.05" height="10.2"/>
<rect class="g" x="149.2" y="578.05" width="3.05" height="10.2"/>
<rect class="g" x="154" y="578.05" width="3.05" height="10.2"/>
<rect class="g" x="158.8" y="578.05" width="3.05" height="10.2"/>
<rect class="g" x="163.6" y="578.05" width="3.05" height="10.2"/>
<rect class="g" x="168.4" y="578.05" width="3.05" height="10.2"/>
<rect class="g" x="173.2" y="578.05" width="3.05" height="10.2"/>
<rect class="g" x="178" y="578.05" width="3.05" height="10.2"/>
<rect class="g" x="182.8" y="578.05" width="3.05" height="10.2"/>
<rect class="g" x="187.6" y="578.05" width="3.05" height="10.2"/>
<rect class="g" x="192.4" y="578.05" width="3.05" height="10.2"/>
<rect class="g" x="197.2" y="578.05" width="3.05" height="10.2"/>
<rect x="197.2" y="582.05" width="3.05" height="2.2" fill="#ee3b3b"/>
<rect class="g" x="202" y="578.05" width="3.05" height="10.2"/>
<rect class="g" x="206.8" y="578.05" width="3.05" height="10.2"/>
<rect class="g" x="211.6" y="578.05" width="3.05" height="10.2"/>
<rect class="g" x="216.4" y="578.05" width="3.05" height="10.2"/>
<rect class="g" x="221.2" y="578.05" width="3.05" height="10.2"/>
<rect class="g" x="226" y="578.05" width="3.05" height="10.2"/>
<rect class="g" x="230.8" y="578.05" width="3.05" height="10.2"/>
<rect class="g" x="235.6" y="578.05" width="3.05" height="10.2"/>
<rect class="g" x="240.4" y="578.05" width="3.05" height="10.2"/>
<rect class="g" x="245.2" y="578.05" width="3.05" height="10.2"/>
<rect class="g" x="250" y="578.05" width="3.05" height="10.2"/>
<rect class="g" x="254.8" y="578.05" width="3.05" height="10.2"/>
<rect class="g" x="259.6" y="578.05" width="3.05" height="10.2"/>
<rect class="g" x="264.4" y="578.05" width="3.05" height="10.2"/>
<rect class="g" x="269.2" y="578.05" width="3.05" height="10.2"/>
<rect class="g" x="274" y="578.05" width="3.05" height="10.2"/>
<rect class="g" x="278.8" y="578.05" width="3.05" height="10.2"/>
<rect class="g" x="283.6" y="578.05" width="3.05" height="10.2"/>
<rect class="g" x="288.4" y="578.05" width="3.05" height="10.2"/>
<rect class="g" x="293.2" y="578.05" width="3.05" height="10.2"/>
<rect class="g" x="298" y="578.05" width="3.05" height="10.2"/>
<rect class="g" x="302.8" y="578.05" width="3.05" height="10.2"/>
<rect class="g" x="307.6" y="578.05" width="3.05" height="10.2"/>
<rect class="g" x="312.4" y="578.05" width="3.05" height="10.2"/>
<rect class="g" x="317.2" y="578.05" width="3.05" height="10.2"/>
<rect x="317.2" y="582.05" width="3.05" height="2.2" fill="#ee3b3b"/>
<rect class="g" x="322" y="578.05" width="3.05" height="10.2"/>
<rect class="g" x="326.8" y="578.05" width="3.05" height="10.2"/>
<rect class="g" x="331.6" y="578.05" width="3.05" height="10.2"/>
<rect class="g" x="336.4" y="578.05" width="3.05" height="10.2"/>
<text x="341.40" y="586.95" font-size="10.8" fill="#000000">CDK6</text>
<rect x="389.2" y="579.55" width="12" height="7.1" fill="#ee3b3b"/>
<text x="475.90" y="586.95" font-size="10.8" text-anchor="end" fill="#000000">10%</text>
<rect class="g" x="58" y="590.08" width="3.05" height="10.2"/>
<rect class="g" x="62.8" y="590.08" width="3.05" height="10.2"/>
<rect x="62.8" y="594.08" width="3.05" height="2.2" fill="#ee3b3b"/>
<rect class="g" x="67.6" y="590.08" width="3.05" height="10.2"/>
<rect class="g" x="72.4" y="590.08" width="3.05" height="10.2"/>
<rect class="g" x="77.2" y="590.08" width="3.05" height="10.2"/>
<rect class="g" x="82" y="590.08" width="3.05" height="10.2"/>
<rect class="g" x="86.8" y="590.08" width="3.05" height="10.2"/>
<rect class="g" x="91.6" y="590.08" width="3.05" height="10.2"/>
<rect class="g" x="96.4" y="590.08" width="3.05" height="10.2"/>
<rect class="g" x="101.2" y="590.08" width="3.05" height="10.2"/>
<rect class="g" x="106" y="590.08" width="3.05" height="10.2"/>
<rect class="g" x="110.8" y="590.08" width="3.05" height="10.2"/>
<rect class="g" x="115.6" y="590.08" width="3.05" height="10.2"/>
<rect class="g" x="120.4" y="590.08" width="3.05" height="10.2"/>
<rect class="g" x="125.2" y="590.08" width="3.05" height="10.2"/>
<rect class="g" x="130" y="590.08" width="3.05" height="10.2"/>
<rect class="g" x="134.8" y="590.08" width="3.05" height="10.2"/>
<rect class="g" x="139.6" y="590.08" width="3.05" height="10.2"/>
<rect class="g" x="144.4" y="590.08" width="3.05" height="10.2"/>
<rect class="g" x="149.2" y="590.08" width="3.05" height="10.2"/>
<rect class="g" x="154" y="590.08" width="3.05" height="10.2"/>
<rect class="g" x="158.8" y="590.08" width="3.05" height="10.2"/>
<rect class="g" x="163.6" y="590.08" width="3.05" height="10.2"/>
<rect class="g" x="168.4" y="590.08" width="3.05" height="10.2"/>
<rect class="g" x="173.2" y="590.08" width="3.05" height="10.2"/>
<rect class="g" x="178" y="590.08" width="3.05" height="10.2"/>
<rect class="g" x="182.8" y="590.08" width="3.05" height="10.2"/>
<rect class="g" x="187.6" y="590.08" width="3.05" height="10.2"/>
<rect class="g" x="192.4" y="590.08" width="3.05" height="10.2"/>
<rect class="g" x="197.2" y="590.08" width="3.05" height="10.2"/>
<rect class="g" x="202" y="590.08" width="3.05" height="10.2"/>
<rect class="g" x="206.8" y="590.08" width="3.05" height="10.2"/>
<rect class="g" x="211.6" y="590.08" width="3.05" height="10.2"/>
<rect class="g" x="216.4" y="590.08" width="3.05" height="10.2"/>
<rect class="g" x="221.2" y="590.08" width="3.05" height="10.2"/>
<rect class="g" x="226" y="590.08" width="3.05" height="10.2"/>
<rect class="g" x="230.8" y="590.08" width="3.05" height="10.2"/>
<rect class="g" x="235.6" y="590.08" width="3.05" height="10.2"/>
<rect class="g" x="240.4" y="590.08" width="3.05" height="10.2"/>
<rect class="g" x="245.2" y="590.08" width="3.05" height="10.2"/>
<rect class="g" x="250" y="590.08" width="3.05" height="10.2"/>
<rect x="254.8" y="590.08" width="3.05" height="10.2" fill="#63b8ff"/>
<rect class="g" x="259.6" y="590.08" width="3.05" height="10.2"/>
<rect class="g" x="264.4" y="590.08" width="3.05" height="10.2"/>
<rect class="g" x="269.2" y="590.08" width="3.05" height="10.2"/>
<rect x="269.2" y="594.08" width="3.05" height="2.2" fill="#ee3b3b"/>
<rect class="g" x="274" y="590.08" width="3.05" height="10.2"/>
<rect x="274" y="594.08" width="3.05" height="2.2" fill="#ee3b3b"/>
<rect class="g" x="278.8" y="590.08" width="3.05" height="10.2"/>
<rect class="g" x="283.6" y="590.08" width="3.05" height="10.2"/>
<rect class="g" x="288.4" y="590.08" width="3.05" height="10.2"/>
<rect class="g" x="293.2" y="590.08" width="3.05" height="10.2"/>
<rect class="g" x="298" y="590.08" width="3.05" height="10.2"/>
<rect class="g" x="302.8" y="590.08" width="3.05" height="10.2"/>
<rect class="g" x="307.6" y="590.08" width="3.05" height="10.2"/>
<rect class="g" x="312.4" y="590.08" width="3.05" height="10.2"/>
<rect x="317.2" y="590.08" width="3.05" height="10.2" fill="#63b8ff"/>
<rect x="317.2" y="594.08" width="3.05" height="2.2" fill="#ee3b3b"/>
<rect class="g" x="322" y="590.08" width="3.05" height="10.2"/>
<rect class="g" x="326.8" y="590.08" width="3.05" height="10.2"/>
<rect class="g" x="331.6" y="590.08" width="3.05" height="10.2"/>
<rect class="g" x="336.4" y="590.08" width="3.05" height="10.2"/>
<text x="341.40" y="598.98" font-size="10.8" fill="#000000">CCNE1</text>
<rect x="389.2" y="591.58" width="8" height="7.1" fill="#ee3b3b"/>
<rect x="397.2" y="591.58" width="4" height="7.1" fill="#63b8ff"/>
<text x="474.30" y="598.98" font-size="10.8" text-anchor="end" fill="#000000">8%</text>
<rect class="g" x="58" y="602.1" width="3.05" height="10.2"/>
<rect class="g" x="62.8" y="602.1" width="3.05" height="10.2"/>
<rect class="g" x="67.6" y="602.1" width="3.05" height="10.2"/>
<rect class="g" x="72.4" y="602.1" width="3.05" height="10.2"/>
<rect class="g" x="77.2" y="602.1" width="3.05" height="10.2"/>
<rect class="g" x="82" y="602.1" width="3.05" height="10.2"/>
<rect class="g" x="86.8" y="602.1" width="3.05" height="10.2"/>
<rect class="g" x="91.6" y="602.1" width="3.05" height="10.2"/>
<rect class="g" x="96.4" y="602.1" width="3.05" height="10.2"/>
<rect class="g" x="101.2" y="602.1" width="3.05" height="10.2"/>
<rect class="g" x="106" y="602.1" width="3.05" height="10.2"/>
<rect class="g" x="110.8" y="602.1" width="3.05" height="10.2"/>
<rect class="g" x="115.6" y="602.1" width="3.05" height="10.2"/>
<rect class="g" x="120.4" y="602.1" width="3.05" height="10.2"/>
<rect class="g" x="125.2" y="602.1" width="3.05" height="10.2"/>
<rect class="g" x="130" y="602.1" width="3.05" height="10.2"/>
<rect class="g" x="134.8" y="602.1" width="3.05" height="10.2"/>
<rect class="g" x="139.6" y="602.1" width="3.05" height="10.2"/>
<rect class="g" x="144.4" y="602.1" width="3.05" height="10.2"/>
<rect class="g" x="149.2" y="602.1" width="3.05" height="10.2"/>
<rect class="g" x="154" y="602.1" width="3.05" height="10.2"/>
<rect class="g" x="158.8" y="602.1" width="3.05" height="10.2"/>
<rect class="g" x="163.6" y="602.1" width="3.05" height="10.2"/>
<rect class="g" x="168.4" y="602.1" width="3.05" height="10.2"/>
<rect class="g" x="173.2" y="602.1" width="3.05" height="10.2"/>
<rect class="g" x="178" y="602.1" width="3.05" height="10.2"/>
<rect class="g" x="182.8" y="602.1" width="3.05" height="10.2"/>
<rect class="g" x="187.6" y="602.1" width="3.05" height="10.2"/>
<rect class="g" x="192.4" y="602.1" width="3.05" height="10.2"/>
<rect class="g" x="197.2" y="602.1" width="3.05" height="10.2"/>
<rect x="197.2" y="606.1" width="3.05" height="2.2" fill="#ee3b3b"/>
<rect class="g" x="202" y="602.1" width="3.05" height="10.2"/>
<rect class="g" x="206.8" y="602.1" width="3.05" height="10.2"/>
<rect class="g" x="211.6" y="602.1" width="3.05" height="10.2"/>
<rect class="g" x="216.4" y="602.1" width="3.05" height="10.2"/>
<rect class="g" x="221.2" y="602.1" width="3.05" height="10.2"/>
<rect class="g" x="226" y="602.1" width="3.05" height="10.2"/>
<rect class="g" x="230.8" y="602.1" width="3.05" height="10.2"/>
<rect class="g" x="235.6" y="602.1" width="3.05" height="10.2"/>
<rect class="g" x="240.4" y="602.1" width="3.05" height="10.2"/>
<rect class="g" x="245.2" y="602.1" width="3.05" height="10.2"/>
<rect x="245.2" y="606.1" width="3.05" height="2.2" fill="#ee3b3b"/>
<rect class="g" x="250" y="602.1" width="3.05" height="10.2"/>
<rect class="g" x="254.8" y="602.1" width="3.05" height="10.2"/>
<rect x="254.8" y="606.1" width="3.05" height="2.2" fill="#ee3b3b"/>
<rect class="g" x="259.6" y="602.1" width="3.05" height="10.2"/>
<rect class="g" x="264.4" y="602.1" width="3.05" height="10.2"/>
<rect x="264.4" y="606" width="3.05" height="2.4" fill="#000000"/>
<rect class="g" x="269.2" y="602.1" width="3.05" height="10.2"/>
<rect class="g" x="274" y="602.1" width="3.05" height="10.2"/>
<rect class="g" x="278.8" y="602.1" width="3.05" height="10.2"/>
<rect class="g" x="283.6" y="602.1" width="3.05" height="10.2"/>
<rect class="g" x="288.4" y="602.1" width="3.05" height="10.2"/>
<rect class="g" x="293.2" y="602.1" width="3.05" height="10.2"/>
<rect class="g" x="298" y="602.1" width="3.05" height="10.2"/>
<rect class="g" x="302.8" y="602.1" width="3.05" height="10.2"/>
<rect class="g" x="307.6" y="602.1" width="3.05" height="10.2"/>
<rect class="g" x="312.4" y="602.1" width="3.05" height="10.2"/>
<rect class="g" x="317.2" y="602.1" width="3.05" height="10.2"/>
<rect class="g" x="322" y="602.1" width="3.05" height="10.2"/>
<rect class="g" x="326.8" y="602.1" width="3.05" height="10.2"/>
<rect class="g" x="331.6" y="602.1" width="3.05" height="10.2"/>
<rect class="g" x="336.4" y="602.1" width="3.05" height="10.2"/>
<text x="341.40" y="611.00" font-size="10.8" fill="#000000">CCND1</text>
<rect x="389.2" y="603.6" width="6" height="7.1" fill="#ee3b3b"/>
<rect x="395.2" y="603.6" width="2" height="7.1" fill="#000000"/>
<text x="474.30" y="611.00" font-size="10.8" text-anchor="end" fill="#000000">6%</text>
<rect class="g" x="58" y="614.1" width="3.05" height="10.2"/>
<rect class="g" x="62.8" y="614.1" width="3.05" height="10.2"/>
<rect class="g" x="67.6" y="614.1" width="3.05" height="10.2"/>
<rect class="g" x="72.4" y="614.1" width="3.05" height="10.2"/>
<rect class="g" x="77.2" y="614.1" width="3.05" height="10.2"/>
<rect class="g" x="82" y="614.1" width="3.05" height="10.2"/>
<rect class="g" x="86.8" y="614.1" width="3.05" height="10.2"/>
<rect class="g" x="91.6" y="614.1" width="3.05" height="10.2"/>
<rect class="g" x="96.4" y="614.1" width="3.05" height="10.2"/>
<rect class="g" x="101.2" y="614.1" width="3.05" height="10.2"/>
<rect class="g" x="106" y="614.1" width="3.05" height="10.2"/>
<rect class="g" x="110.8" y="614.1" width="3.05" height="10.2"/>
<rect class="g" x="115.6" y="614.1" width="3.05" height="10.2"/>
<rect class="g" x="120.4" y="614.1" width="3.05" height="10.2"/>
<rect class="g" x="125.2" y="614.1" width="3.05" height="10.2"/>
<rect class="g" x="130" y="614.1" width="3.05" height="10.2"/>
<rect class="g" x="134.8" y="614.1" width="3.05" height="10.2"/>
<rect class="g" x="139.6" y="614.1" width="3.05" height="10.2"/>
<rect class="g" x="144.4" y="614.1" width="3.05" height="10.2"/>
<rect class="g" x="149.2" y="614.1" width="3.05" height="10.2"/>
<rect class="g" x="154" y="614.1" width="3.05" height="10.2"/>
<rect class="g" x="158.8" y="614.1" width="3.05" height="10.2"/>
<rect class="g" x="163.6" y="614.1" width="3.05" height="10.2"/>
<rect class="g" x="168.4" y="614.1" width="3.05" height="10.2"/>
<rect class="g" x="173.2" y="614.1" width="3.05" height="10.2"/>
<rect class="g" x="178" y="614.1" width="3.05" height="10.2"/>
<rect class="g" x="182.8" y="614.1" width="3.05" height="10.2"/>
<rect class="g" x="187.6" y="614.1" width="3.05" height="10.2"/>
<rect class="g" x="192.4" y="614.1" width="3.05" height="10.2"/>
<rect class="g" x="197.2" y="614.1" width="3.05" height="10.2"/>
<rect class="g" x="202" y="614.1" width="3.05" height="10.2"/>
<rect class="g" x="206.8" y="614.1" width="3.05" height="10.2"/>
<rect class="g" x="211.6" y="614.1" width="3.05" height="10.2"/>
<rect class="g" x="216.4" y="614.1" width="3.05" height="10.2"/>
<rect class="g" x="221.2" y="614.1" width="3.05" height="10.2"/>
<rect class="g" x="226" y="614.1" width="3.05" height="10.2"/>
<rect class="g" x="230.8" y="614.1" width="3.05" height="10.2"/>
<rect class="g" x="235.6" y="614.1" width="3.05" height="10.2"/>
<rect class="g" x="240.4" y="614.1" width="3.05" height="10.2"/>
<rect x="240.4" y="618.1" width="3.05" height="2.2" fill="#ee3b3b"/>
<rect class="g" x="245.2" y="614.1" width="3.05" height="10.2"/>
<rect class="g" x="250" y="614.1" width="3.05" height="10.2"/>
<rect class="g" x="254.8" y="614.1" width="3.05" height="10.2"/>
<rect class="g" x="259.6" y="614.1" width="3.05" height="10.2"/>
<rect class="g" x="264.4" y="614.1" width="3.05" height="10.2"/>
<rect class="g" x="269.2" y="614.1" width="3.05" height="10.2"/>
<rect x="269.2" y="618.1" width="3.05" height="2.2" fill="#ee3b3b"/>
<rect class="g" x="274" y="614.1" width="3.05" height="10.2"/>
<rect class="g" x="278.8" y="614.1" width="3.05" height="10.2"/>
<rect class="g" x="283.6" y="614.1" width="3.05" height="10.2"/>
<rect class="g" x="288.4" y="614.1" width="3.05" height="10.2"/>
<rect class="g" x="293.2" y="614.1" width="3.05" height="10.2"/>
<rect class="g" x="298" y="614.1" width="3.05" height="10.2"/>
<rect class="g" x="302.8" y="614.1" width="3.05" height="10.2"/>
<rect class="g" x="307.6" y="614.1" width="3.05" height="10.2"/>
<rect class="g" x="312.4" y="614.1" width="3.05" height="10.2"/>
<rect class="g" x="317.2" y="614.1" width="3.05" height="10.2"/>
<rect x="317.2" y="618.1" width="3.05" height="2.2" fill="#ee3b3b"/>
<rect class="g" x="322" y="614.1" width="3.05" height="10.2"/>
<rect class="g" x="326.8" y="614.1" width="3.05" height="10.2"/>
<rect class="g" x="331.6" y="614.1" width="3.05" height="10.2"/>
<rect class="g" x="336.4" y="614.1" width="3.05" height="10.2"/>
<text x="341.40" y="623.00" font-size="10.8" fill="#000000">CCND3</text>
<rect x="389.2" y="615.6" width="6" height="7.1" fill="#ee3b3b"/>
<text x="474.30" y="623.00" font-size="10.8" text-anchor="end" fill="#000000">5%</text>
<text x="0" y="0" font-size="10.8" fill="#000000" text-anchor="middle" textLength="43.6" lengthAdjust="spacingAndGlyphs" transform="translate(41.9,586.20) rotate(-90)">Cell cycle</text>
<rect class="g" x="58" y="638" width="3.05" height="10.2"/>
<rect class="g" x="62.8" y="638" width="3.05" height="10.2"/>
<rect x="62.8" y="642" width="3.05" height="2.2" fill="#ee3b3b"/>
<rect x="67.6" y="638" width="3.05" height="10.2" fill="#63b8ff"/>
<rect class="g" x="72.4" y="638" width="3.05" height="10.2"/>
<rect x="77.2" y="638" width="3.05" height="10.2" fill="#63b8ff"/>
<rect class="g" x="82" y="638" width="3.05" height="10.2"/>
<rect class="g" x="86.8" y="638" width="3.05" height="10.2"/>
<rect class="g" x="91.6" y="638" width="3.05" height="10.2"/>
<rect class="g" x="96.4" y="638" width="3.05" height="10.2"/>
<rect x="96.4" y="642" width="3.05" height="2.2" fill="#ee3b3b"/>
<rect class="g" x="101.2" y="638" width="3.05" height="10.2"/>
<rect x="106" y="638" width="3.05" height="10.2" fill="#ffff00"/>
<rect class="g" x="110.8" y="638" width="3.05" height="10.2"/>
<rect class="g" x="115.6" y="638" width="3.05" height="10.2"/>
<rect class="g" x="120.4" y="638" width="3.05" height="10.2"/>
<rect x="125.2" y="638" width="3.05" height="10.2" fill="#63b8ff"/>
<rect class="g" x="130" y="638" width="3.05" height="10.2"/>
<rect x="134.8" y="638" width="3.05" height="10.2" fill="#63b8ff"/>
<rect x="139.6" y="638" width="3.05" height="10.2" fill="#ffff00"/>
<rect x="144.4" y="638" width="3.05" height="10.2" fill="#63b8ff"/>
<rect x="149.2" y="638" width="3.05" height="10.2" fill="#63b8ff"/>
<rect x="154" y="638" width="3.05" height="10.2" fill="#63b8ff"/>
<rect x="158.8" y="638" width="3.05" height="10.2" fill="#63b8ff"/>
<rect x="163.6" y="638" width="3.05" height="10.2" fill="#63b8ff"/>
<rect x="168.4" y="638" width="3.05" height="10.2" fill="#63b8ff"/>
<rect x="173.2" y="638" width="3.05" height="10.2" fill="#63b8ff"/>
<rect x="178" y="638" width="3.05" height="10.2" fill="#ffff00"/>
<rect x="182.8" y="638" width="3.05" height="10.2" fill="#63b8ff"/>
<rect x="187.6" y="638" width="3.05" height="10.2" fill="#ff69b4"/>
<rect class="g" x="192.4" y="638" width="3.05" height="10.2"/>
<rect class="g" x="197.2" y="638" width="3.05" height="10.2"/>
<rect class="g" x="202" y="638" width="3.05" height="10.2"/>
<rect class="g" x="206.8" y="638" width="3.05" height="10.2"/>
<rect class="g" x="211.6" y="638" width="3.05" height="10.2"/>
<rect class="g" x="216.4" y="638" width="3.05" height="10.2"/>
<rect class="g" x="221.2" y="638" width="3.05" height="10.2"/>
<rect class="g" x="226" y="638" width="3.05" height="10.2"/>
<rect class="g" x="230.8" y="638" width="3.05" height="10.2"/>
<rect class="g" x="235.6" y="638" width="3.05" height="10.2"/>
<rect class="g" x="240.4" y="638" width="3.05" height="10.2"/>
<rect class="g" x="245.2" y="638" width="3.05" height="10.2"/>
<rect class="g" x="250" y="638" width="3.05" height="10.2"/>
<rect class="g" x="254.8" y="638" width="3.05" height="10.2"/>
<rect class="g" x="259.6" y="638" width="3.05" height="10.2"/>
<rect class="g" x="264.4" y="638" width="3.05" height="10.2"/>
<rect class="g" x="269.2" y="638" width="3.05" height="10.2"/>
<rect class="g" x="274" y="638" width="3.05" height="10.2"/>
<rect x="278.8" y="638" width="3.05" height="10.2" fill="#63b8ff"/>
<rect x="283.6" y="638" width="3.05" height="10.2" fill="#63b8ff"/>
<rect class="g" x="288.4" y="638" width="3.05" height="10.2"/>
<rect class="g" x="293.2" y="638" width="3.05" height="10.2"/>
<rect class="g" x="298" y="638" width="3.05" height="10.2"/>
<rect class="g" x="302.8" y="638" width="3.05" height="10.2"/>
<rect class="g" x="307.6" y="638" width="3.05" height="10.2"/>
<rect x="312.4" y="638" width="3.05" height="10.2" fill="#63b8ff"/>
<rect x="317.2" y="638" width="3.05" height="10.2" fill="#63b8ff"/>
<rect class="g" x="322" y="638" width="3.05" height="10.2"/>
<rect class="g" x="326.8" y="638" width="3.05" height="10.2"/>
<rect class="g" x="331.6" y="638" width="3.05" height="10.2"/>
<rect class="g" x="336.4" y="638" width="3.05" height="10.2"/>
<text x="341.40" y="646.90" font-size="10.8" fill="#000000">PIK3CA</text>
<rect x="389.2" y="639.5" width="4" height="7.1" fill="#ee3b3b"/>
<rect x="393.2" y="639.5" width="32" height="7.1" fill="#63b8ff"/>
<rect x="425.2" y="639.5" width="6" height="7.1" fill="#ffff00"/>
<rect x="431.2" y="639.5" width="2" height="7.1" fill="#ff69b4"/>
<text x="475.90" y="646.90" font-size="10.8" text-anchor="end" fill="#000000">35%</text>
<rect class="g" x="58" y="649.98" width="3.05" height="10.2"/>
<rect class="g" x="62.8" y="649.98" width="3.05" height="10.2"/>
<rect x="62.8" y="653.98" width="3.05" height="2.2" fill="#ee3b3b"/>
<rect class="g" x="67.6" y="649.98" width="3.05" height="10.2"/>
<rect x="67.6" y="653.98" width="3.05" height="2.2" fill="#ee3b3b"/>
<rect class="g" x="72.4" y="649.98" width="3.05" height="10.2"/>
<rect class="g" x="77.2" y="649.98" width="3.05" height="10.2"/>
<rect class="g" x="82" y="649.98" width="3.05" height="10.2"/>
<rect class="g" x="86.8" y="649.98" width="3.05" height="10.2"/>
<rect x="91.6" y="649.98" width="3.05" height="10.2" fill="#63b8ff"/>
<rect class="g" x="96.4" y="649.98" width="3.05" height="10.2"/>
<rect class="g" x="101.2" y="649.98" width="3.05" height="10.2"/>
<rect class="g" x="106" y="649.98" width="3.05" height="10.2"/>
<rect class="g" x="110.8" y="649.98" width="3.05" height="10.2"/>
<rect class="g" x="115.6" y="649.98" width="3.05" height="10.2"/>
<rect class="g" x="120.4" y="649.98" width="3.05" height="10.2"/>
<rect class="g" x="125.2" y="649.98" width="3.05" height="10.2"/>
<rect x="125.2" y="653.98" width="3.05" height="2.2" fill="#ee3b3b"/>
<rect class="g" x="130" y="649.98" width="3.05" height="10.2"/>
<rect x="130" y="653.98" width="3.05" height="2.2" fill="#ee3b3b"/>
<rect class="g" x="134.8" y="649.98" width="3.05" height="10.2"/>
<rect class="g" x="139.6" y="649.98" width="3.05" height="10.2"/>
<rect class="g" x="144.4" y="649.98" width="3.05" height="10.2"/>
<rect class="g" x="149.2" y="649.98" width="3.05" height="10.2"/>
<rect class="g" x="154" y="649.98" width="3.05" height="10.2"/>
<rect class="g" x="158.8" y="649.98" width="3.05" height="10.2"/>
<rect x="163.6" y="649.98" width="3.05" height="10.2" fill="#63b8ff"/>
<rect class="g" x="168.4" y="649.98" width="3.05" height="10.2"/>
<rect class="g" x="173.2" y="649.98" width="3.05" height="10.2"/>
<rect class="g" x="178" y="649.98" width="3.05" height="10.2"/>
<rect class="g" x="182.8" y="649.98" width="3.05" height="10.2"/>
<rect class="g" x="187.6" y="649.98" width="3.05" height="10.2"/>
<rect class="g" x="192.4" y="649.98" width="3.05" height="10.2"/>
<rect class="g" x="197.2" y="649.98" width="3.05" height="10.2"/>
<rect x="197.2" y="653.98" width="3.05" height="2.2" fill="#ee3b3b"/>
<rect class="g" x="202" y="649.98" width="3.05" height="10.2"/>
<rect class="g" x="206.8" y="649.98" width="3.05" height="10.2"/>
<rect x="206.8" y="653.98" width="3.05" height="2.2" fill="#ee3b3b"/>
<rect class="g" x="211.6" y="649.98" width="3.05" height="10.2"/>
<rect class="g" x="216.4" y="649.98" width="3.05" height="10.2"/>
<rect class="g" x="221.2" y="649.98" width="3.05" height="10.2"/>
<rect class="g" x="226" y="649.98" width="3.05" height="10.2"/>
<rect x="226" y="653.98" width="3.05" height="2.2" fill="#ee3b3b"/>
<rect class="g" x="230.8" y="649.98" width="3.05" height="10.2"/>
<rect class="g" x="235.6" y="649.98" width="3.05" height="10.2"/>
<rect class="g" x="240.4" y="649.98" width="3.05" height="10.2"/>
<rect class="g" x="245.2" y="649.98" width="3.05" height="10.2"/>
<rect x="245.2" y="653.98" width="3.05" height="2.2" fill="#ee3b3b"/>
<rect class="g" x="250" y="649.98" width="3.05" height="10.2"/>
<rect class="g" x="254.8" y="649.98" width="3.05" height="10.2"/>
<rect class="g" x="259.6" y="649.98" width="3.05" height="10.2"/>
<rect class="g" x="264.4" y="649.98" width="3.05" height="10.2"/>
<rect class="g" x="269.2" y="649.98" width="3.05" height="10.2"/>
<rect class="g" x="274" y="649.98" width="3.05" height="10.2"/>
<rect x="274" y="653.98" width="3.05" height="2.2" fill="#ee3b3b"/>
<rect class="g" x="278.8" y="649.98" width="3.05" height="10.2"/>
<rect class="g" x="283.6" y="649.98" width="3.05" height="10.2"/>
<rect class="g" x="288.4" y="649.98" width="3.05" height="10.2"/>
<rect class="g" x="293.2" y="649.98" width="3.05" height="10.2"/>
<rect class="g" x="298" y="649.98" width="3.05" height="10.2"/>
<rect class="g" x="302.8" y="649.98" width="3.05" height="10.2"/>
<rect class="g" x="307.6" y="649.98" width="3.05" height="10.2"/>
<rect class="g" x="312.4" y="649.98" width="3.05" height="10.2"/>
<rect class="g" x="317.2" y="649.98" width="3.05" height="10.2"/>
<rect class="g" x="322" y="649.98" width="3.05" height="10.2"/>
<rect class="g" x="326.8" y="649.98" width="3.05" height="10.2"/>
<rect class="g" x="331.6" y="649.98" width="3.05" height="10.2"/>
<rect class="g" x="336.4" y="649.98" width="3.05" height="10.2"/>
<text x="341.40" y="658.88" font-size="10.8" fill="#000000">PIK3R1</text>
<rect x="389.2" y="651.48" width="18" height="7.1" fill="#ee3b3b"/>
<rect x="407.2" y="651.48" width="4" height="7.1" fill="#63b8ff"/>
<text x="475.90" y="658.88" font-size="10.8" text-anchor="end" fill="#000000">17%</text>
<rect class="g" x="58" y="661.97" width="3.05" height="10.2"/>
<rect class="g" x="62.8" y="661.97" width="3.05" height="10.2"/>
<rect class="g" x="67.6" y="661.97" width="3.05" height="10.2"/>
<rect class="g" x="72.4" y="661.97" width="3.05" height="10.2"/>
<rect class="g" x="77.2" y="661.97" width="3.05" height="10.2"/>
<rect class="g" x="82" y="661.97" width="3.05" height="10.2"/>
<rect class="g" x="86.8" y="661.97" width="3.05" height="10.2"/>
<rect x="86.8" y="665.97" width="3.05" height="2.2" fill="#ee3b3b"/>
<rect class="g" x="91.6" y="661.97" width="3.05" height="10.2"/>
<rect class="g" x="96.4" y="661.97" width="3.05" height="10.2"/>
<rect class="g" x="101.2" y="661.97" width="3.05" height="10.2"/>
<rect x="101.2" y="665.97" width="3.05" height="2.2" fill="#ee3b3b"/>
<rect x="106" y="661.97" width="3.05" height="10.2" fill="#63b8ff"/>
<rect class="g" x="110.8" y="661.97" width="3.05" height="10.2"/>
<rect class="g" x="115.6" y="661.97" width="3.05" height="10.2"/>
<rect class="g" x="120.4" y="661.97" width="3.05" height="10.2"/>
<rect class="g" x="125.2" y="661.97" width="3.05" height="10.2"/>
<rect class="g" x="130" y="661.97" width="3.05" height="10.2"/>
<rect class="g" x="134.8" y="661.97" width="3.05" height="10.2"/>
<rect class="g" x="139.6" y="661.97" width="3.05" height="10.2"/>
<rect class="g" x="144.4" y="661.97" width="3.05" height="10.2"/>
<rect class="g" x="149.2" y="661.97" width="3.05" height="10.2"/>
<rect class="g" x="154" y="661.97" width="3.05" height="10.2"/>
<rect class="g" x="158.8" y="661.97" width="3.05" height="10.2"/>
<rect class="g" x="163.6" y="661.97" width="3.05" height="10.2"/>
<rect class="g" x="168.4" y="661.97" width="3.05" height="10.2"/>
<rect class="g" x="173.2" y="661.97" width="3.05" height="10.2"/>
<rect class="g" x="178" y="661.97" width="3.05" height="10.2"/>
<rect class="g" x="182.8" y="661.97" width="3.05" height="10.2"/>
<rect class="g" x="187.6" y="661.97" width="3.05" height="10.2"/>
<rect class="g" x="192.4" y="661.97" width="3.05" height="10.2"/>
<rect class="g" x="197.2" y="661.97" width="3.05" height="10.2"/>
<rect x="197.2" y="665.97" width="3.05" height="2.2" fill="#ee3b3b"/>
<rect class="g" x="202" y="661.97" width="3.05" height="10.2"/>
<rect class="g" x="206.8" y="661.97" width="3.05" height="10.2"/>
<rect class="g" x="211.6" y="661.97" width="3.05" height="10.2"/>
<rect class="g" x="216.4" y="661.97" width="3.05" height="10.2"/>
<rect class="g" x="221.2" y="661.97" width="3.05" height="10.2"/>
<rect class="g" x="226" y="661.97" width="3.05" height="10.2"/>
<rect class="g" x="230.8" y="661.97" width="3.05" height="10.2"/>
<rect x="230.8" y="665.87" width="3.05" height="2.4" fill="#000000"/>
<rect x="235.6" y="661.97" width="3.05" height="10.2" fill="#63b8ff"/>
<rect class="g" x="240.4" y="661.97" width="3.05" height="10.2"/>
<rect class="g" x="245.2" y="661.97" width="3.05" height="10.2"/>
<rect class="g" x="250" y="661.97" width="3.05" height="10.2"/>
<rect class="g" x="254.8" y="661.97" width="3.05" height="10.2"/>
<rect class="g" x="259.6" y="661.97" width="3.05" height="10.2"/>
<rect class="g" x="264.4" y="661.97" width="3.05" height="10.2"/>
<rect class="g" x="269.2" y="661.97" width="3.05" height="10.2"/>
<rect class="g" x="274" y="661.97" width="3.05" height="10.2"/>
<rect class="g" x="278.8" y="661.97" width="3.05" height="10.2"/>
<rect x="278.8" y="665.97" width="3.05" height="2.2" fill="#ee3b3b"/>
<rect class="g" x="283.6" y="661.97" width="3.05" height="10.2"/>
<rect x="283.6" y="665.87" width="3.05" height="2.4" fill="#000000"/>
<rect class="g" x="288.4" y="661.97" width="3.05" height="10.2"/>
<rect x="288.4" y="665.97" width="3.05" height="2.2" fill="#ee3b3b"/>
<rect class="g" x="293.2" y="661.97" width="3.05" height="10.2"/>
<rect class="g" x="298" y="661.97" width="3.05" height="10.2"/>
<rect class="g" x="302.8" y="661.97" width="3.05" height="10.2"/>
<rect class="g" x="307.6" y="661.97" width="3.05" height="10.2"/>
<rect class="g" x="312.4" y="661.97" width="3.05" height="10.2"/>
<rect x="317.2" y="661.97" width="3.05" height="10.2" fill="#ffa54f"/>
<rect class="g" x="322" y="661.97" width="3.05" height="10.2"/>
<rect class="g" x="326.8" y="661.97" width="3.05" height="10.2"/>
<rect class="g" x="331.6" y="661.97" width="3.05" height="10.2"/>
<rect class="g" x="336.4" y="661.97" width="3.05" height="10.2"/>
<text x="341.40" y="670.87" font-size="10.8" fill="#000000">TSC2</text>
<rect x="389.2" y="663.47" width="10" height="7.1" fill="#ee3b3b"/>
<rect x="399.2" y="663.47" width="4" height="7.1" fill="#63b8ff"/>
<rect x="403.2" y="663.47" width="2" height="7.1" fill="#ffa54f"/>
<rect x="405.2" y="663.47" width="4" height="7.1" fill="#000000"/>
<text x="475.90" y="670.87" font-size="10.8" text-anchor="end" fill="#000000">16%</text>
<rect class="g" x="58" y="673.95" width="3.05" height="10.2"/>
<rect class="g" x="62.8" y="673.95" width="3.05" height="10.2"/>
<rect x="67.6" y="673.95" width="3.05" height="10.2" fill="#7b68ee"/>
<rect class="g" x="72.4" y="673.95" width="3.05" height="10.2"/>
<rect class="g" x="77.2" y="673.95" width="3.05" height="10.2"/>
<rect class="g" x="82" y="673.95" width="3.05" height="10.2"/>
<rect class="g" x="86.8" y="673.95" width="3.05" height="10.2"/>
<rect class="g" x="91.6" y="673.95" width="3.05" height="10.2"/>
<rect class="g" x="96.4" y="673.95" width="3.05" height="10.2"/>
<rect class="g" x="101.2" y="673.95" width="3.05" height="10.2"/>
<rect class="g" x="106" y="673.95" width="3.05" height="10.2"/>
<rect class="g" x="110.8" y="673.95" width="3.05" height="10.2"/>
<rect class="g" x="115.6" y="673.95" width="3.05" height="10.2"/>
<rect class="g" x="120.4" y="673.95" width="3.05" height="10.2"/>
<rect class="g" x="125.2" y="673.95" width="3.05" height="10.2"/>
<rect class="g" x="130" y="673.95" width="3.05" height="10.2"/>
<rect class="g" x="134.8" y="673.95" width="3.05" height="10.2"/>
<rect class="g" x="139.6" y="673.95" width="3.05" height="10.2"/>
<rect class="g" x="144.4" y="673.95" width="3.05" height="10.2"/>
<rect class="g" x="149.2" y="673.95" width="3.05" height="10.2"/>
<rect class="g" x="154" y="673.95" width="3.05" height="10.2"/>
<rect class="g" x="158.8" y="673.95" width="3.05" height="10.2"/>
<rect class="g" x="163.6" y="673.95" width="3.05" height="10.2"/>
<rect class="g" x="168.4" y="673.95" width="3.05" height="10.2"/>
<rect class="g" x="173.2" y="673.95" width="3.05" height="10.2"/>
<rect class="g" x="178" y="673.95" width="3.05" height="10.2"/>
<rect class="g" x="182.8" y="673.95" width="3.05" height="10.2"/>
<rect class="g" x="187.6" y="673.95" width="3.05" height="10.2"/>
<rect x="192.4" y="673.95" width="3.05" height="10.2" fill="#7b68ee"/>
<rect class="g" x="197.2" y="673.95" width="3.05" height="10.2"/>
<rect x="197.2" y="677.95" width="3.05" height="2.2" fill="#ee3b3b"/>
<rect class="g" x="202" y="673.95" width="3.05" height="10.2"/>
<rect class="g" x="206.8" y="673.95" width="3.05" height="10.2"/>
<rect class="g" x="211.6" y="673.95" width="3.05" height="10.2"/>
<rect class="g" x="216.4" y="673.95" width="3.05" height="10.2"/>
<rect class="g" x="221.2" y="673.95" width="3.05" height="10.2"/>
<rect class="g" x="226" y="673.95" width="3.05" height="10.2"/>
<rect class="g" x="230.8" y="673.95" width="3.05" height="10.2"/>
<rect class="g" x="235.6" y="673.95" width="3.05" height="10.2"/>
<rect class="g" x="240.4" y="673.95" width="3.05" height="10.2"/>
<rect class="g" x="245.2" y="673.95" width="3.05" height="10.2"/>
<rect x="245.2" y="677.85" width="3.05" height="2.4" fill="#000000"/>
<rect class="g" x="250" y="673.95" width="3.05" height="10.2"/>
<rect class="g" x="254.8" y="673.95" width="3.05" height="10.2"/>
<rect class="g" x="259.6" y="673.95" width="3.05" height="10.2"/>
<rect x="259.6" y="677.85" width="3.05" height="2.4" fill="#000000"/>
<rect class="g" x="264.4" y="673.95" width="3.05" height="10.2"/>
<rect class="g" x="269.2" y="673.95" width="3.05" height="10.2"/>
<rect class="g" x="274" y="673.95" width="3.05" height="10.2"/>
<rect class="g" x="278.8" y="673.95" width="3.05" height="10.2"/>
<rect x="278.8" y="677.85" width="3.05" height="2.4" fill="#000000"/>
<rect class="g" x="283.6" y="673.95" width="3.05" height="10.2"/>
<rect class="g" x="288.4" y="673.95" width="3.05" height="10.2"/>
<rect x="293.2" y="673.95" width="3.05" height="10.2" fill="#ffa54f"/>
<rect class="g" x="298" y="673.95" width="3.05" height="10.2"/>
<rect class="g" x="302.8" y="673.95" width="3.05" height="10.2"/>
<rect class="g" x="307.6" y="673.95" width="3.05" height="10.2"/>
<rect class="g" x="312.4" y="673.95" width="3.05" height="10.2"/>
<rect x="317.2" y="673.95" width="3.05" height="10.2" fill="#63b8ff"/>
<rect class="g" x="322" y="673.95" width="3.05" height="10.2"/>
<rect class="g" x="326.8" y="673.95" width="3.05" height="10.2"/>
<rect class="g" x="331.6" y="673.95" width="3.05" height="10.2"/>
<rect class="g" x="336.4" y="673.95" width="3.05" height="10.2"/>
<text x="341.40" y="682.85" font-size="10.8" fill="#000000">PTEN</text>
<rect x="389.2" y="675.45" width="2" height="7.1" fill="#ee3b3b"/>
<rect x="391.2" y="675.45" width="2" height="7.1" fill="#63b8ff"/>
<rect x="393.2" y="675.45" width="2" height="7.1" fill="#ffa54f"/>
<rect x="395.2" y="675.45" width="4" height="7.1" fill="#7b68ee"/>
<rect x="399.2" y="675.45" width="6" height="7.1" fill="#000000"/>
<text x="475.90" y="682.85" font-size="10.8" text-anchor="end" fill="#000000">13%</text>
<rect class="g" x="58" y="685.93" width="3.05" height="10.2"/>
<rect class="g" x="62.8" y="685.93" width="3.05" height="10.2"/>
<rect x="62.8" y="689.93" width="3.05" height="2.2" fill="#ee3b3b"/>
<rect class="g" x="67.6" y="685.93" width="3.05" height="10.2"/>
<rect x="72.4" y="685.93" width="3.05" height="10.2" fill="#63b8ff"/>
<rect x="72.4" y="689.93" width="3.05" height="2.2" fill="#ee3b3b"/>
<rect class="g" x="77.2" y="685.93" width="3.05" height="10.2"/>
<rect class="g" x="82" y="685.93" width="3.05" height="10.2"/>
<rect class="g" x="86.8" y="685.93" width="3.05" height="10.2"/>
<rect class="g" x="91.6" y="685.93" width="3.05" height="10.2"/>
<rect class="g" x="96.4" y="685.93" width="3.05" height="10.2"/>
<rect x="96.4" y="689.93" width="3.05" height="2.2" fill="#ee3b3b"/>
<rect class="g" x="101.2" y="685.93" width="3.05" height="10.2"/>
<rect class="g" x="106" y="685.93" width="3.05" height="10.2"/>
<rect class="g" x="110.8" y="685.93" width="3.05" height="10.2"/>
<rect class="g" x="115.6" y="685.93" width="3.05" height="10.2"/>
<rect class="g" x="120.4" y="685.93" width="3.05" height="10.2"/>
<rect class="g" x="125.2" y="685.93" width="3.05" height="10.2"/>
<rect class="g" x="130" y="685.93" width="3.05" height="10.2"/>
<rect class="g" x="134.8" y="685.93" width="3.05" height="10.2"/>
<rect class="g" x="139.6" y="685.93" width="3.05" height="10.2"/>
<rect class="g" x="144.4" y="685.93" width="3.05" height="10.2"/>
<rect class="g" x="149.2" y="685.93" width="3.05" height="10.2"/>
<rect class="g" x="154" y="685.93" width="3.05" height="10.2"/>
<rect class="g" x="158.8" y="685.93" width="3.05" height="10.2"/>
<rect class="g" x="163.6" y="685.93" width="3.05" height="10.2"/>
<rect class="g" x="168.4" y="685.93" width="3.05" height="10.2"/>
<rect class="g" x="173.2" y="685.93" width="3.05" height="10.2"/>
<rect class="g" x="178" y="685.93" width="3.05" height="10.2"/>
<rect class="g" x="182.8" y="685.93" width="3.05" height="10.2"/>
<rect class="g" x="187.6" y="685.93" width="3.05" height="10.2"/>
<rect class="g" x="192.4" y="685.93" width="3.05" height="10.2"/>
<rect class="g" x="197.2" y="685.93" width="3.05" height="10.2"/>
<rect class="g" x="202" y="685.93" width="3.05" height="10.2"/>
<rect class="g" x="206.8" y="685.93" width="3.05" height="10.2"/>
<rect x="211.6" y="685.93" width="3.05" height="10.2" fill="#63b8ff"/>
<rect class="g" x="216.4" y="685.93" width="3.05" height="10.2"/>
<rect class="g" x="221.2" y="685.93" width="3.05" height="10.2"/>
<rect class="g" x="226" y="685.93" width="3.05" height="10.2"/>
<rect class="g" x="230.8" y="685.93" width="3.05" height="10.2"/>
<rect class="g" x="235.6" y="685.93" width="3.05" height="10.2"/>
<rect class="g" x="240.4" y="685.93" width="3.05" height="10.2"/>
<rect class="g" x="245.2" y="685.93" width="3.05" height="10.2"/>
<rect class="g" x="250" y="685.93" width="3.05" height="10.2"/>
<rect class="g" x="254.8" y="685.93" width="3.05" height="10.2"/>
<rect class="g" x="259.6" y="685.93" width="3.05" height="10.2"/>
<rect class="g" x="264.4" y="685.93" width="3.05" height="10.2"/>
<rect class="g" x="269.2" y="685.93" width="3.05" height="10.2"/>
<rect class="g" x="274" y="685.93" width="3.05" height="10.2"/>
<rect class="g" x="278.8" y="685.93" width="3.05" height="10.2"/>
<rect class="g" x="283.6" y="685.93" width="3.05" height="10.2"/>
<rect class="g" x="288.4" y="685.93" width="3.05" height="10.2"/>
<rect class="g" x="293.2" y="685.93" width="3.05" height="10.2"/>
<rect class="g" x="298" y="685.93" width="3.05" height="10.2"/>
<rect class="g" x="302.8" y="685.93" width="3.05" height="10.2"/>
<rect class="g" x="307.6" y="685.93" width="3.05" height="10.2"/>
<rect x="312.4" y="685.93" width="3.05" height="10.2" fill="#63b8ff"/>
<rect x="317.2" y="685.93" width="3.05" height="10.2" fill="#63b8ff"/>
<rect class="g" x="322" y="685.93" width="3.05" height="10.2"/>
<rect class="g" x="326.8" y="685.93" width="3.05" height="10.2"/>
<rect x="326.8" y="689.93" width="3.05" height="2.2" fill="#ee3b3b"/>
<rect class="g" x="331.6" y="685.93" width="3.05" height="10.2"/>
<rect class="g" x="336.4" y="685.93" width="3.05" height="10.2"/>
<text x="341.40" y="694.83" font-size="10.8" fill="#000000">RICTOR</text>
<rect x="389.2" y="687.43" width="8" height="7.1" fill="#ee3b3b"/>
<rect x="397.2" y="687.43" width="8" height="7.1" fill="#63b8ff"/>
<text x="475.90" y="694.83" font-size="10.8" text-anchor="end" fill="#000000">11%</text>
<rect class="g" x="58" y="697.92" width="3.05" height="10.2"/>
<rect class="g" x="62.8" y="697.92" width="3.05" height="10.2"/>
<rect x="62.8" y="701.92" width="3.05" height="2.2" fill="#ee3b3b"/>
<rect class="g" x="67.6" y="697.92" width="3.05" height="10.2"/>
<rect class="g" x="72.4" y="697.92" width="3.05" height="10.2"/>
<rect class="g" x="77.2" y="697.92" width="3.05" height="10.2"/>
<rect class="g" x="82" y="697.92" width="3.05" height="10.2"/>
<rect class="g" x="86.8" y="697.92" width="3.05" height="10.2"/>
<rect class="g" x="91.6" y="697.92" width="3.05" height="10.2"/>
<rect class="g" x="96.4" y="697.92" width="3.05" height="10.2"/>
<rect class="g" x="101.2" y="697.92" width="3.05" height="10.2"/>
<rect x="101.2" y="701.92" width="3.05" height="2.2" fill="#ee3b3b"/>
<rect class="g" x="106" y="697.92" width="3.05" height="10.2"/>
<rect class="g" x="110.8" y="697.92" width="3.05" height="10.2"/>
<rect class="g" x="115.6" y="697.92" width="3.05" height="10.2"/>
<rect class="g" x="120.4" y="697.92" width="3.05" height="10.2"/>
<rect class="g" x="125.2" y="697.92" width="3.05" height="10.2"/>
<rect class="g" x="130" y="697.92" width="3.05" height="10.2"/>
<rect class="g" x="134.8" y="697.92" width="3.05" height="10.2"/>
<rect class="g" x="139.6" y="697.92" width="3.05" height="10.2"/>
<rect class="g" x="144.4" y="697.92" width="3.05" height="10.2"/>
<rect class="g" x="149.2" y="697.92" width="3.05" height="10.2"/>
<rect class="g" x="154" y="697.92" width="3.05" height="10.2"/>
<rect x="154" y="701.92" width="3.05" height="2.2" fill="#ee3b3b"/>
<rect class="g" x="158.8" y="697.92" width="3.05" height="10.2"/>
<rect class="g" x="163.6" y="697.92" width="3.05" height="10.2"/>
<rect class="g" x="168.4" y="697.92" width="3.05" height="10.2"/>
<rect class="g" x="173.2" y="697.92" width="3.05" height="10.2"/>
<rect class="g" x="178" y="697.92" width="3.05" height="10.2"/>
<rect class="g" x="182.8" y="697.92" width="3.05" height="10.2"/>
<rect class="g" x="187.6" y="697.92" width="3.05" height="10.2"/>
<rect class="g" x="192.4" y="697.92" width="3.05" height="10.2"/>
<rect class="g" x="197.2" y="697.92" width="3.05" height="10.2"/>
<rect x="197.2" y="701.92" width="3.05" height="2.2" fill="#ee3b3b"/>
<rect class="g" x="202" y="697.92" width="3.05" height="10.2"/>
<rect class="g" x="206.8" y="697.92" width="3.05" height="10.2"/>
<rect class="g" x="211.6" y="697.92" width="3.05" height="10.2"/>
<rect class="g" x="216.4" y="697.92" width="3.05" height="10.2"/>
<rect x="221.2" y="697.92" width="3.05" height="10.2" fill="#63b8ff"/>
<rect class="g" x="226" y="697.92" width="3.05" height="10.2"/>
<rect class="g" x="230.8" y="697.92" width="3.05" height="10.2"/>
<rect x="235.6" y="697.92" width="3.05" height="10.2" fill="#63b8ff"/>
<rect class="g" x="240.4" y="697.92" width="3.05" height="10.2"/>
<rect class="g" x="245.2" y="697.92" width="3.05" height="10.2"/>
<rect class="g" x="250" y="697.92" width="3.05" height="10.2"/>
<rect class="g" x="254.8" y="697.92" width="3.05" height="10.2"/>
<rect class="g" x="259.6" y="697.92" width="3.05" height="10.2"/>
<rect class="g" x="264.4" y="697.92" width="3.05" height="10.2"/>
<rect class="g" x="269.2" y="697.92" width="3.05" height="10.2"/>
<rect class="g" x="274" y="697.92" width="3.05" height="10.2"/>
<rect class="g" x="278.8" y="697.92" width="3.05" height="10.2"/>
<rect class="g" x="283.6" y="697.92" width="3.05" height="10.2"/>
<rect class="g" x="288.4" y="697.92" width="3.05" height="10.2"/>
<rect class="g" x="293.2" y="697.92" width="3.05" height="10.2"/>
<rect class="g" x="298" y="697.92" width="3.05" height="10.2"/>
<rect class="g" x="302.8" y="697.92" width="3.05" height="10.2"/>
<rect class="g" x="307.6" y="697.92" width="3.05" height="10.2"/>
<rect class="g" x="312.4" y="697.92" width="3.05" height="10.2"/>
<rect class="g" x="317.2" y="697.92" width="3.05" height="10.2"/>
<rect class="g" x="322" y="697.92" width="3.05" height="10.2"/>
<rect class="g" x="326.8" y="697.92" width="3.05" height="10.2"/>
<rect class="g" x="331.6" y="697.92" width="3.05" height="10.2"/>
<rect class="g" x="336.4" y="697.92" width="3.05" height="10.2"/>
<text x="341.40" y="706.82" font-size="10.8" fill="#000000">AKT3</text>
<rect x="389.2" y="699.42" width="8" height="7.1" fill="#ee3b3b"/>
<rect x="397.2" y="699.42" width="4" height="7.1" fill="#63b8ff"/>
<text x="475.90" y="706.82" font-size="10.8" text-anchor="end" fill="#000000">10%</text>
<rect class="g" x="58" y="709.9" width="3.05" height="10.2"/>
<rect class="g" x="62.8" y="709.9" width="3.05" height="10.2"/>
<rect class="g" x="67.6" y="709.9" width="3.05" height="10.2"/>
<rect class="g" x="72.4" y="709.9" width="3.05" height="10.2"/>
<rect class="g" x="77.2" y="709.9" width="3.05" height="10.2"/>
<rect class="g" x="82" y="709.9" width="3.05" height="10.2"/>
<rect x="82" y="713.9" width="3.05" height="2.2" fill="#ee3b3b"/>
<rect class="g" x="86.8" y="709.9" width="3.05" height="10.2"/>
<rect class="g" x="91.6" y="709.9" width="3.05" height="10.2"/>
<rect class="g" x="96.4" y="709.9" width="3.05" height="10.2"/>
<rect class="g" x="101.2" y="709.9" width="3.05" height="10.2"/>
<rect class="g" x="106" y="709.9" width="3.05" height="10.2"/>
<rect class="g" x="110.8" y="709.9" width="3.05" height="10.2"/>
<rect class="g" x="115.6" y="709.9" width="3.05" height="10.2"/>
<rect class="g" x="120.4" y="709.9" width="3.05" height="10.2"/>
<rect class="g" x="125.2" y="709.9" width="3.05" height="10.2"/>
<rect x="130" y="709.9" width="3.05" height="10.2" fill="#63b8ff"/>
<rect class="g" x="134.8" y="709.9" width="3.05" height="10.2"/>
<rect class="g" x="139.6" y="709.9" width="3.05" height="10.2"/>
<rect class="g" x="144.4" y="709.9" width="3.05" height="10.2"/>
<rect class="g" x="149.2" y="709.9" width="3.05" height="10.2"/>
<rect class="g" x="154" y="709.9" width="3.05" height="10.2"/>
<rect class="g" x="158.8" y="709.9" width="3.05" height="10.2"/>
<rect class="g" x="163.6" y="709.9" width="3.05" height="10.2"/>
<rect class="g" x="168.4" y="709.9" width="3.05" height="10.2"/>
<rect class="g" x="173.2" y="709.9" width="3.05" height="10.2"/>
<rect class="g" x="178" y="709.9" width="3.05" height="10.2"/>
<rect class="g" x="182.8" y="709.9" width="3.05" height="10.2"/>
<rect class="g" x="187.6" y="709.9" width="3.05" height="10.2"/>
<rect class="g" x="192.4" y="709.9" width="3.05" height="10.2"/>
<rect class="g" x="197.2" y="709.9" width="3.05" height="10.2"/>
<rect class="g" x="202" y="709.9" width="3.05" height="10.2"/>
<rect class="g" x="206.8" y="709.9" width="3.05" height="10.2"/>
<rect class="g" x="211.6" y="709.9" width="3.05" height="10.2"/>
<rect x="216.4" y="709.9" width="3.05" height="10.2" fill="#63b8ff"/>
<rect class="g" x="221.2" y="709.9" width="3.05" height="10.2"/>
<rect class="g" x="226" y="709.9" width="3.05" height="10.2"/>
<rect class="g" x="230.8" y="709.9" width="3.05" height="10.2"/>
<rect x="235.6" y="709.9" width="3.05" height="10.2" fill="#63b8ff"/>
<rect class="g" x="240.4" y="709.9" width="3.05" height="10.2"/>
<rect class="g" x="245.2" y="709.9" width="3.05" height="10.2"/>
<rect x="245.2" y="713.9" width="3.05" height="2.2" fill="#ee3b3b"/>
<rect class="g" x="250" y="709.9" width="3.05" height="10.2"/>
<rect class="g" x="254.8" y="709.9" width="3.05" height="10.2"/>
<rect class="g" x="259.6" y="709.9" width="3.05" height="10.2"/>
<rect class="g" x="264.4" y="709.9" width="3.05" height="10.2"/>
<rect class="g" x="269.2" y="709.9" width="3.05" height="10.2"/>
<rect class="g" x="274" y="709.9" width="3.05" height="10.2"/>
<rect class="g" x="278.8" y="709.9" width="3.05" height="10.2"/>
<rect class="g" x="283.6" y="709.9" width="3.05" height="10.2"/>
<rect class="g" x="288.4" y="709.9" width="3.05" height="10.2"/>
<rect class="g" x="293.2" y="709.9" width="3.05" height="10.2"/>
<rect class="g" x="298" y="709.9" width="3.05" height="10.2"/>
<rect class="g" x="302.8" y="709.9" width="3.05" height="10.2"/>
<rect class="g" x="307.6" y="709.9" width="3.05" height="10.2"/>
<rect class="g" x="312.4" y="709.9" width="3.05" height="10.2"/>
<rect class="g" x="317.2" y="709.9" width="3.05" height="10.2"/>
<rect class="g" x="322" y="709.9" width="3.05" height="10.2"/>
<rect class="g" x="326.8" y="709.9" width="3.05" height="10.2"/>
<rect class="g" x="331.6" y="709.9" width="3.05" height="10.2"/>
<rect class="g" x="336.4" y="709.9" width="3.05" height="10.2"/>
<text x="341.40" y="718.80" font-size="10.8" fill="#000000">AKT1</text>
<rect x="389.2" y="711.4" width="4" height="7.1" fill="#ee3b3b"/>
<rect x="393.2" y="711.4" width="6" height="7.1" fill="#63b8ff"/>
<text x="474.30" y="718.80" font-size="10.8" text-anchor="end" fill="#000000">8%</text>
<rect class="g" x="58" y="722" width="3.05" height="10.2"/>
<rect class="g" x="62.8" y="722" width="3.05" height="10.2"/>
<rect class="g" x="67.6" y="722" width="3.05" height="10.2"/>
<rect class="g" x="72.4" y="722" width="3.05" height="10.2"/>
<rect class="g" x="77.2" y="722" width="3.05" height="10.2"/>
<rect class="g" x="82" y="722" width="3.05" height="10.2"/>
<rect class="g" x="86.8" y="722" width="3.05" height="10.2"/>
<rect x="91.6" y="722" width="3.05" height="10.2" fill="#008b45"/>
<rect class="g" x="96.4" y="722" width="3.05" height="10.2"/>
<rect class="g" x="101.2" y="722" width="3.05" height="10.2"/>
<rect class="g" x="106" y="722" width="3.05" height="10.2"/>
<rect class="g" x="110.8" y="722" width="3.05" height="10.2"/>
<rect class="g" x="115.6" y="722" width="3.05" height="10.2"/>
<rect class="g" x="120.4" y="722" width="3.05" height="10.2"/>
<rect class="g" x="125.2" y="722" width="3.05" height="10.2"/>
<rect class="g" x="130" y="722" width="3.05" height="10.2"/>
<rect class="g" x="134.8" y="722" width="3.05" height="10.2"/>
<rect class="g" x="139.6" y="722" width="3.05" height="10.2"/>
<rect class="g" x="144.4" y="722" width="3.05" height="10.2"/>
<rect class="g" x="149.2" y="722" width="3.05" height="10.2"/>
<rect class="g" x="154" y="722" width="3.05" height="10.2"/>
<rect class="g" x="158.8" y="722" width="3.05" height="10.2"/>
<rect class="g" x="163.6" y="722" width="3.05" height="10.2"/>
<rect class="g" x="168.4" y="722" width="3.05" height="10.2"/>
<rect class="g" x="173.2" y="722" width="3.05" height="10.2"/>
<rect class="g" x="178" y="722" width="3.05" height="10.2"/>
<rect class="g" x="182.8" y="722" width="3.05" height="10.2"/>
<rect class="g" x="187.6" y="722" width="3.05" height="10.2"/>
<rect class="g" x="192.4" y="722" width="3.05" height="10.2"/>
<rect class="g" x="197.2" y="722" width="3.05" height="10.2"/>
<rect class="g" x="202" y="722" width="3.05" height="10.2"/>
<rect class="g" x="206.8" y="722" width="3.05" height="10.2"/>
<rect class="g" x="211.6" y="722" width="3.05" height="10.2"/>
<rect class="g" x="216.4" y="722" width="3.05" height="10.2"/>
<rect class="g" x="221.2" y="722" width="3.05" height="10.2"/>
<rect class="g" x="226" y="722" width="3.05" height="10.2"/>
<rect class="g" x="230.8" y="722" width="3.05" height="10.2"/>
<rect x="235.6" y="722" width="3.05" height="10.2" fill="#63b8ff"/>
<rect class="g" x="240.4" y="722" width="3.05" height="10.2"/>
<rect class="g" x="245.2" y="722" width="3.05" height="10.2"/>
<rect class="g" x="250" y="722" width="3.05" height="10.2"/>
<rect class="g" x="254.8" y="722" width="3.05" height="10.2"/>
<rect class="g" x="259.6" y="722" width="3.05" height="10.2"/>
<rect class="g" x="264.4" y="722" width="3.05" height="10.2"/>
<rect class="g" x="269.2" y="722" width="3.05" height="10.2"/>
<rect x="269.2" y="726" width="3.05" height="2.2" fill="#ee3b3b"/>
<rect class="g" x="274" y="722" width="3.05" height="10.2"/>
<rect x="274" y="726" width="3.05" height="2.2" fill="#ee3b3b"/>
<rect class="g" x="278.8" y="722" width="3.05" height="10.2"/>
<rect class="g" x="283.6" y="722" width="3.05" height="10.2"/>
<rect class="g" x="288.4" y="722" width="3.05" height="10.2"/>
<rect class="g" x="293.2" y="722" width="3.05" height="10.2"/>
<rect class="g" x="298" y="722" width="3.05" height="10.2"/>
<rect class="g" x="302.8" y="722" width="3.05" height="10.2"/>
<rect class="g" x="307.6" y="722" width="3.05" height="10.2"/>
<rect class="g" x="312.4" y="722" width="3.05" height="10.2"/>
<rect class="g" x="317.2" y="722" width="3.05" height="10.2"/>
<rect class="g" x="322" y="722" width="3.05" height="10.2"/>
<rect class="g" x="326.8" y="722" width="3.05" height="10.2"/>
<rect class="g" x="331.6" y="722" width="3.05" height="10.2"/>
<rect class="g" x="336.4" y="722" width="3.05" height="10.2"/>
<text x="341.40" y="730.90" font-size="10.8" fill="#000000">AKT2</text>
<rect x="389.2" y="723.5" width="4" height="7.1" fill="#ee3b3b"/>
<rect x="393.2" y="723.5" width="2" height="7.1" fill="#63b8ff"/>
<rect x="395.2" y="723.5" width="2" height="7.1" fill="#008b45"/>
<text x="474.30" y="730.90" font-size="10.8" text-anchor="end" fill="#000000">6%</text>
<text x="0" y="0" font-size="10.8" fill="#000000" text-anchor="middle" transform="translate(41.9,685.60) rotate(-90)">PI3K</text>
<rect x="58" y="746" width="3.05" height="10.2" fill="#ffff00"/>
<rect x="62.8" y="746" width="3.05" height="10.2" fill="#ffa54f"/>
<rect class="g" x="67.6" y="746" width="3.05" height="10.2"/>
<rect x="72.4" y="746" width="3.05" height="10.2" fill="#7b68ee"/>
<rect x="77.2" y="746" width="3.05" height="10.2" fill="#7b68ee"/>
<rect x="82" y="746" width="3.05" height="10.2" fill="#ffa54f"/>
<rect x="86.8" y="746" width="3.05" height="10.2" fill="#63b8ff"/>
<rect class="g" x="91.6" y="746" width="3.05" height="10.2"/>
<rect x="96.4" y="746" width="3.05" height="10.2" fill="#7b68ee"/>
<rect class="g" x="101.2" y="746" width="3.05" height="10.2"/>
<rect x="106" y="746" width="3.05" height="10.2" fill="#63b8ff"/>
<rect x="110.8" y="746" width="3.05" height="10.2" fill="#008b45"/>
<rect x="115.6" y="746" width="3.05" height="10.2" fill="#63b8ff"/>
<rect x="120.4" y="746" width="3.05" height="10.2" fill="#63b8ff"/>
<rect x="125.2" y="746" width="3.05" height="10.2" fill="#63b8ff"/>
<rect class="g" x="130" y="746" width="3.05" height="10.2"/>
<rect class="g" x="134.8" y="746" width="3.05" height="10.2"/>
<rect class="g" x="139.6" y="746" width="3.05" height="10.2"/>
<rect class="g" x="144.4" y="746" width="3.05" height="10.2"/>
<rect class="g" x="149.2" y="746" width="3.05" height="10.2"/>
<rect class="g" x="154" y="746" width="3.05" height="10.2"/>
<rect class="g" x="158.8" y="746" width="3.05" height="10.2"/>
<rect x="163.6" y="746" width="3.05" height="10.2" fill="#ffa54f"/>
<rect class="g" x="168.4" y="746" width="3.05" height="10.2"/>
<rect class="g" x="173.2" y="746" width="3.05" height="10.2"/>
<rect class="g" x="178" y="746" width="3.05" height="10.2"/>
<rect class="g" x="182.8" y="746" width="3.05" height="10.2"/>
<rect class="g" x="187.6" y="746" width="3.05" height="10.2"/>
<rect x="192.4" y="746" width="3.05" height="10.2" fill="#7b68ee"/>
<rect x="197.2" y="746" width="3.05" height="10.2" fill="#63b8ff"/>
<rect x="202" y="746" width="3.05" height="10.2" fill="#ffa54f"/>
<rect class="g" x="206.8" y="746" width="3.05" height="10.2"/>
<rect x="211.6" y="746" width="3.05" height="10.2" fill="#ffff00"/>
<rect class="g" x="216.4" y="746" width="3.05" height="10.2"/>
<rect x="221.2" y="746" width="3.05" height="10.2" fill="#63b8ff"/>
<rect class="g" x="226" y="746" width="3.05" height="10.2"/>
<rect class="g" x="230.8" y="746" width="3.05" height="10.2"/>
<rect x="235.6" y="746" width="3.05" height="10.2" fill="#ffff00"/>
<rect x="240.4" y="746" width="3.05" height="10.2" fill="#008b45"/>
<rect x="245.2" y="746" width="3.05" height="10.2" fill="#7b68ee"/>
<rect class="g" x="250" y="746" width="3.05" height="10.2"/>
<rect x="254.8" y="746" width="3.05" height="10.2" fill="#008b45"/>
<rect class="g" x="259.6" y="746" width="3.05" height="10.2"/>
<rect x="264.4" y="746" width="3.05" height="10.2" fill="#63b8ff"/>
<rect x="269.2" y="746" width="3.05" height="10.2" fill="#ffa54f"/>
<rect x="274" y="746" width="3.05" height="10.2" fill="#63b8ff"/>
<rect class="g" x="278.8" y="746" width="3.05" height="10.2"/>
<rect x="283.6" y="746" width="3.05" height="10.2" fill="#63b8ff"/>
<rect x="288.4" y="746" width="3.05" height="10.2" fill="#63b8ff"/>
<rect x="293.2" y="746" width="3.05" height="10.2" fill="#ffa54f"/>
<rect x="298" y="746" width="3.05" height="10.2" fill="#ffa54f"/>
<rect class="g" x="302.8" y="746" width="3.05" height="10.2"/>
<rect x="307.6" y="746" width="3.05" height="10.2" fill="#63b8ff"/>
<rect x="312.4" y="746" width="3.05" height="10.2" fill="#63b8ff"/>
<rect x="317.2" y="746" width="3.05" height="10.2" fill="#ffa54f"/>
<rect class="g" x="322" y="746" width="3.05" height="10.2"/>
<rect class="g" x="326.8" y="746" width="3.05" height="10.2"/>
<rect class="g" x="331.6" y="746" width="3.05" height="10.2"/>
<rect class="g" x="336.4" y="746" width="3.05" height="10.2"/>
<text x="341.40" y="754.90" font-size="10.8" fill="#000000">TP53</text>
<rect x="389.2" y="747.5" width="26" height="7.1" fill="#63b8ff"/>
<rect x="415.2" y="747.5" width="16" height="7.1" fill="#ffa54f"/>
<rect x="431.2" y="747.5" width="10" height="7.1" fill="#7b68ee"/>
<rect x="441.2" y="747.5" width="6" height="7.1" fill="#ffff00"/>
<rect x="447.2" y="747.5" width="6" height="7.1" fill="#008b45"/>
<text x="475.90" y="754.90" font-size="10.8" text-anchor="end" fill="#000000">51%</text>
<rect class="g" x="58" y="758" width="3.05" height="10.2"/>
<rect class="g" x="62.8" y="758" width="3.05" height="10.2"/>
<rect class="g" x="67.6" y="758" width="3.05" height="10.2"/>
<rect x="67.6" y="762" width="3.05" height="2.2" fill="#ee3b3b"/>
<rect class="g" x="72.4" y="758" width="3.05" height="10.2"/>
<rect class="g" x="77.2" y="758" width="3.05" height="10.2"/>
<rect class="g" x="82" y="758" width="3.05" height="10.2"/>
<rect class="g" x="86.8" y="758" width="3.05" height="10.2"/>
<rect class="g" x="91.6" y="758" width="3.05" height="10.2"/>
<rect class="g" x="96.4" y="758" width="3.05" height="10.2"/>
<rect class="g" x="101.2" y="758" width="3.05" height="10.2"/>
<rect class="g" x="106" y="758" width="3.05" height="10.2"/>
<rect class="g" x="110.8" y="758" width="3.05" height="10.2"/>
<rect class="g" x="115.6" y="758" width="3.05" height="10.2"/>
<rect class="g" x="120.4" y="758" width="3.05" height="10.2"/>
<rect class="g" x="125.2" y="758" width="3.05" height="10.2"/>
<rect class="g" x="130" y="758" width="3.05" height="10.2"/>
<rect class="g" x="134.8" y="758" width="3.05" height="10.2"/>
<rect class="g" x="139.6" y="758" width="3.05" height="10.2"/>
<rect class="g" x="144.4" y="758" width="3.05" height="10.2"/>
<rect class="g" x="149.2" y="758" width="3.05" height="10.2"/>
<rect class="g" x="154" y="758" width="3.05" height="10.2"/>
<rect class="g" x="158.8" y="758" width="3.05" height="10.2"/>
<rect class="g" x="163.6" y="758" width="3.05" height="10.2"/>
<rect class="g" x="168.4" y="758" width="3.05" height="10.2"/>
<rect class="g" x="173.2" y="758" width="3.05" height="10.2"/>
<rect class="g" x="178" y="758" width="3.05" height="10.2"/>
<rect class="g" x="182.8" y="758" width="3.05" height="10.2"/>
<rect class="g" x="187.6" y="758" width="3.05" height="10.2"/>
<rect class="g" x="192.4" y="758" width="3.05" height="10.2"/>
<rect x="192.4" y="762" width="3.05" height="2.2" fill="#ee3b3b"/>
<rect class="g" x="197.2" y="758" width="3.05" height="10.2"/>
<rect class="g" x="202" y="758" width="3.05" height="10.2"/>
<rect class="g" x="206.8" y="758" width="3.05" height="10.2"/>
<rect class="g" x="211.6" y="758" width="3.05" height="10.2"/>
<rect class="g" x="216.4" y="758" width="3.05" height="10.2"/>
<rect class="g" x="221.2" y="758" width="3.05" height="10.2"/>
<rect class="g" x="226" y="758" width="3.05" height="10.2"/>
<rect class="g" x="230.8" y="758" width="3.05" height="10.2"/>
<rect x="235.6" y="758" width="3.05" height="10.2" fill="#63b8ff"/>
<rect class="g" x="240.4" y="758" width="3.05" height="10.2"/>
<rect x="245.2" y="758" width="3.05" height="10.2" fill="#63b8ff"/>
<rect class="g" x="250" y="758" width="3.05" height="10.2"/>
<rect class="g" x="254.8" y="758" width="3.05" height="10.2"/>
<rect class="g" x="259.6" y="758" width="3.05" height="10.2"/>
<rect class="g" x="264.4" y="758" width="3.05" height="10.2"/>
<rect class="g" x="269.2" y="758" width="3.05" height="10.2"/>
<rect class="g" x="274" y="758" width="3.05" height="10.2"/>
<rect class="g" x="278.8" y="758" width="3.05" height="10.2"/>
<rect class="g" x="283.6" y="758" width="3.05" height="10.2"/>
<rect class="g" x="288.4" y="758" width="3.05" height="10.2"/>
<rect class="g" x="293.2" y="758" width="3.05" height="10.2"/>
<rect class="g" x="298" y="758" width="3.05" height="10.2"/>
<rect class="g" x="302.8" y="758" width="3.05" height="10.2"/>
<rect class="g" x="307.6" y="758" width="3.05" height="10.2"/>
<rect x="307.6" y="762" width="3.05" height="2.2" fill="#ee3b3b"/>
<rect class="g" x="312.4" y="758" width="3.05" height="10.2"/>
<rect class="g" x="317.2" y="758" width="3.05" height="10.2"/>
<rect class="g" x="322" y="758" width="3.05" height="10.2"/>
<rect class="g" x="326.8" y="758" width="3.05" height="10.2"/>
<rect class="g" x="331.6" y="758" width="3.05" height="10.2"/>
<rect x="331.6" y="762" width="3.05" height="2.2" fill="#ee3b3b"/>
<rect class="g" x="336.4" y="758" width="3.05" height="10.2"/>
<text x="341.40" y="766.90" font-size="10.8" fill="#000000">MDM2</text>
<rect x="389.2" y="759.5" width="8" height="7.1" fill="#ee3b3b"/>
<rect x="397.2" y="759.5" width="4" height="7.1" fill="#63b8ff"/>
<text x="475.90" y="766.90" font-size="10.8" text-anchor="end" fill="#000000">10%</text>
<rect class="g" x="58" y="770" width="3.05" height="10.2"/>
<rect class="g" x="62.8" y="770" width="3.05" height="10.2"/>
<rect class="g" x="67.6" y="770" width="3.05" height="10.2"/>
<rect class="g" x="72.4" y="770" width="3.05" height="10.2"/>
<rect class="g" x="77.2" y="770" width="3.05" height="10.2"/>
<rect class="g" x="82" y="770" width="3.05" height="10.2"/>
<rect x="82" y="774" width="3.05" height="2.2" fill="#ee3b3b"/>
<rect class="g" x="86.8" y="770" width="3.05" height="10.2"/>
<rect class="g" x="91.6" y="770" width="3.05" height="10.2"/>
<rect class="g" x="96.4" y="770" width="3.05" height="10.2"/>
<rect class="g" x="101.2" y="770" width="3.05" height="10.2"/>
<rect x="101.2" y="774" width="3.05" height="2.2" fill="#ee3b3b"/>
<rect class="g" x="106" y="770" width="3.05" height="10.2"/>
<rect class="g" x="110.8" y="770" width="3.05" height="10.2"/>
<rect class="g" x="115.6" y="770" width="3.05" height="10.2"/>
<rect class="g" x="120.4" y="770" width="3.05" height="10.2"/>
<rect class="g" x="125.2" y="770" width="3.05" height="10.2"/>
<rect x="125.2" y="774" width="3.05" height="2.2" fill="#ee3b3b"/>
<rect class="g" x="130" y="770" width="3.05" height="10.2"/>
<rect class="g" x="134.8" y="770" width="3.05" height="10.2"/>
<rect class="g" x="139.6" y="770" width="3.05" height="10.2"/>
<rect class="g" x="144.4" y="770" width="3.05" height="10.2"/>
<rect class="g" x="149.2" y="770" width="3.05" height="10.2"/>
<rect class="g" x="154" y="770" width="3.05" height="10.2"/>
<rect x="154" y="774" width="3.05" height="2.2" fill="#ee3b3b"/>
<rect class="g" x="158.8" y="770" width="3.05" height="10.2"/>
<rect class="g" x="163.6" y="770" width="3.05" height="10.2"/>
<rect class="g" x="168.4" y="770" width="3.05" height="10.2"/>
<rect class="g" x="173.2" y="770" width="3.05" height="10.2"/>
<rect class="g" x="178" y="770" width="3.05" height="10.2"/>
<rect class="g" x="182.8" y="770" width="3.05" height="10.2"/>
<rect class="g" x="187.6" y="770" width="3.05" height="10.2"/>
<rect class="g" x="192.4" y="770" width="3.05" height="10.2"/>
<rect x="192.4" y="774" width="3.05" height="2.2" fill="#ee3b3b"/>
<rect class="g" x="197.2" y="770" width="3.05" height="10.2"/>
<rect x="197.2" y="774" width="3.05" height="2.2" fill="#ee3b3b"/>
<rect class="g" x="202" y="770" width="3.05" height="10.2"/>
<rect class="g" x="206.8" y="770" width="3.05" height="10.2"/>
<rect class="g" x="211.6" y="770" width="3.05" height="10.2"/>
<rect class="g" x="216.4" y="770" width="3.05" height="10.2"/>
<rect class="g" x="221.2" y="770" width="3.05" height="10.2"/>
<rect class="g" x="226" y="770" width="3.05" height="10.2"/>
<rect class="g" x="230.8" y="770" width="3.05" height="10.2"/>
<rect class="g" x="235.6" y="770" width="3.05" height="10.2"/>
<rect class="g" x="240.4" y="770" width="3.05" height="10.2"/>
<rect class="g" x="245.2" y="770" width="3.05" height="10.2"/>
<rect class="g" x="250" y="770" width="3.05" height="10.2"/>
<rect class="g" x="254.8" y="770" width="3.05" height="10.2"/>
<rect class="g" x="259.6" y="770" width="3.05" height="10.2"/>
<rect class="g" x="264.4" y="770" width="3.05" height="10.2"/>
<rect class="g" x="269.2" y="770" width="3.05" height="10.2"/>
<rect class="g" x="274" y="770" width="3.05" height="10.2"/>
<rect class="g" x="278.8" y="770" width="3.05" height="10.2"/>
<rect class="g" x="283.6" y="770" width="3.05" height="10.2"/>
<rect class="g" x="288.4" y="770" width="3.05" height="10.2"/>
<rect class="g" x="293.2" y="770" width="3.05" height="10.2"/>
<rect class="g" x="298" y="770" width="3.05" height="10.2"/>
<rect class="g" x="302.8" y="770" width="3.05" height="10.2"/>
<rect class="g" x="307.6" y="770" width="3.05" height="10.2"/>
<rect class="g" x="312.4" y="770" width="3.05" height="10.2"/>
<rect class="g" x="317.2" y="770" width="3.05" height="10.2"/>
<rect class="g" x="322" y="770" width="3.05" height="10.2"/>
<rect class="g" x="326.8" y="770" width="3.05" height="10.2"/>
<rect class="g" x="331.6" y="770" width="3.05" height="10.2"/>
<rect class="g" x="336.4" y="770" width="3.05" height="10.2"/>
<text x="341.40" y="778.90" font-size="10.8" fill="#000000">MDM4</text>
<rect x="389.2" y="771.5" width="12" height="7.1" fill="#ee3b3b"/>
<text x="475.90" y="778.90" font-size="10.8" text-anchor="end" fill="#000000">10%</text>
<rect class="g" x="58" y="782" width="3.05" height="10.2"/>
<rect class="g" x="62.8" y="782" width="3.05" height="10.2"/>
<rect x="67.6" y="782" width="3.05" height="10.2" fill="#63b8ff"/>
<rect class="g" x="72.4" y="782" width="3.05" height="10.2"/>
<rect class="g" x="77.2" y="782" width="3.05" height="10.2"/>
<rect class="g" x="82" y="782" width="3.05" height="10.2"/>
<rect class="g" x="86.8" y="782" width="3.05" height="10.2"/>
<rect class="g" x="91.6" y="782" width="3.05" height="10.2"/>
<rect class="g" x="96.4" y="782" width="3.05" height="10.2"/>
<rect class="g" x="101.2" y="782" width="3.05" height="10.2"/>
<rect class="g" x="106" y="782" width="3.05" height="10.2"/>
<rect class="g" x="110.8" y="782" width="3.05" height="10.2"/>
<rect class="g" x="115.6" y="782" width="3.05" height="10.2"/>
<rect class="g" x="120.4" y="782" width="3.05" height="10.2"/>
<rect class="g" x="125.2" y="782" width="3.05" height="10.2"/>
<rect class="g" x="130" y="782" width="3.05" height="10.2"/>
<rect class="g" x="134.8" y="782" width="3.05" height="10.2"/>
<rect class="g" x="139.6" y="782" width="3.05" height="10.2"/>
<rect class="g" x="144.4" y="782" width="3.05" height="10.2"/>
<rect class="g" x="149.2" y="782" width="3.05" height="10.2"/>
<rect class="g" x="154" y="782" width="3.05" height="10.2"/>
<rect class="g" x="158.8" y="782" width="3.05" height="10.2"/>
<rect class="g" x="163.6" y="782" width="3.05" height="10.2"/>
<rect class="g" x="168.4" y="782" width="3.05" height="10.2"/>
<rect class="g" x="173.2" y="782" width="3.05" height="10.2"/>
<rect class="g" x="178" y="782" width="3.05" height="10.2"/>
<rect class="g" x="182.8" y="782" width="3.05" height="10.2"/>
<rect class="g" x="187.6" y="782" width="3.05" height="10.2"/>
<rect class="g" x="192.4" y="782" width="3.05" height="10.2"/>
<rect class="g" x="197.2" y="782" width="3.05" height="10.2"/>
<rect class="g" x="202" y="782" width="3.05" height="10.2"/>
<rect class="g" x="206.8" y="782" width="3.05" height="10.2"/>
<rect class="g" x="211.6" y="782" width="3.05" height="10.2"/>
<rect class="g" x="216.4" y="782" width="3.05" height="10.2"/>
<rect x="221.2" y="782" width="3.05" height="10.2" fill="#63b8ff"/>
<rect class="g" x="226" y="782" width="3.05" height="10.2"/>
<rect class="g" x="230.8" y="782" width="3.05" height="10.2"/>
<rect class="g" x="235.6" y="782" width="3.05" height="10.2"/>
<rect class="g" x="240.4" y="782" width="3.05" height="10.2"/>
<rect class="g" x="245.2" y="782" width="3.05" height="10.2"/>
<rect x="245.2" y="786" width="3.05" height="2.2" fill="#ee3b3b"/>
<rect class="g" x="250" y="782" width="3.05" height="10.2"/>
<rect class="g" x="254.8" y="782" width="3.05" height="10.2"/>
<rect class="g" x="259.6" y="782" width="3.05" height="10.2"/>
<rect class="g" x="264.4" y="782" width="3.05" height="10.2"/>
<rect class="g" x="269.2" y="782" width="3.05" height="10.2"/>
<rect class="g" x="274" y="782" width="3.05" height="10.2"/>
<rect class="g" x="278.8" y="782" width="3.05" height="10.2"/>
<rect class="g" x="283.6" y="782" width="3.05" height="10.2"/>
<rect class="g" x="288.4" y="782" width="3.05" height="10.2"/>
<rect class="g" x="293.2" y="782" width="3.05" height="10.2"/>
<rect class="g" x="298" y="782" width="3.05" height="10.2"/>
<rect class="g" x="302.8" y="782" width="3.05" height="10.2"/>
<rect class="g" x="307.6" y="782" width="3.05" height="10.2"/>
<rect class="g" x="312.4" y="782" width="3.05" height="10.2"/>
<rect x="317.2" y="782" width="3.05" height="10.2" fill="#ffa54f"/>
<rect class="g" x="322" y="782" width="3.05" height="10.2"/>
<rect class="g" x="326.8" y="782" width="3.05" height="10.2"/>
<rect class="g" x="331.6" y="782" width="3.05" height="10.2"/>
<rect class="g" x="336.4" y="782" width="3.05" height="10.2"/>
<text x="341.40" y="790.90" font-size="10.8" fill="#000000">ATM</text>
<rect x="389.2" y="783.5" width="2" height="7.1" fill="#ee3b3b"/>
<rect x="391.2" y="783.5" width="4" height="7.1" fill="#63b8ff"/>
<rect x="395.2" y="783.5" width="2" height="7.1" fill="#ffa54f"/>
<text x="474.30" y="790.90" font-size="10.8" text-anchor="end" fill="#000000">6%</text>
<rect class="g" x="58" y="794" width="3.05" height="10.2"/>
<rect class="g" x="62.8" y="794" width="3.05" height="10.2"/>
<rect class="g" x="67.6" y="794" width="3.05" height="10.2"/>
<rect class="g" x="72.4" y="794" width="3.05" height="10.2"/>
<rect class="g" x="77.2" y="794" width="3.05" height="10.2"/>
<rect class="g" x="82" y="794" width="3.05" height="10.2"/>
<rect x="82" y="798" width="3.05" height="2.2" fill="#ee3b3b"/>
<rect class="g" x="86.8" y="794" width="3.05" height="10.2"/>
<rect class="g" x="91.6" y="794" width="3.05" height="10.2"/>
<rect class="g" x="96.4" y="794" width="3.05" height="10.2"/>
<rect class="g" x="101.2" y="794" width="3.05" height="10.2"/>
<rect class="g" x="106" y="794" width="3.05" height="10.2"/>
<rect class="g" x="110.8" y="794" width="3.05" height="10.2"/>
<rect class="g" x="115.6" y="794" width="3.05" height="10.2"/>
<rect class="g" x="120.4" y="794" width="3.05" height="10.2"/>
<rect class="g" x="125.2" y="794" width="3.05" height="10.2"/>
<rect class="g" x="130" y="794" width="3.05" height="10.2"/>
<rect class="g" x="134.8" y="794" width="3.05" height="10.2"/>
<rect class="g" x="139.6" y="794" width="3.05" height="10.2"/>
<rect class="g" x="144.4" y="794" width="3.05" height="10.2"/>
<rect class="g" x="149.2" y="794" width="3.05" height="10.2"/>
<rect class="g" x="154" y="794" width="3.05" height="10.2"/>
<rect class="g" x="158.8" y="794" width="3.05" height="10.2"/>
<rect class="g" x="163.6" y="794" width="3.05" height="10.2"/>
<rect class="g" x="168.4" y="794" width="3.05" height="10.2"/>
<rect class="g" x="173.2" y="794" width="3.05" height="10.2"/>
<rect class="g" x="178" y="794" width="3.05" height="10.2"/>
<rect class="g" x="182.8" y="794" width="3.05" height="10.2"/>
<rect class="g" x="187.6" y="794" width="3.05" height="10.2"/>
<rect class="g" x="192.4" y="794" width="3.05" height="10.2"/>
<rect class="g" x="197.2" y="794" width="3.05" height="10.2"/>
<rect class="g" x="202" y="794" width="3.05" height="10.2"/>
<rect class="g" x="206.8" y="794" width="3.05" height="10.2"/>
<rect class="g" x="211.6" y="794" width="3.05" height="10.2"/>
<rect class="g" x="216.4" y="794" width="3.05" height="10.2"/>
<rect x="221.2" y="794" width="3.05" height="10.2" fill="#63b8ff"/>
<rect class="g" x="226" y="794" width="3.05" height="10.2"/>
<rect class="g" x="230.8" y="794" width="3.05" height="10.2"/>
<rect class="g" x="235.6" y="794" width="3.05" height="10.2"/>
<rect class="g" x="240.4" y="794" width="3.05" height="10.2"/>
<rect class="g" x="245.2" y="794" width="3.05" height="10.2"/>
<rect class="g" x="250" y="794" width="3.05" height="10.2"/>
<rect class="g" x="254.8" y="794" width="3.05" height="10.2"/>
<rect class="g" x="259.6" y="794" width="3.05" height="10.2"/>
<rect class="g" x="264.4" y="794" width="3.05" height="10.2"/>
<rect class="g" x="269.2" y="794" width="3.05" height="10.2"/>
<rect class="g" x="274" y="794" width="3.05" height="10.2"/>
<rect class="g" x="278.8" y="794" width="3.05" height="10.2"/>
<rect class="g" x="283.6" y="794" width="3.05" height="10.2"/>
<rect class="g" x="288.4" y="794" width="3.05" height="10.2"/>
<rect class="g" x="293.2" y="794" width="3.05" height="10.2"/>
<rect class="g" x="298" y="794" width="3.05" height="10.2"/>
<rect class="g" x="302.8" y="794" width="3.05" height="10.2"/>
<rect class="g" x="307.6" y="794" width="3.05" height="10.2"/>
<rect class="g" x="312.4" y="794" width="3.05" height="10.2"/>
<rect class="g" x="317.2" y="794" width="3.05" height="10.2"/>
<rect class="g" x="322" y="794" width="3.05" height="10.2"/>
<rect class="g" x="326.8" y="794" width="3.05" height="10.2"/>
<rect class="g" x="331.6" y="794" width="3.05" height="10.2"/>
<rect x="331.6" y="798" width="3.05" height="2.2" fill="#ee3b3b"/>
<rect class="g" x="336.4" y="794" width="3.05" height="10.2"/>
<text x="341.40" y="802.90" font-size="10.8" fill="#000000">CHEK2</text>
<rect x="389.2" y="795.5" width="4" height="7.1" fill="#ee3b3b"/>
<rect x="393.2" y="795.5" width="2" height="7.1" fill="#63b8ff"/>
<text x="474.30" y="802.90" font-size="10.8" text-anchor="end" fill="#000000">5%</text>
<text x="0" y="0" font-size="10.8" fill="#000000" text-anchor="middle" transform="translate(41.9,775.90) rotate(-90)">p53</text>
<rect class="g" x="58" y="818" width="3.05" height="10.2"/>
<rect class="g" x="62.8" y="818" width="3.05" height="10.2"/>
<rect class="g" x="67.6" y="818" width="3.05" height="10.2"/>
<rect class="g" x="72.4" y="818" width="3.05" height="10.2"/>
<rect x="72.4" y="822" width="3.05" height="2.2" fill="#ee3b3b"/>
<rect class="g" x="77.2" y="818" width="3.05" height="10.2"/>
<rect class="g" x="82" y="818" width="3.05" height="10.2"/>
<rect class="g" x="86.8" y="818" width="3.05" height="10.2"/>
<rect x="86.8" y="822" width="3.05" height="2.2" fill="#ee3b3b"/>
<rect class="g" x="91.6" y="818" width="3.05" height="10.2"/>
<rect class="g" x="96.4" y="818" width="3.05" height="10.2"/>
<rect class="g" x="101.2" y="818" width="3.05" height="10.2"/>
<rect x="101.2" y="822" width="3.05" height="2.2" fill="#ee3b3b"/>
<rect class="g" x="106" y="818" width="3.05" height="10.2"/>
<rect class="g" x="110.8" y="818" width="3.05" height="10.2"/>
<rect x="110.8" y="822" width="3.05" height="2.2" fill="#ee3b3b"/>
<rect class="g" x="115.6" y="818" width="3.05" height="10.2"/>
<rect class="g" x="120.4" y="818" width="3.05" height="10.2"/>
<rect class="g" x="125.2" y="818" width="3.05" height="10.2"/>
<rect x="125.2" y="822" width="3.05" height="2.2" fill="#ee3b3b"/>
<rect class="g" x="130" y="818" width="3.05" height="10.2"/>
<rect class="g" x="134.8" y="818" width="3.05" height="10.2"/>
<rect x="134.8" y="822" width="3.05" height="2.2" fill="#ee3b3b"/>
<rect class="g" x="139.6" y="818" width="3.05" height="10.2"/>
<rect x="139.6" y="822" width="3.05" height="2.2" fill="#ee3b3b"/>
<rect class="g" x="144.4" y="818" width="3.05" height="10.2"/>
<rect class="g" x="149.2" y="818" width="3.05" height="10.2"/>
<rect class="g" x="154" y="818" width="3.05" height="10.2"/>
<rect x="158.8" y="818" width="3.05" height="10.2" fill="#ffff00"/>
<rect class="g" x="163.6" y="818" width="3.05" height="10.2"/>
<rect class="g" x="168.4" y="818" width="3.05" height="10.2"/>
<rect class="g" x="173.2" y="818" width="3.05" height="10.2"/>
<rect class="g" x="178" y="818" width="3.05" height="10.2"/>
<rect class="g" x="182.8" y="818" width="3.05" height="10.2"/>
<rect class="g" x="187.6" y="818" width="3.05" height="10.2"/>
<rect class="g" x="192.4" y="818" width="3.05" height="10.2"/>
<rect class="g" x="197.2" y="818" width="3.05" height="10.2"/>
<rect x="197.2" y="822" width="3.05" height="2.2" fill="#ee3b3b"/>
<rect class="g" x="202" y="818" width="3.05" height="10.2"/>
<rect class="g" x="206.8" y="818" width="3.05" height="10.2"/>
<rect class="g" x="211.6" y="818" width="3.05" height="10.2"/>
<rect class="g" x="216.4" y="818" width="3.05" height="10.2"/>
<rect class="g" x="221.2" y="818" width="3.05" height="10.2"/>
<rect class="g" x="226" y="818" width="3.05" height="10.2"/>
<rect class="g" x="230.8" y="818" width="3.05" height="10.2"/>
<rect class="g" x="235.6" y="818" width="3.05" height="10.2"/>
<rect class="g" x="240.4" y="818" width="3.05" height="10.2"/>
<rect class="g" x="245.2" y="818" width="3.05" height="10.2"/>
<rect class="g" x="250" y="818" width="3.05" height="10.2"/>
<rect class="g" x="254.8" y="818" width="3.05" height="10.2"/>
<rect class="g" x="259.6" y="818" width="3.05" height="10.2"/>
<rect class="g" x="264.4" y="818" width="3.05" height="10.2"/>
<rect class="g" x="269.2" y="818" width="3.05" height="10.2"/>
<rect class="g" x="274" y="818" width="3.05" height="10.2"/>
<rect class="g" x="278.8" y="818" width="3.05" height="10.2"/>
<rect x="278.8" y="822" width="3.05" height="2.2" fill="#ee3b3b"/>
<rect class="g" x="283.6" y="818" width="3.05" height="10.2"/>
<rect class="g" x="288.4" y="818" width="3.05" height="10.2"/>
<rect class="g" x="293.2" y="818" width="3.05" height="10.2"/>
<rect class="g" x="298" y="818" width="3.05" height="10.2"/>
<rect class="g" x="302.8" y="818" width="3.05" height="10.2"/>
<rect class="g" x="307.6" y="818" width="3.05" height="10.2"/>
<rect x="312.4" y="818" width="3.05" height="10.2" fill="#63b8ff"/>
<rect class="g" x="317.2" y="818" width="3.05" height="10.2"/>
<rect class="g" x="322" y="818" width="3.05" height="10.2"/>
<rect class="g" x="326.8" y="818" width="3.05" height="10.2"/>
<rect class="g" x="331.6" y="818" width="3.05" height="10.2"/>
<rect x="336.4" y="818" width="3.05" height="10.2" fill="#ff69b4"/>
<text x="341.40" y="826.90" font-size="10.8" fill="#000000">CREBBP</text>
<rect x="389.2" y="819.5" width="18" height="7.1" fill="#ee3b3b"/>
<rect x="407.2" y="819.5" width="2" height="7.1" fill="#63b8ff"/>
<rect x="409.2" y="819.5" width="2" height="7.1" fill="#ffff00"/>
<rect x="411.2" y="819.5" width="2" height="7.1" fill="#ff69b4"/>
<text x="475.90" y="826.90" font-size="10.8" text-anchor="end" fill="#000000">19%</text>
<rect class="g" x="58" y="830" width="3.05" height="10.2"/>
<rect class="g" x="62.8" y="830" width="3.05" height="10.2"/>
<rect class="g" x="67.6" y="830" width="3.05" height="10.2"/>
<rect class="g" x="72.4" y="830" width="3.05" height="10.2"/>
<rect x="77.2" y="830" width="3.05" height="10.2" fill="#63b8ff"/>
<rect class="g" x="82" y="830" width="3.05" height="10.2"/>
<rect class="g" x="86.8" y="830" width="3.05" height="10.2"/>
<rect class="g" x="91.6" y="830" width="3.05" height="10.2"/>
<rect class="g" x="96.4" y="830" width="3.05" height="10.2"/>
<rect class="g" x="101.2" y="830" width="3.05" height="10.2"/>
<rect class="g" x="106" y="830" width="3.05" height="10.2"/>
<rect class="g" x="110.8" y="830" width="3.05" height="10.2"/>
<rect class="g" x="115.6" y="830" width="3.05" height="10.2"/>
<rect x="115.6" y="833.9" width="3.05" height="2.4" fill="#000000"/>
<rect class="g" x="120.4" y="830" width="3.05" height="10.2"/>
<rect class="g" x="125.2" y="830" width="3.05" height="10.2"/>
<rect class="g" x="130" y="830" width="3.05" height="10.2"/>
<rect class="g" x="134.8" y="830" width="3.05" height="10.2"/>
<rect class="g" x="139.6" y="830" width="3.05" height="10.2"/>
<rect class="g" x="144.4" y="830" width="3.05" height="10.2"/>
<rect class="g" x="149.2" y="830" width="3.05" height="10.2"/>
<rect class="g" x="154" y="830" width="3.05" height="10.2"/>
<rect class="g" x="158.8" y="830" width="3.05" height="10.2"/>
<rect class="g" x="163.6" y="830" width="3.05" height="10.2"/>
<rect class="g" x="168.4" y="830" width="3.05" height="10.2"/>
<rect x="168.4" y="833.9" width="3.05" height="2.4" fill="#000000"/>
<rect x="173.2" y="830" width="3.05" height="10.2" fill="#63b8ff"/>
<rect class="g" x="178" y="830" width="3.05" height="10.2"/>
<rect class="g" x="182.8" y="830" width="3.05" height="10.2"/>
<rect class="g" x="187.6" y="830" width="3.05" height="10.2"/>
<rect class="g" x="192.4" y="830" width="3.05" height="10.2"/>
<rect class="g" x="197.2" y="830" width="3.05" height="10.2"/>
<rect class="g" x="202" y="830" width="3.05" height="10.2"/>
<rect class="g" x="206.8" y="830" width="3.05" height="10.2"/>
<rect class="g" x="211.6" y="830" width="3.05" height="10.2"/>
<rect class="g" x="216.4" y="830" width="3.05" height="10.2"/>
<rect x="221.2" y="830" width="3.05" height="10.2" fill="#63b8ff"/>
<rect x="221.2" y="834" width="3.05" height="2.2" fill="#ee3b3b"/>
<rect class="g" x="226" y="830" width="3.05" height="10.2"/>
<rect class="g" x="230.8" y="830" width="3.05" height="10.2"/>
<rect x="235.6" y="830" width="3.05" height="10.2" fill="#ffff00"/>
<rect class="g" x="240.4" y="830" width="3.05" height="10.2"/>
<rect class="g" x="245.2" y="830" width="3.05" height="10.2"/>
<rect class="g" x="250" y="830" width="3.05" height="10.2"/>
<rect class="g" x="254.8" y="830" width="3.05" height="10.2"/>
<rect class="g" x="259.6" y="830" width="3.05" height="10.2"/>
<rect class="g" x="264.4" y="830" width="3.05" height="10.2"/>
<rect class="g" x="269.2" y="830" width="3.05" height="10.2"/>
<rect class="g" x="274" y="830" width="3.05" height="10.2"/>
<rect class="g" x="278.8" y="830" width="3.05" height="10.2"/>
<rect class="g" x="283.6" y="830" width="3.05" height="10.2"/>
<rect class="g" x="288.4" y="830" width="3.05" height="10.2"/>
<rect class="g" x="293.2" y="830" width="3.05" height="10.2"/>
<rect class="g" x="298" y="830" width="3.05" height="10.2"/>
<rect class="g" x="302.8" y="830" width="3.05" height="10.2"/>
<rect class="g" x="307.6" y="830" width="3.05" height="10.2"/>
<rect class="g" x="312.4" y="830" width="3.05" height="10.2"/>
<rect x="317.2" y="830" width="3.05" height="10.2" fill="#008b45"/>
<rect class="g" x="322" y="830" width="3.05" height="10.2"/>
<rect class="g" x="326.8" y="830" width="3.05" height="10.2"/>
<rect class="g" x="331.6" y="830" width="3.05" height="10.2"/>
<rect class="g" x="336.4" y="830" width="3.05" height="10.2"/>
<text x="341.40" y="838.90" font-size="10.8" fill="#000000">NOTCH1</text>
<rect x="389.2" y="831.5" width="2" height="7.1" fill="#ee3b3b"/>
<rect x="391.2" y="831.5" width="6" height="7.1" fill="#63b8ff"/>
<rect x="397.2" y="831.5" width="2" height="7.1" fill="#ffff00"/>
<rect x="399.2" y="831.5" width="2" height="7.1" fill="#008b45"/>
<rect x="401.2" y="831.5" width="4" height="7.1" fill="#000000"/>
<text x="475.90" y="838.90" font-size="10.8" text-anchor="end" fill="#000000">11%</text>
<rect class="g" x="58" y="841.99" width="3.05" height="10.2"/>
<rect class="g" x="62.8" y="841.99" width="3.05" height="10.2"/>
<rect class="g" x="67.6" y="841.99" width="3.05" height="10.2"/>
<rect class="g" x="72.4" y="841.99" width="3.05" height="10.2"/>
<rect x="77.2" y="841.99" width="3.05" height="10.2" fill="#63b8ff"/>
<rect class="g" x="82" y="841.99" width="3.05" height="10.2"/>
<rect x="82" y="845.99" width="3.05" height="2.2" fill="#ee3b3b"/>
<rect class="g" x="86.8" y="841.99" width="3.05" height="10.2"/>
<rect class="g" x="91.6" y="841.99" width="3.05" height="10.2"/>
<rect class="g" x="96.4" y="841.99" width="3.05" height="10.2"/>
<rect class="g" x="101.2" y="841.99" width="3.05" height="10.2"/>
<rect class="g" x="106" y="841.99" width="3.05" height="10.2"/>
<rect class="g" x="110.8" y="841.99" width="3.05" height="10.2"/>
<rect class="g" x="115.6" y="841.99" width="3.05" height="10.2"/>
<rect class="g" x="120.4" y="841.99" width="3.05" height="10.2"/>
<rect class="g" x="125.2" y="841.99" width="3.05" height="10.2"/>
<rect class="g" x="130" y="841.99" width="3.05" height="10.2"/>
<rect class="g" x="134.8" y="841.99" width="3.05" height="10.2"/>
<rect class="g" x="139.6" y="841.99" width="3.05" height="10.2"/>
<rect class="g" x="144.4" y="841.99" width="3.05" height="10.2"/>
<rect class="g" x="149.2" y="841.99" width="3.05" height="10.2"/>
<rect class="g" x="154" y="841.99" width="3.05" height="10.2"/>
<rect class="g" x="158.8" y="841.99" width="3.05" height="10.2"/>
<rect class="g" x="163.6" y="841.99" width="3.05" height="10.2"/>
<rect class="g" x="168.4" y="841.99" width="3.05" height="10.2"/>
<rect class="g" x="173.2" y="841.99" width="3.05" height="10.2"/>
<rect class="g" x="178" y="841.99" width="3.05" height="10.2"/>
<rect class="g" x="182.8" y="841.99" width="3.05" height="10.2"/>
<rect class="g" x="187.6" y="841.99" width="3.05" height="10.2"/>
<rect class="g" x="192.4" y="841.99" width="3.05" height="10.2"/>
<rect x="197.2" y="841.99" width="3.05" height="10.2" fill="#63b8ff"/>
<rect x="197.2" y="845.99" width="3.05" height="2.2" fill="#ee3b3b"/>
<rect class="g" x="202" y="841.99" width="3.05" height="10.2"/>
<rect class="g" x="206.8" y="841.99" width="3.05" height="10.2"/>
<rect class="g" x="211.6" y="841.99" width="3.05" height="10.2"/>
<rect class="g" x="216.4" y="841.99" width="3.05" height="10.2"/>
<rect x="221.2" y="841.99" width="3.05" height="10.2" fill="#ffff00"/>
<rect class="g" x="226" y="841.99" width="3.05" height="10.2"/>
<rect class="g" x="230.8" y="841.99" width="3.05" height="10.2"/>
<rect class="g" x="235.6" y="841.99" width="3.05" height="10.2"/>
<rect class="g" x="240.4" y="841.99" width="3.05" height="10.2"/>
<rect class="g" x="245.2" y="841.99" width="3.05" height="10.2"/>
<rect class="g" x="250" y="841.99" width="3.05" height="10.2"/>
<rect class="g" x="254.8" y="841.99" width="3.05" height="10.2"/>
<rect class="g" x="259.6" y="841.99" width="3.05" height="10.2"/>
<rect class="g" x="264.4" y="841.99" width="3.05" height="10.2"/>
<rect class="g" x="269.2" y="841.99" width="3.05" height="10.2"/>
<rect class="g" x="274" y="841.99" width="3.05" height="10.2"/>
<rect class="g" x="278.8" y="841.99" width="3.05" height="10.2"/>
<rect class="g" x="283.6" y="841.99" width="3.05" height="10.2"/>
<rect class="g" x="288.4" y="841.99" width="3.05" height="10.2"/>
<rect class="g" x="293.2" y="841.99" width="3.05" height="10.2"/>
<rect class="g" x="298" y="841.99" width="3.05" height="10.2"/>
<rect class="g" x="302.8" y="841.99" width="3.05" height="10.2"/>
<rect x="307.6" y="841.99" width="3.05" height="10.2" fill="#63b8ff"/>
<rect x="307.6" y="845.99" width="3.05" height="2.2" fill="#ee3b3b"/>
<rect class="g" x="312.4" y="841.99" width="3.05" height="10.2"/>
<rect x="317.2" y="841.99" width="3.05" height="10.2" fill="#ffff00"/>
<rect class="g" x="322" y="841.99" width="3.05" height="10.2"/>
<rect class="g" x="326.8" y="841.99" width="3.05" height="10.2"/>
<rect class="g" x="331.6" y="841.99" width="3.05" height="10.2"/>
<rect x="331.6" y="845.99" width="3.05" height="2.2" fill="#ee3b3b"/>
<rect class="g" x="336.4" y="841.99" width="3.05" height="10.2"/>
<text x="341.40" y="850.89" font-size="10.8" fill="#000000">EP300</text>
<rect x="389.2" y="843.49" width="8" height="7.1" fill="#ee3b3b"/>
<rect x="397.2" y="843.49" width="6" height="7.1" fill="#63b8ff"/>
<rect x="403.2" y="843.49" width="4" height="7.1" fill="#ffff00"/>
<text x="475.90" y="850.89" font-size="10.8" text-anchor="end" fill="#000000">11%</text>
<rect class="g" x="58" y="853.98" width="3.05" height="10.2"/>
<rect class="g" x="62.8" y="853.98" width="3.05" height="10.2"/>
<rect class="g" x="67.6" y="853.98" width="3.05" height="10.2"/>
<rect class="g" x="72.4" y="853.98" width="3.05" height="10.2"/>
<rect class="g" x="77.2" y="853.98" width="3.05" height="10.2"/>
<rect class="g" x="82" y="853.98" width="3.05" height="10.2"/>
<rect class="g" x="86.8" y="853.98" width="3.05" height="10.2"/>
<rect x="86.8" y="857.98" width="3.05" height="2.2" fill="#ee3b3b"/>
<rect class="g" x="91.6" y="853.98" width="3.05" height="10.2"/>
<rect class="g" x="96.4" y="853.98" width="3.05" height="10.2"/>
<rect x="96.4" y="857.98" width="3.05" height="2.2" fill="#ee3b3b"/>
<rect class="g" x="101.2" y="853.98" width="3.05" height="10.2"/>
<rect class="g" x="106" y="853.98" width="3.05" height="10.2"/>
<rect class="g" x="110.8" y="853.98" width="3.05" height="10.2"/>
<rect class="g" x="115.6" y="853.98" width="3.05" height="10.2"/>
<rect class="g" x="120.4" y="853.98" width="3.05" height="10.2"/>
<rect class="g" x="125.2" y="853.98" width="3.05" height="10.2"/>
<rect class="g" x="130" y="853.98" width="3.05" height="10.2"/>
<rect class="g" x="134.8" y="853.98" width="3.05" height="10.2"/>
<rect class="g" x="139.6" y="853.98" width="3.05" height="10.2"/>
<rect class="g" x="144.4" y="853.98" width="3.05" height="10.2"/>
<rect class="g" x="149.2" y="853.98" width="3.05" height="10.2"/>
<rect class="g" x="154" y="853.98" width="3.05" height="10.2"/>
<rect class="g" x="158.8" y="853.98" width="3.05" height="10.2"/>
<rect class="g" x="163.6" y="853.98" width="3.05" height="10.2"/>
<rect class="g" x="168.4" y="853.98" width="3.05" height="10.2"/>
<rect class="g" x="173.2" y="853.98" width="3.05" height="10.2"/>
<rect class="g" x="178" y="853.98" width="3.05" height="10.2"/>
<rect class="g" x="182.8" y="853.98" width="3.05" height="10.2"/>
<rect class="g" x="187.6" y="853.98" width="3.05" height="10.2"/>
<rect class="g" x="192.4" y="853.98" width="3.05" height="10.2"/>
<rect class="g" x="197.2" y="853.98" width="3.05" height="10.2"/>
<rect class="g" x="202" y="853.98" width="3.05" height="10.2"/>
<rect class="g" x="206.8" y="853.98" width="3.05" height="10.2"/>
<rect class="g" x="211.6" y="853.98" width="3.05" height="10.2"/>
<rect class="g" x="216.4" y="853.98" width="3.05" height="10.2"/>
<rect class="g" x="221.2" y="853.98" width="3.05" height="10.2"/>
<rect class="g" x="226" y="853.98" width="3.05" height="10.2"/>
<rect class="g" x="230.8" y="853.98" width="3.05" height="10.2"/>
<rect class="g" x="235.6" y="853.98" width="3.05" height="10.2"/>
<rect class="g" x="240.4" y="853.98" width="3.05" height="10.2"/>
<rect class="g" x="245.2" y="853.98" width="3.05" height="10.2"/>
<rect class="g" x="250" y="853.98" width="3.05" height="10.2"/>
<rect class="g" x="254.8" y="853.98" width="3.05" height="10.2"/>
<rect class="g" x="259.6" y="853.98" width="3.05" height="10.2"/>
<rect class="g" x="264.4" y="853.98" width="3.05" height="10.2"/>
<rect class="g" x="269.2" y="853.98" width="3.05" height="10.2"/>
<rect class="g" x="274" y="853.98" width="3.05" height="10.2"/>
<rect class="g" x="278.8" y="853.98" width="3.05" height="10.2"/>
<rect class="g" x="283.6" y="853.98" width="3.05" height="10.2"/>
<rect class="g" x="288.4" y="853.98" width="3.05" height="10.2"/>
<rect class="g" x="293.2" y="853.98" width="3.05" height="10.2"/>
<rect class="g" x="298" y="853.98" width="3.05" height="10.2"/>
<rect class="g" x="302.8" y="853.98" width="3.05" height="10.2"/>
<rect class="g" x="307.6" y="853.98" width="3.05" height="10.2"/>
<rect x="312.4" y="853.98" width="3.05" height="10.2" fill="#008b45"/>
<rect x="317.2" y="853.98" width="3.05" height="10.2" fill="#63b8ff"/>
<rect class="g" x="322" y="853.98" width="3.05" height="10.2"/>
<rect class="g" x="326.8" y="853.98" width="3.05" height="10.2"/>
<rect class="g" x="331.6" y="853.98" width="3.05" height="10.2"/>
<rect class="g" x="336.4" y="853.98" width="3.05" height="10.2"/>
<text x="341.40" y="862.88" font-size="10.8" fill="#000000">FBXW7</text>
<rect x="389.2" y="855.48" width="4" height="7.1" fill="#ee3b3b"/>
<rect x="393.2" y="855.48" width="2" height="7.1" fill="#63b8ff"/>
<rect x="395.2" y="855.48" width="2" height="7.1" fill="#008b45"/>
<text x="474.30" y="862.88" font-size="10.8" text-anchor="end" fill="#000000">6%</text>
<rect class="g" x="58" y="865.96" width="3.05" height="10.2"/>
<rect class="g" x="62.8" y="865.96" width="3.05" height="10.2"/>
<rect class="g" x="67.6" y="865.96" width="3.05" height="10.2"/>
<rect class="g" x="72.4" y="865.96" width="3.05" height="10.2"/>
<rect class="g" x="77.2" y="865.96" width="3.05" height="10.2"/>
<rect class="g" x="82" y="865.96" width="3.05" height="10.2"/>
<rect class="g" x="86.8" y="865.96" width="3.05" height="10.2"/>
<rect class="g" x="91.6" y="865.96" width="3.05" height="10.2"/>
<rect class="g" x="96.4" y="865.96" width="3.05" height="10.2"/>
<rect class="g" x="101.2" y="865.96" width="3.05" height="10.2"/>
<rect class="g" x="106" y="865.96" width="3.05" height="10.2"/>
<rect class="g" x="110.8" y="865.96" width="3.05" height="10.2"/>
<rect class="g" x="115.6" y="865.96" width="3.05" height="10.2"/>
<rect class="g" x="120.4" y="865.96" width="3.05" height="10.2"/>
<rect class="g" x="125.2" y="865.96" width="3.05" height="10.2"/>
<rect class="g" x="130" y="865.96" width="3.05" height="10.2"/>
<rect class="g" x="134.8" y="865.96" width="3.05" height="10.2"/>
<rect class="g" x="139.6" y="865.96" width="3.05" height="10.2"/>
<rect class="g" x="144.4" y="865.96" width="3.05" height="10.2"/>
<rect class="g" x="149.2" y="865.96" width="3.05" height="10.2"/>
<rect class="g" x="154" y="865.96" width="3.05" height="10.2"/>
<rect class="g" x="158.8" y="865.96" width="3.05" height="10.2"/>
<rect class="g" x="163.6" y="865.96" width="3.05" height="10.2"/>
<rect class="g" x="168.4" y="865.96" width="3.05" height="10.2"/>
<rect class="g" x="173.2" y="865.96" width="3.05" height="10.2"/>
<rect class="g" x="178" y="865.96" width="3.05" height="10.2"/>
<rect class="g" x="182.8" y="865.96" width="3.05" height="10.2"/>
<rect class="g" x="187.6" y="865.96" width="3.05" height="10.2"/>
<rect class="g" x="192.4" y="865.96" width="3.05" height="10.2"/>
<rect class="g" x="197.2" y="865.96" width="3.05" height="10.2"/>
<rect class="g" x="202" y="865.96" width="3.05" height="10.2"/>
<rect class="g" x="206.8" y="865.96" width="3.05" height="10.2"/>
<rect class="g" x="211.6" y="865.96" width="3.05" height="10.2"/>
<rect class="g" x="216.4" y="865.96" width="3.05" height="10.2"/>
<rect x="216.4" y="869.86" width="3.05" height="2.4" fill="#000000"/>
<rect x="221.2" y="865.96" width="3.05" height="10.2" fill="#ffa54f"/>
<rect class="g" x="226" y="865.96" width="3.05" height="10.2"/>
<rect class="g" x="230.8" y="865.96" width="3.05" height="10.2"/>
<rect x="235.6" y="865.96" width="3.05" height="10.2" fill="#63b8ff"/>
<rect class="g" x="240.4" y="865.96" width="3.05" height="10.2"/>
<rect class="g" x="245.2" y="865.96" width="3.05" height="10.2"/>
<rect class="g" x="250" y="865.96" width="3.05" height="10.2"/>
<rect class="g" x="254.8" y="865.96" width="3.05" height="10.2"/>
<rect class="g" x="259.6" y="865.96" width="3.05" height="10.2"/>
<rect class="g" x="264.4" y="865.96" width="3.05" height="10.2"/>
<rect class="g" x="269.2" y="865.96" width="3.05" height="10.2"/>
<rect class="g" x="274" y="865.96" width="3.05" height="10.2"/>
<rect class="g" x="278.8" y="865.96" width="3.05" height="10.2"/>
<rect class="g" x="283.6" y="865.96" width="3.05" height="10.2"/>
<rect class="g" x="288.4" y="865.96" width="3.05" height="10.2"/>
<rect class="g" x="293.2" y="865.96" width="3.05" height="10.2"/>
<rect class="g" x="298" y="865.96" width="3.05" height="10.2"/>
<rect class="g" x="302.8" y="865.96" width="3.05" height="10.2"/>
<rect class="g" x="307.6" y="865.96" width="3.05" height="10.2"/>
<rect x="312.4" y="865.96" width="3.05" height="10.2" fill="#63b8ff"/>
<rect class="g" x="317.2" y="865.96" width="3.05" height="10.2"/>
<rect class="g" x="322" y="865.96" width="3.05" height="10.2"/>
<rect class="g" x="326.8" y="865.96" width="3.05" height="10.2"/>
<rect class="g" x="331.6" y="865.96" width="3.05" height="10.2"/>
<rect class="g" x="336.4" y="865.96" width="3.05" height="10.2"/>
<text x="341.40" y="874.86" font-size="10.8" fill="#000000">NOTCH2</text>
<rect x="389.2" y="867.46" width="4" height="7.1" fill="#63b8ff"/>
<rect x="393.2" y="867.46" width="2" height="7.1" fill="#ffa54f"/>
<rect x="395.2" y="867.46" width="2" height="7.1" fill="#000000"/>
<text x="474.30" y="874.86" font-size="10.8" text-anchor="end" fill="#000000">6%</text>
<rect class="g" x="58" y="877.95" width="3.05" height="10.2"/>
<rect class="g" x="62.8" y="877.95" width="3.05" height="10.2"/>
<rect class="g" x="67.6" y="877.95" width="3.05" height="10.2"/>
<rect class="g" x="72.4" y="877.95" width="3.05" height="10.2"/>
<rect class="g" x="77.2" y="877.95" width="3.05" height="10.2"/>
<rect class="g" x="82" y="877.95" width="3.05" height="10.2"/>
<rect class="g" x="86.8" y="877.95" width="3.05" height="10.2"/>
<rect class="g" x="91.6" y="877.95" width="3.05" height="10.2"/>
<rect class="g" x="96.4" y="877.95" width="3.05" height="10.2"/>
<rect class="g" x="101.2" y="877.95" width="3.05" height="10.2"/>
<rect class="g" x="106" y="877.95" width="3.05" height="10.2"/>
<rect class="g" x="110.8" y="877.95" width="3.05" height="10.2"/>
<rect class="g" x="115.6" y="877.95" width="3.05" height="10.2"/>
<rect class="g" x="120.4" y="877.95" width="3.05" height="10.2"/>
<rect class="g" x="125.2" y="877.95" width="3.05" height="10.2"/>
<rect class="g" x="130" y="877.95" width="3.05" height="10.2"/>
<rect class="g" x="134.8" y="877.95" width="3.05" height="10.2"/>
<rect class="g" x="139.6" y="877.95" width="3.05" height="10.2"/>
<rect class="g" x="144.4" y="877.95" width="3.05" height="10.2"/>
<rect class="g" x="149.2" y="877.95" width="3.05" height="10.2"/>
<rect class="g" x="154" y="877.95" width="3.05" height="10.2"/>
<rect class="g" x="158.8" y="877.95" width="3.05" height="10.2"/>
<rect class="g" x="163.6" y="877.95" width="3.05" height="10.2"/>
<rect class="g" x="168.4" y="877.95" width="3.05" height="10.2"/>
<rect class="g" x="173.2" y="877.95" width="3.05" height="10.2"/>
<rect class="g" x="178" y="877.95" width="3.05" height="10.2"/>
<rect class="g" x="182.8" y="877.95" width="3.05" height="10.2"/>
<rect class="g" x="187.6" y="877.95" width="3.05" height="10.2"/>
<rect class="g" x="192.4" y="877.95" width="3.05" height="10.2"/>
<rect class="g" x="197.2" y="877.95" width="3.05" height="10.2"/>
<rect x="197.2" y="881.95" width="3.05" height="2.2" fill="#ee3b3b"/>
<rect class="g" x="202" y="877.95" width="3.05" height="10.2"/>
<rect class="g" x="206.8" y="877.95" width="3.05" height="10.2"/>
<rect class="g" x="211.6" y="877.95" width="3.05" height="10.2"/>
<rect class="g" x="216.4" y="877.95" width="3.05" height="10.2"/>
<rect class="g" x="221.2" y="877.95" width="3.05" height="10.2"/>
<rect class="g" x="226" y="877.95" width="3.05" height="10.2"/>
<rect class="g" x="230.8" y="877.95" width="3.05" height="10.2"/>
<rect x="235.6" y="877.95" width="3.05" height="10.2" fill="#ffff00"/>
<rect x="240.4" y="877.95" width="3.05" height="10.2" fill="#63b8ff"/>
<rect class="g" x="245.2" y="877.95" width="3.05" height="10.2"/>
<rect class="g" x="250" y="877.95" width="3.05" height="10.2"/>
<rect class="g" x="254.8" y="877.95" width="3.05" height="10.2"/>
<rect class="g" x="259.6" y="877.95" width="3.05" height="10.2"/>
<rect class="g" x="264.4" y="877.95" width="3.05" height="10.2"/>
<rect class="g" x="269.2" y="877.95" width="3.05" height="10.2"/>
<rect class="g" x="274" y="877.95" width="3.05" height="10.2"/>
<rect class="g" x="278.8" y="877.95" width="3.05" height="10.2"/>
<rect class="g" x="283.6" y="877.95" width="3.05" height="10.2"/>
<rect class="g" x="288.4" y="877.95" width="3.05" height="10.2"/>
<rect class="g" x="293.2" y="877.95" width="3.05" height="10.2"/>
<rect class="g" x="298" y="877.95" width="3.05" height="10.2"/>
<rect class="g" x="302.8" y="877.95" width="3.05" height="10.2"/>
<rect class="g" x="307.6" y="877.95" width="3.05" height="10.2"/>
<rect class="g" x="312.4" y="877.95" width="3.05" height="10.2"/>
<rect x="317.2" y="877.95" width="3.05" height="10.2" fill="#ffa54f"/>
<rect class="g" x="322" y="877.95" width="3.05" height="10.2"/>
<rect class="g" x="326.8" y="877.95" width="3.05" height="10.2"/>
<rect class="g" x="331.6" y="877.95" width="3.05" height="10.2"/>
<rect class="g" x="336.4" y="877.95" width="3.05" height="10.2"/>
<text x="341.40" y="886.85" font-size="10.8" fill="#000000">NOTCH3</text>
<rect x="389.2" y="879.45" width="2" height="7.1" fill="#ee3b3b"/>
<rect x="391.2" y="879.45" width="2" height="7.1" fill="#63b8ff"/>
<rect x="393.2" y="879.45" width="2" height="7.1" fill="#ffa54f"/>
<rect x="395.2" y="879.45" width="2" height="7.1" fill="#ffff00"/>
<text x="474.30" y="886.85" font-size="10.8" text-anchor="end" fill="#000000">6%</text>
<text x="0" y="0" font-size="10.8" fill="#000000" text-anchor="middle" transform="translate(41.9,854.00) rotate(-90)">Notch</text>
<rect class="g" x="58" y="901.92" width="3.05" height="10.2"/>
<rect class="g" x="62.8" y="901.92" width="3.05" height="10.2"/>
<rect class="g" x="67.6" y="901.92" width="3.05" height="10.2"/>
<rect x="67.6" y="905.92" width="3.05" height="2.2" fill="#ee3b3b"/>
<rect class="g" x="72.4" y="901.92" width="3.05" height="10.2"/>
<rect class="g" x="77.2" y="901.92" width="3.05" height="10.2"/>
<rect class="g" x="82" y="901.92" width="3.05" height="10.2"/>
<rect class="g" x="86.8" y="901.92" width="3.05" height="10.2"/>
<rect x="91.6" y="901.92" width="3.05" height="10.2" fill="#ffff00"/>
<rect class="g" x="96.4" y="901.92" width="3.05" height="10.2"/>
<rect x="96.4" y="905.92" width="3.05" height="2.2" fill="#ee3b3b"/>
<rect class="g" x="101.2" y="901.92" width="3.05" height="10.2"/>
<rect class="g" x="106" y="901.92" width="3.05" height="10.2"/>
<rect class="g" x="110.8" y="901.92" width="3.05" height="10.2"/>
<rect class="g" x="115.6" y="901.92" width="3.05" height="10.2"/>
<rect class="g" x="120.4" y="901.92" width="3.05" height="10.2"/>
<rect class="g" x="125.2" y="901.92" width="3.05" height="10.2"/>
<rect x="125.2" y="905.92" width="3.05" height="2.2" fill="#ee3b3b"/>
<rect class="g" x="130" y="901.92" width="3.05" height="10.2"/>
<rect class="g" x="134.8" y="901.92" width="3.05" height="10.2"/>
<rect class="g" x="139.6" y="901.92" width="3.05" height="10.2"/>
<rect class="g" x="144.4" y="901.92" width="3.05" height="10.2"/>
<rect class="g" x="149.2" y="901.92" width="3.05" height="10.2"/>
<rect class="g" x="154" y="901.92" width="3.05" height="10.2"/>
<rect class="g" x="158.8" y="901.92" width="3.05" height="10.2"/>
<rect class="g" x="163.6" y="901.92" width="3.05" height="10.2"/>
<rect class="g" x="168.4" y="901.92" width="3.05" height="10.2"/>
<rect class="g" x="173.2" y="901.92" width="3.05" height="10.2"/>
<rect class="g" x="178" y="901.92" width="3.05" height="10.2"/>
<rect x="178" y="905.92" width="3.05" height="2.2" fill="#ee3b3b"/>
<rect class="g" x="182.8" y="901.92" width="3.05" height="10.2"/>
<rect class="g" x="187.6" y="901.92" width="3.05" height="10.2"/>
<rect class="g" x="192.4" y="901.92" width="3.05" height="10.2"/>
<rect x="192.4" y="905.92" width="3.05" height="2.2" fill="#ee3b3b"/>
<rect class="g" x="197.2" y="901.92" width="3.05" height="10.2"/>
<rect x="197.2" y="905.92" width="3.05" height="2.2" fill="#ee3b3b"/>
<rect class="g" x="202" y="901.92" width="3.05" height="10.2"/>
<rect class="g" x="206.8" y="901.92" width="3.05" height="10.2"/>
<rect class="g" x="211.6" y="901.92" width="3.05" height="10.2"/>
<rect class="g" x="216.4" y="901.92" width="3.05" height="10.2"/>
<rect class="g" x="221.2" y="901.92" width="3.05" height="10.2"/>
<rect class="g" x="226" y="901.92" width="3.05" height="10.2"/>
<rect class="g" x="230.8" y="901.92" width="3.05" height="10.2"/>
<rect class="g" x="235.6" y="901.92" width="3.05" height="10.2"/>
<rect class="g" x="240.4" y="901.92" width="3.05" height="10.2"/>
<rect class="g" x="245.2" y="901.92" width="3.05" height="10.2"/>
<rect x="245.2" y="905.92" width="3.05" height="2.2" fill="#ee3b3b"/>
<rect class="g" x="250" y="901.92" width="3.05" height="10.2"/>
<rect class="g" x="254.8" y="901.92" width="3.05" height="10.2"/>
<rect class="g" x="259.6" y="901.92" width="3.05" height="10.2"/>
<rect class="g" x="264.4" y="901.92" width="3.05" height="10.2"/>
<rect x="264.4" y="905.92" width="3.05" height="2.2" fill="#ee3b3b"/>
<rect class="g" x="269.2" y="901.92" width="3.05" height="10.2"/>
<rect x="269.2" y="905.92" width="3.05" height="2.2" fill="#ee3b3b"/>
<rect class="g" x="274" y="901.92" width="3.05" height="10.2"/>
<rect x="274" y="905.92" width="3.05" height="2.2" fill="#ee3b3b"/>
<rect class="g" x="278.8" y="901.92" width="3.05" height="10.2"/>
<rect class="g" x="283.6" y="901.92" width="3.05" height="10.2"/>
<rect class="g" x="288.4" y="901.92" width="3.05" height="10.2"/>
<rect class="g" x="293.2" y="901.92" width="3.05" height="10.2"/>
<rect class="g" x="298" y="901.92" width="3.05" height="10.2"/>
<rect class="g" x="302.8" y="901.92" width="3.05" height="10.2"/>
<rect class="g" x="307.6" y="901.92" width="3.05" height="10.2"/>
<rect class="g" x="312.4" y="901.92" width="3.05" height="10.2"/>
<rect class="g" x="317.2" y="901.92" width="3.05" height="10.2"/>
<rect class="g" x="322" y="901.92" width="3.05" height="10.2"/>
<rect class="g" x="326.8" y="901.92" width="3.05" height="10.2"/>
<rect class="g" x="331.6" y="901.92" width="3.05" height="10.2"/>
<rect class="g" x="336.4" y="901.92" width="3.05" height="10.2"/>
<text x="341.40" y="910.82" font-size="10.8" fill="#000000">MYC</text>
<rect x="389.2" y="903.42" width="20" height="7.1" fill="#ee3b3b"/>
<rect x="409.2" y="903.42" width="2" height="7.1" fill="#ffff00"/>
<text x="475.90" y="910.82" font-size="10.8" text-anchor="end" fill="#000000">17%</text>
<text x="0" y="0" font-size="10.8" fill="#000000" text-anchor="middle" transform="translate(41.9,907.25) rotate(-90)">Myc</text>
<rect class="g" x="58" y="925.9" width="3.05" height="10.2"/>
<rect x="58" y="929.9" width="3.05" height="2.2" fill="#ee3b3b"/>
<rect class="g" x="62.8" y="925.9" width="3.05" height="10.2"/>
<rect x="62.8" y="929.9" width="3.05" height="2.2" fill="#ee3b3b"/>
<rect class="g" x="67.6" y="925.9" width="3.05" height="10.2"/>
<rect class="g" x="72.4" y="925.9" width="3.05" height="10.2"/>
<rect x="77.2" y="925.9" width="3.05" height="10.2" fill="#63b8ff"/>
<rect class="g" x="82" y="925.9" width="3.05" height="10.2"/>
<rect class="g" x="86.8" y="925.9" width="3.05" height="10.2"/>
<rect class="g" x="91.6" y="925.9" width="3.05" height="10.2"/>
<rect class="g" x="96.4" y="925.9" width="3.05" height="10.2"/>
<rect x="96.4" y="929.9" width="3.05" height="2.2" fill="#ee3b3b"/>
<rect class="g" x="101.2" y="925.9" width="3.05" height="10.2"/>
<rect class="g" x="106" y="925.9" width="3.05" height="10.2"/>
<rect class="g" x="110.8" y="925.9" width="3.05" height="10.2"/>
<rect class="g" x="115.6" y="925.9" width="3.05" height="10.2"/>
<rect class="g" x="120.4" y="925.9" width="3.05" height="10.2"/>
<rect class="g" x="125.2" y="925.9" width="3.05" height="10.2"/>
<rect class="g" x="130" y="925.9" width="3.05" height="10.2"/>
<rect class="g" x="134.8" y="925.9" width="3.05" height="10.2"/>
<rect class="g" x="139.6" y="925.9" width="3.05" height="10.2"/>
<rect class="g" x="144.4" y="925.9" width="3.05" height="10.2"/>
<rect class="g" x="149.2" y="925.9" width="3.05" height="10.2"/>
<rect x="154" y="925.9" width="3.05" height="10.2" fill="#63b8ff"/>
<rect class="g" x="158.8" y="925.9" width="3.05" height="10.2"/>
<rect class="g" x="163.6" y="925.9" width="3.05" height="10.2"/>
<rect class="g" x="168.4" y="925.9" width="3.05" height="10.2"/>
<rect class="g" x="173.2" y="925.9" width="3.05" height="10.2"/>
<rect class="g" x="178" y="925.9" width="3.05" height="10.2"/>
<rect class="g" x="182.8" y="925.9" width="3.05" height="10.2"/>
<rect class="g" x="187.6" y="925.9" width="3.05" height="10.2"/>
<rect class="g" x="192.4" y="925.9" width="3.05" height="10.2"/>
<rect x="192.4" y="929.9" width="3.05" height="2.2" fill="#ee3b3b"/>
<rect class="g" x="197.2" y="925.9" width="3.05" height="10.2"/>
<rect class="g" x="202" y="925.9" width="3.05" height="10.2"/>
<rect class="g" x="206.8" y="925.9" width="3.05" height="10.2"/>
<rect class="g" x="211.6" y="925.9" width="3.05" height="10.2"/>
<rect class="g" x="216.4" y="925.9" width="3.05" height="10.2"/>
<rect class="g" x="221.2" y="925.9" width="3.05" height="10.2"/>
<rect class="g" x="226" y="925.9" width="3.05" height="10.2"/>
<rect class="g" x="230.8" y="925.9" width="3.05" height="10.2"/>
<rect class="g" x="235.6" y="925.9" width="3.05" height="10.2"/>
<rect class="g" x="240.4" y="925.9" width="3.05" height="10.2"/>
<rect class="g" x="245.2" y="925.9" width="3.05" height="10.2"/>
<rect x="245.2" y="929.9" width="3.05" height="2.2" fill="#ee3b3b"/>
<rect class="g" x="250" y="925.9" width="3.05" height="10.2"/>
<rect class="g" x="254.8" y="925.9" width="3.05" height="10.2"/>
<rect class="g" x="259.6" y="925.9" width="3.05" height="10.2"/>
<rect class="g" x="264.4" y="925.9" width="3.05" height="10.2"/>
<rect class="g" x="269.2" y="925.9" width="3.05" height="10.2"/>
<rect class="g" x="274" y="925.9" width="3.05" height="10.2"/>
<rect class="g" x="278.8" y="925.9" width="3.05" height="10.2"/>
<rect class="g" x="283.6" y="925.9" width="3.05" height="10.2"/>
<rect class="g" x="288.4" y="925.9" width="3.05" height="10.2"/>
<rect class="g" x="293.2" y="925.9" width="3.05" height="10.2"/>
<rect class="g" x="298" y="925.9" width="3.05" height="10.2"/>
<rect class="g" x="302.8" y="925.9" width="3.05" height="10.2"/>
<rect class="g" x="307.6" y="925.9" width="3.05" height="10.2"/>
<rect class="g" x="312.4" y="925.9" width="3.05" height="10.2"/>
<rect class="g" x="317.2" y="925.9" width="3.05" height="10.2"/>
<rect class="g" x="322" y="925.9" width="3.05" height="10.2"/>
<rect class="g" x="326.8" y="925.9" width="3.05" height="10.2"/>
<rect class="g" x="331.6" y="925.9" width="3.05" height="10.2"/>
<rect class="g" x="336.4" y="925.9" width="3.05" height="10.2"/>
<text x="341.40" y="934.80" font-size="10.8" fill="#000000">GNAS</text>
<rect x="389.2" y="927.4" width="10" height="7.1" fill="#ee3b3b"/>
<rect x="399.2" y="927.4" width="4" height="7.1" fill="#63b8ff"/>
<text x="475.90" y="934.80" font-size="10.8" text-anchor="end" fill="#000000">11%</text>
<rect class="g" x="58" y="937.95" width="3.05" height="10.2"/>
<rect x="58" y="941.95" width="3.05" height="2.2" fill="#ee3b3b"/>
<rect class="g" x="62.8" y="937.95" width="3.05" height="10.2"/>
<rect class="g" x="67.6" y="937.95" width="3.05" height="10.2"/>
<rect class="g" x="72.4" y="937.95" width="3.05" height="10.2"/>
<rect class="g" x="77.2" y="937.95" width="3.05" height="10.2"/>
<rect class="g" x="82" y="937.95" width="3.05" height="10.2"/>
<rect class="g" x="86.8" y="937.95" width="3.05" height="10.2"/>
<rect x="91.6" y="937.95" width="3.05" height="10.2" fill="#ffa54f"/>
<rect class="g" x="96.4" y="937.95" width="3.05" height="10.2"/>
<rect class="g" x="101.2" y="937.95" width="3.05" height="10.2"/>
<rect class="g" x="106" y="937.95" width="3.05" height="10.2"/>
<rect class="g" x="110.8" y="937.95" width="3.05" height="10.2"/>
<rect class="g" x="115.6" y="937.95" width="3.05" height="10.2"/>
<rect class="g" x="120.4" y="937.95" width="3.05" height="10.2"/>
<rect class="g" x="125.2" y="937.95" width="3.05" height="10.2"/>
<rect class="g" x="130" y="937.95" width="3.05" height="10.2"/>
<rect class="g" x="134.8" y="937.95" width="3.05" height="10.2"/>
<rect x="139.6" y="937.95" width="3.05" height="10.2" fill="#63b8ff"/>
<rect class="g" x="144.4" y="937.95" width="3.05" height="10.2"/>
<rect class="g" x="149.2" y="937.95" width="3.05" height="10.2"/>
<rect class="g" x="154" y="937.95" width="3.05" height="10.2"/>
<rect class="g" x="158.8" y="937.95" width="3.05" height="10.2"/>
<rect class="g" x="163.6" y="937.95" width="3.05" height="10.2"/>
<rect x="168.4" y="937.95" width="3.05" height="10.2" fill="#7b68ee"/>
<rect class="g" x="173.2" y="937.95" width="3.05" height="10.2"/>
<rect class="g" x="178" y="937.95" width="3.05" height="10.2"/>
<rect x="182.8" y="937.95" width="3.05" height="10.2" fill="#7b68ee"/>
<rect class="g" x="187.6" y="937.95" width="3.05" height="10.2"/>
<rect class="g" x="192.4" y="937.95" width="3.05" height="10.2"/>
<rect class="g" x="197.2" y="937.95" width="3.05" height="10.2"/>
<rect x="197.2" y="941.95" width="3.05" height="2.2" fill="#ee3b3b"/>
<rect class="g" x="202" y="937.95" width="3.05" height="10.2"/>
<rect class="g" x="206.8" y="937.95" width="3.05" height="10.2"/>
<rect class="g" x="211.6" y="937.95" width="3.05" height="10.2"/>
<rect class="g" x="216.4" y="937.95" width="3.05" height="10.2"/>
<rect class="g" x="221.2" y="937.95" width="3.05" height="10.2"/>
<rect class="g" x="226" y="937.95" width="3.05" height="10.2"/>
<rect class="g" x="230.8" y="937.95" width="3.05" height="10.2"/>
<rect class="g" x="235.6" y="937.95" width="3.05" height="10.2"/>
<rect class="g" x="240.4" y="937.95" width="3.05" height="10.2"/>
<rect class="g" x="245.2" y="937.95" width="3.05" height="10.2"/>
<rect class="g" x="250" y="937.95" width="3.05" height="10.2"/>
<rect class="g" x="254.8" y="937.95" width="3.05" height="10.2"/>
<rect class="g" x="259.6" y="937.95" width="3.05" height="10.2"/>
<rect class="g" x="264.4" y="937.95" width="3.05" height="10.2"/>
<rect class="g" x="269.2" y="937.95" width="3.05" height="10.2"/>
<rect class="g" x="274" y="937.95" width="3.05" height="10.2"/>
<rect class="g" x="278.8" y="937.95" width="3.05" height="10.2"/>
<rect class="g" x="283.6" y="937.95" width="3.05" height="10.2"/>
<rect class="g" x="288.4" y="937.95" width="3.05" height="10.2"/>
<rect class="g" x="293.2" y="937.95" width="3.05" height="10.2"/>
<rect class="g" x="298" y="937.95" width="3.05" height="10.2"/>
<rect class="g" x="302.8" y="937.95" width="3.05" height="10.2"/>
<rect class="g" x="307.6" y="937.95" width="3.05" height="10.2"/>
<rect class="g" x="312.4" y="937.95" width="3.05" height="10.2"/>
<rect class="g" x="317.2" y="937.95" width="3.05" height="10.2"/>
<rect class="g" x="322" y="937.95" width="3.05" height="10.2"/>
<rect class="g" x="326.8" y="937.95" width="3.05" height="10.2"/>
<rect class="g" x="331.6" y="937.95" width="3.05" height="10.2"/>
<rect class="g" x="336.4" y="937.95" width="3.05" height="10.2"/>
<text x="341.40" y="946.85" font-size="10.8" fill="#000000">ARID1A</text>
<rect x="389.2" y="939.45" width="4" height="7.1" fill="#ee3b3b"/>
<rect x="393.2" y="939.45" width="2" height="7.1" fill="#63b8ff"/>
<rect x="395.2" y="939.45" width="2" height="7.1" fill="#ffa54f"/>
<rect x="397.2" y="939.45" width="4" height="7.1" fill="#7b68ee"/>
<text x="475.90" y="946.85" font-size="10.8" text-anchor="end" fill="#000000">10%</text>
<rect class="g" x="58" y="949.9" width="3.05" height="10.2"/>
<rect class="g" x="62.8" y="949.9" width="3.05" height="10.2"/>
<rect class="g" x="67.6" y="949.9" width="3.05" height="10.2"/>
<rect class="g" x="72.4" y="949.9" width="3.05" height="10.2"/>
<rect class="g" x="77.2" y="949.9" width="3.05" height="10.2"/>
<rect class="g" x="82" y="949.9" width="3.05" height="10.2"/>
<rect class="g" x="86.8" y="949.9" width="3.05" height="10.2"/>
<rect class="g" x="91.6" y="949.9" width="3.05" height="10.2"/>
<rect class="g" x="96.4" y="949.9" width="3.05" height="10.2"/>
<rect class="g" x="101.2" y="949.9" width="3.05" height="10.2"/>
<rect class="g" x="106" y="949.9" width="3.05" height="10.2"/>
<rect class="g" x="110.8" y="949.9" width="3.05" height="10.2"/>
<rect class="g" x="115.6" y="949.9" width="3.05" height="10.2"/>
<rect class="g" x="120.4" y="949.9" width="3.05" height="10.2"/>
<rect class="g" x="125.2" y="949.9" width="3.05" height="10.2"/>
<rect class="g" x="130" y="949.9" width="3.05" height="10.2"/>
<rect class="g" x="134.8" y="949.9" width="3.05" height="10.2"/>
<rect class="g" x="139.6" y="949.9" width="3.05" height="10.2"/>
<rect class="g" x="144.4" y="949.9" width="3.05" height="10.2"/>
<rect class="g" x="149.2" y="949.9" width="3.05" height="10.2"/>
<rect class="g" x="154" y="949.9" width="3.05" height="10.2"/>
<rect class="g" x="158.8" y="949.9" width="3.05" height="10.2"/>
<rect class="g" x="163.6" y="949.9" width="3.05" height="10.2"/>
<rect class="g" x="168.4" y="949.9" width="3.05" height="10.2"/>
<rect x="173.2" y="949.9" width="3.05" height="10.2" fill="#63b8ff"/>
<rect class="g" x="178" y="949.9" width="3.05" height="10.2"/>
<rect class="g" x="182.8" y="949.9" width="3.05" height="10.2"/>
<rect class="g" x="187.6" y="949.9" width="3.05" height="10.2"/>
<rect class="g" x="192.4" y="949.9" width="3.05" height="10.2"/>
<rect class="g" x="197.2" y="949.9" width="3.05" height="10.2"/>
<rect class="g" x="202" y="949.9" width="3.05" height="10.2"/>
<rect class="g" x="206.8" y="949.9" width="3.05" height="10.2"/>
<rect class="g" x="211.6" y="949.9" width="3.05" height="10.2"/>
<rect class="g" x="216.4" y="949.9" width="3.05" height="10.2"/>
<rect x="221.2" y="949.9" width="3.05" height="10.2" fill="#ffff00"/>
<rect class="g" x="226" y="949.9" width="3.05" height="10.2"/>
<rect class="g" x="230.8" y="949.9" width="3.05" height="10.2"/>
<rect class="g" x="235.6" y="949.9" width="3.05" height="10.2"/>
<rect class="g" x="240.4" y="949.9" width="3.05" height="10.2"/>
<rect class="g" x="245.2" y="949.9" width="3.05" height="10.2"/>
<rect class="g" x="250" y="949.9" width="3.05" height="10.2"/>
<rect class="g" x="254.8" y="949.9" width="3.05" height="10.2"/>
<rect class="g" x="259.6" y="949.9" width="3.05" height="10.2"/>
<rect class="g" x="264.4" y="949.9" width="3.05" height="10.2"/>
<rect class="g" x="269.2" y="949.9" width="3.05" height="10.2"/>
<rect class="g" x="274" y="949.9" width="3.05" height="10.2"/>
<rect class="g" x="278.8" y="949.9" width="3.05" height="10.2"/>
<rect class="g" x="283.6" y="949.9" width="3.05" height="10.2"/>
<rect class="g" x="288.4" y="949.9" width="3.05" height="10.2"/>
<rect class="g" x="293.2" y="949.9" width="3.05" height="10.2"/>
<rect class="g" x="298" y="949.9" width="3.05" height="10.2"/>
<rect class="g" x="302.8" y="949.9" width="3.05" height="10.2"/>
<rect class="g" x="307.6" y="949.9" width="3.05" height="10.2"/>
<rect class="g" x="312.4" y="949.9" width="3.05" height="10.2"/>
<rect x="317.2" y="949.9" width="3.05" height="10.2" fill="#63b8ff"/>
<rect class="g" x="322" y="949.9" width="3.05" height="10.2"/>
<rect class="g" x="326.8" y="949.9" width="3.05" height="10.2"/>
<rect class="g" x="331.6" y="949.9" width="3.05" height="10.2"/>
<rect class="g" x="336.4" y="949.9" width="3.05" height="10.2"/>
<text x="341.40" y="958.80" font-size="10.8" fill="#000000">APC</text>
<rect x="389.2" y="951.4" width="4" height="7.1" fill="#63b8ff"/>
<rect x="393.2" y="951.4" width="2" height="7.1" fill="#ffff00"/>
<text x="474.30" y="958.80" font-size="10.8" text-anchor="end" fill="#000000">5%</text>
<text x="0" y="0" font-size="10.8" fill="#000000" text-anchor="middle" transform="translate(41.9,941.35) rotate(-90)">Other</text>
<polyline points="487.9,228.8 501.7,228.8 501.7,304.8 487.9,304.8" fill="none" stroke="#cdcdcd" stroke-width="1.55"/>
<line x1="501.70" y1="266.90" x2="517.00" y2="266.90" stroke="#cdcdcd" stroke-width="1.55"/>
<polyline points="487.9,308.5 501.7,308.5 501.7,959.8 487.9,959.8" fill="none" stroke="#cdcdcd" stroke-width="1.55"/>
<line x1="501.70" y1="705.80" x2="517.00" y2="705.80" stroke="#cdcdcd" stroke-width="1.55"/>
<rect x="517.0" y="228.9" width="166.0" height="391.0" fill="#fff" stroke="#cdcdcd" stroke-width="1.55"/>
<rect x="517.0" y="637.6" width="166.0" height="136.0" fill="#fff" stroke="#cdcdcd" stroke-width="1.55"/>
<text x="524.90" y="244.40" font-size="10.8" font-weight="bold" fill="#000000">Clinical and pathological data</text>
<text x="524.90" y="261.50" font-size="10.8" fill="#000000">Gender</text>
<rect x="525.6" y="267" width="12.4" height="11.9" fill="#ee3b3b"/>
<text x="541.60" y="277.30" font-size="10.8" fill="#000000">Male</text>
<rect x="525.6" y="280.2" width="12.4" height="12.2" fill="#ffb6c1"/>
<text x="541.60" y="290.90" font-size="10.8" fill="#000000">Female</text>
<text x="524.90" y="308.40" font-size="10.8" fill="#000000">Smoking Status</text>
<rect x="525.6" y="313.1" width="12.4" height="11.8" fill="#104e8b"/>
<text x="541.60" y="323.60" font-size="10.8" fill="#000000">Heavy smoker (&gt;50 py)</text>
<rect x="525.6" y="327.1" width="12.4" height="11.9" fill="#63b8ff"/>
<text x="541.60" y="337.80" font-size="10.8" fill="#000000">Moderate smoker (&lt;50 py)</text>
<rect x="525.6" y="341" width="12.4" height="11.8" fill="#c6e4ea"/>
<text x="541.60" y="351.40" font-size="10.8" fill="#000000">Never smoker</text>
<rect x="525.6" y="354.1" width="12.4" height="11.7" fill="#bebebe"/>
<text x="541.60" y="364.80" font-size="10.8" fill="#000000">Unknown</text>
<text x="524.90" y="385.00" font-size="10.8" fill="#000000">Location of primary</text>
<rect x="525.6" y="391" width="12.4" height="11.6" fill="#008b45"/>
<text x="541.60" y="400.90" font-size="10.8" fill="#000000">Parotid gland</text>
<rect x="525.6" y="404.1" width="12.4" height="11.8" fill="#6cbd2a"/>
<text x="541.60" y="414.60" font-size="10.8" fill="#000000">Submandibular gland</text>
<rect x="525.6" y="417.9" width="12.4" height="11.7" fill="#b2df8a"/>
<text x="541.60" y="427.70" font-size="10.8" fill="#000000">Sublingual gland</text>
<text x="524.90" y="444.60" font-size="10.8" fill="#000000">Carcinoma ex pleomorphic</text>
<text x="524.90" y="457.60" font-size="10.8" fill="#000000">adenoma</text>
<rect x="525.6" y="461.1" width="12.4" height="11.7" fill="#c9ab1b"/>
<text x="541.60" y="471.20" font-size="10.8" fill="#000000">No</text>
<rect x="525.6" y="474.6" width="12.4" height="12.2" fill="#ffff00"/>
<text x="541.60" y="484.60" font-size="10.8" fill="#000000">Yes</text>
<text x="524.90" y="504.80" font-size="10.8" fill="#000000">Lymph node metastasis</text>
<rect x="525.6" y="510.2" width="12.4" height="11.8" fill="#28087e"/>
<text x="541.60" y="520.60" font-size="10.8" fill="#000000">No</text>
<rect x="525.6" y="524" width="12.4" height="11.7" fill="#7b68ee"/>
<text x="541.60" y="533.50" font-size="10.8" fill="#000000">Yes</text>
<rect x="525.6" y="537.1" width="12.4" height="11.7" fill="#bebebe"/>
<text x="541.60" y="546.80" font-size="10.8" fill="#000000">Unknown</text>
<text x="524.90" y="565.10" font-size="10.8" fill="#000000">Lympho-vascular invasion</text>
<rect x="525.6" y="570.9" width="12.4" height="11.6" fill="#000000"/>
<text x="541.60" y="580.70" font-size="10.8" fill="#000000">No</text>
<rect x="525.6" y="584.3" width="12.4" height="11.6" fill="#f5f5dc"/>
<text x="541.60" y="594.10" font-size="10.8" fill="#000000">Yes</text>
<rect x="525.6" y="597.2" width="12.4" height="12.2" fill="#bebebe"/>
<text x="541.60" y="607.30" font-size="10.8" fill="#000000">Unknown</text>
<text x="526.10" y="654.40" font-size="10.8" font-weight="bold" fill="#000000">Genomic alterations</text>
<rect x="526.1" y="660.2" width="12.2" height="11.8" fill="#7b68ee"/>
<text x="541.60" y="668.70" font-size="10.8" fill="#000000">Frameshift indel</text>
<rect x="526.1" y="673.04" width="12.2" height="11.8" fill="#ff69b4"/>
<text x="541.60" y="681.66" font-size="10.8" fill="#000000">In-frame indel</text>
<rect x="526.1" y="685.88" width="12.2" height="11.8" fill="#63b8ff"/>
<text x="541.60" y="694.62" font-size="10.8" fill="#000000">Missense</text>
<rect x="526.1" y="698.72" width="12.2" height="11.8" fill="#ffa54f"/>
<text x="541.60" y="707.58" font-size="10.8" fill="#000000">Nonsense</text>
<rect x="526.1" y="711.56" width="12.2" height="11.8" fill="#008b45"/>
<text x="541.60" y="720.54" font-size="10.8" fill="#000000">Spliced</text>
<rect x="526.1" y="724.4" width="12.2" height="11.8" fill="#ffff00"/>
<text x="541.60" y="733.50" font-size="10.8" fill="#000000">Multi hit</text>
<rect x="526.1" y="737.24" width="12.2" height="11.8" fill="#ee3b3b"/>
<text x="541.60" y="746.46" font-size="10.8" fill="#000000">Amplification</text>
<rect x="526.1" y="750.08" width="12.2" height="11.8" fill="#000000"/>
<text x="541.60" y="759.42" font-size="10.8" fill="#000000">Deletion</text>
</svg></body></html>
